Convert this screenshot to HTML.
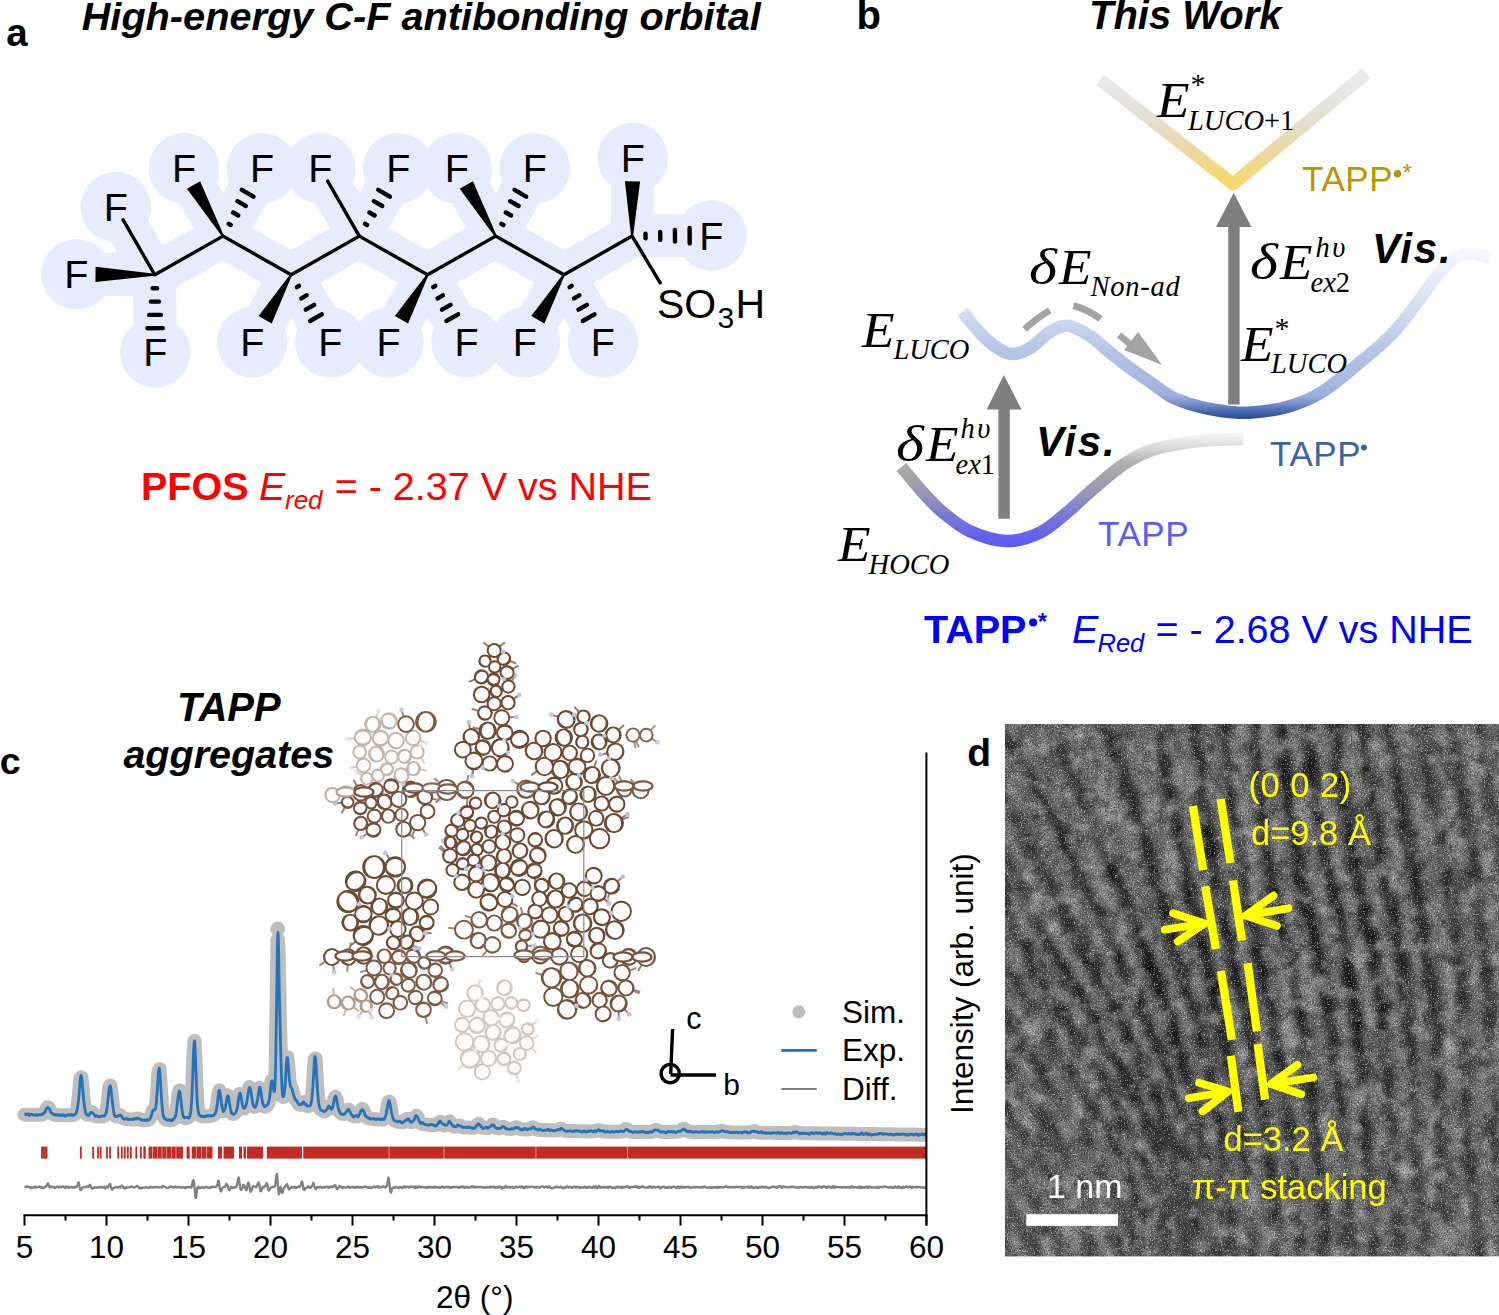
<!DOCTYPE html>
<html><head><meta charset="utf-8"><style>
html,body{margin:0;padding:0;background:#fff;width:1499px;height:1315px;overflow:hidden}
svg{display:block}
.s{font-family:"Liberation Sans",sans-serif}
.sb{font-family:"Liberation Sans",sans-serif;font-weight:bold}
.sbi{font-family:"Liberation Sans",sans-serif;font-weight:bold;font-style:italic}
.si{font-family:"Liberation Sans",sans-serif;font-style:italic}
.r{font-family:"Liberation Serif",serif}
.ri{font-family:"Liberation Serif",serif;font-style:italic}
</style></head><body>
<svg width="1499" height="1315" viewBox="0 0 1499 1315">
<rect width="1499" height="1315" fill="#fff"/>
<text x="6.2" y="45.8" class="sb" font-size="38.5">a</text>
<text x="81.7" y="30" class="sbi" font-size="39.7">High-energy C-F antibonding orbital</text>
<g><polyline points="154.8,274.8 223.0,236.1 291.2,274.8 359.3,236.1 427.5,274.8 495.7,236.1 563.9,274.8 632.1,236.1" fill="none" stroke="#E6ECFE" stroke-width="43" stroke-linejoin="round" stroke-linecap="round"/><line x1="154.8" y1="274.8" x2="115.8" y2="207.0" stroke="#E6ECFE" stroke-width="43" stroke-linecap="round"/><circle cx="115.8" cy="207.0" r="35.3" fill="#E6ECFE"/><line x1="154.8" y1="274.8" x2="76.3" y2="274.2" stroke="#E6ECFE" stroke-width="43" stroke-linecap="round"/><circle cx="76.3" cy="274.2" r="35.3" fill="#E6ECFE"/><line x1="154.8" y1="274.8" x2="155.3" y2="352.4" stroke="#E6ECFE" stroke-width="43" stroke-linecap="round"/><circle cx="155.3" cy="352.4" r="35.3" fill="#E6ECFE"/><line x1="223.0" y1="236.1" x2="184.0" y2="168.3" stroke="#E6ECFE" stroke-width="43" stroke-linecap="round"/><circle cx="184.0" cy="168.3" r="35.3" fill="#E6ECFE"/><line x1="223.0" y1="236.1" x2="262.0" y2="168.3" stroke="#E6ECFE" stroke-width="43" stroke-linecap="round"/><circle cx="262.0" cy="168.3" r="35.3" fill="#E6ECFE"/><line x1="291.2" y1="274.8" x2="252.2" y2="342.3" stroke="#E6ECFE" stroke-width="43" stroke-linecap="round"/><circle cx="252.2" cy="342.3" r="35.3" fill="#E6ECFE"/><line x1="291.2" y1="274.8" x2="330.2" y2="342.3" stroke="#E6ECFE" stroke-width="43" stroke-linecap="round"/><circle cx="330.2" cy="342.3" r="35.3" fill="#E6ECFE"/><line x1="359.3" y1="236.1" x2="320.3" y2="168.3" stroke="#E6ECFE" stroke-width="43" stroke-linecap="round"/><circle cx="320.3" cy="168.3" r="35.3" fill="#E6ECFE"/><line x1="359.3" y1="236.1" x2="398.3" y2="168.3" stroke="#E6ECFE" stroke-width="43" stroke-linecap="round"/><circle cx="398.3" cy="168.3" r="35.3" fill="#E6ECFE"/><line x1="427.5" y1="274.8" x2="388.5" y2="342.3" stroke="#E6ECFE" stroke-width="43" stroke-linecap="round"/><circle cx="388.5" cy="342.3" r="35.3" fill="#E6ECFE"/><line x1="427.5" y1="274.8" x2="466.5" y2="342.3" stroke="#E6ECFE" stroke-width="43" stroke-linecap="round"/><circle cx="466.5" cy="342.3" r="35.3" fill="#E6ECFE"/><line x1="495.7" y1="236.1" x2="456.7" y2="168.3" stroke="#E6ECFE" stroke-width="43" stroke-linecap="round"/><circle cx="456.7" cy="168.3" r="35.3" fill="#E6ECFE"/><line x1="495.7" y1="236.1" x2="534.7" y2="168.3" stroke="#E6ECFE" stroke-width="43" stroke-linecap="round"/><circle cx="534.7" cy="168.3" r="35.3" fill="#E6ECFE"/><line x1="563.9" y1="274.8" x2="524.9" y2="342.3" stroke="#E6ECFE" stroke-width="43" stroke-linecap="round"/><circle cx="524.9" cy="342.3" r="35.3" fill="#E6ECFE"/><line x1="563.9" y1="274.8" x2="602.9" y2="342.3" stroke="#E6ECFE" stroke-width="43" stroke-linecap="round"/><circle cx="602.9" cy="342.3" r="35.3" fill="#E6ECFE"/><line x1="632.1" y1="236.1" x2="632.7" y2="157.9" stroke="#E6ECFE" stroke-width="43" stroke-linecap="round"/><circle cx="632.7" cy="157.9" r="35.3" fill="#E6ECFE"/><line x1="632.1" y1="236.1" x2="711.4" y2="235.5" stroke="#E6ECFE" stroke-width="43" stroke-linecap="round"/><circle cx="711.4" cy="235.5" r="35.3" fill="#E6ECFE"/></g>
<g><polyline points="154.8,274.8 223.0,236.1 291.2,274.8 359.3,236.1 427.5,274.8 495.7,236.1 563.9,274.8 632.1,236.1" fill="none" stroke="#000" stroke-width="3.4" stroke-linejoin="miter"/><line x1="632.1" y1="236.1" x2="660.2" y2="282.8" stroke="#000" stroke-width="3.4" stroke-linecap="round"/><line x1="154.8" y1="274.8" x2="123.1" y2="219.8" stroke="#000" stroke-width="3.4" stroke-linecap="round"/><polygon points="154.8,273.8 95.6,266.7 95.4,281.9 154.8,275.8" fill="#000"/><line x1="152.7" y1="288.3" x2="157.1" y2="288.3" stroke="#000" stroke-width="4.4" stroke-linecap="round"/><line x1="150.9" y1="301.6" x2="159.0" y2="301.6" stroke="#000" stroke-width="4.4" stroke-linecap="round"/><line x1="149.2" y1="314.9" x2="160.9" y2="314.9" stroke="#000" stroke-width="4.4" stroke-linecap="round"/><line x1="147.5" y1="328.2" x2="162.8" y2="328.1" stroke="#000" stroke-width="4.4" stroke-linecap="round"/><polygon points="223.8,235.6 200.1,181.2 187.0,188.7 222.1,236.6" fill="#000"/><line x1="230.8" y1="225.0" x2="228.7" y2="223.8" stroke="#000" stroke-width="4.4" stroke-linecap="round"/><line x1="238.3" y1="215.5" x2="233.1" y2="212.5" stroke="#000" stroke-width="4.4" stroke-linecap="round"/><line x1="245.9" y1="206.0" x2="237.4" y2="201.2" stroke="#000" stroke-width="4.4" stroke-linecap="round"/><line x1="253.5" y1="196.6" x2="241.8" y2="189.8" stroke="#000" stroke-width="4.4" stroke-linecap="round"/><polygon points="290.3,274.3 258.6,316.0 271.7,323.6 292.0,275.3" fill="#000"/><line x1="296.9" y1="287.1" x2="299.0" y2="285.9" stroke="#000" stroke-width="4.4" stroke-linecap="round"/><line x1="301.3" y1="298.4" x2="306.6" y2="295.4" stroke="#000" stroke-width="4.4" stroke-linecap="round"/><line x1="305.7" y1="309.7" x2="314.2" y2="304.8" stroke="#000" stroke-width="4.4" stroke-linecap="round"/><line x1="310.1" y1="321.0" x2="321.8" y2="314.3" stroke="#000" stroke-width="4.4" stroke-linecap="round"/><line x1="359.3" y1="236.1" x2="327.7" y2="181.1" stroke="#000" stroke-width="3.4" stroke-linecap="round"/><line x1="367.1" y1="225.0" x2="365.0" y2="223.8" stroke="#000" stroke-width="4.4" stroke-linecap="round"/><line x1="374.7" y1="215.5" x2="369.4" y2="212.5" stroke="#000" stroke-width="4.4" stroke-linecap="round"/><line x1="382.3" y1="206.0" x2="373.8" y2="201.2" stroke="#000" stroke-width="4.4" stroke-linecap="round"/><line x1="389.9" y1="196.6" x2="378.2" y2="189.8" stroke="#000" stroke-width="4.4" stroke-linecap="round"/><polygon points="426.7,274.3 394.9,316.0 408.1,323.6 428.4,275.3" fill="#000"/><line x1="433.2" y1="287.1" x2="435.3" y2="285.9" stroke="#000" stroke-width="4.4" stroke-linecap="round"/><line x1="437.6" y1="298.4" x2="442.9" y2="295.4" stroke="#000" stroke-width="4.4" stroke-linecap="round"/><line x1="442.0" y1="309.7" x2="450.5" y2="304.8" stroke="#000" stroke-width="4.4" stroke-linecap="round"/><line x1="446.4" y1="321.0" x2="458.1" y2="314.3" stroke="#000" stroke-width="4.4" stroke-linecap="round"/><polygon points="496.6,235.6 472.9,181.2 459.7,188.7 494.8,236.6" fill="#000"/><line x1="503.5" y1="225.0" x2="501.4" y2="223.8" stroke="#000" stroke-width="4.4" stroke-linecap="round"/><line x1="511.1" y1="215.5" x2="505.8" y2="212.5" stroke="#000" stroke-width="4.4" stroke-linecap="round"/><line x1="518.6" y1="206.0" x2="510.2" y2="201.2" stroke="#000" stroke-width="4.4" stroke-linecap="round"/><line x1="526.2" y1="196.6" x2="514.5" y2="189.8" stroke="#000" stroke-width="4.4" stroke-linecap="round"/><polygon points="563.0,274.3 531.3,316.0 544.4,323.6 564.7,275.3" fill="#000"/><line x1="569.6" y1="287.1" x2="571.7" y2="285.9" stroke="#000" stroke-width="4.4" stroke-linecap="round"/><line x1="574.0" y1="298.4" x2="579.3" y2="295.4" stroke="#000" stroke-width="4.4" stroke-linecap="round"/><line x1="578.4" y1="309.7" x2="586.9" y2="304.8" stroke="#000" stroke-width="4.4" stroke-linecap="round"/><line x1="582.8" y1="321.0" x2="594.5" y2="314.3" stroke="#000" stroke-width="4.4" stroke-linecap="round"/><polygon points="633.1,236.1 640.1,181.5 624.9,181.3 631.1,236.1" fill="#000"/><line x1="645.6" y1="238.2" x2="645.5" y2="233.8" stroke="#000" stroke-width="4.4" stroke-linecap="round"/><line x1="660.3" y1="239.9" x2="660.2" y2="231.9" stroke="#000" stroke-width="4.4" stroke-linecap="round"/><line x1="675.0" y1="241.6" x2="674.9" y2="229.9" stroke="#000" stroke-width="4.4" stroke-linecap="round"/><line x1="689.7" y1="243.4" x2="689.6" y2="228.0" stroke="#000" stroke-width="4.4" stroke-linecap="round"/></g>
<g><text x="115.8" y="221.0" text-anchor="middle" class="s" font-size="39.5">F</text><text x="76.3" y="288.2" text-anchor="middle" class="s" font-size="39.5">F</text><text x="155.3" y="366.4" text-anchor="middle" class="s" font-size="39.5">F</text><text x="184.0" y="182.3" text-anchor="middle" class="s" font-size="39.5">F</text><text x="262.0" y="182.3" text-anchor="middle" class="s" font-size="39.5">F</text><text x="252.2" y="356.3" text-anchor="middle" class="s" font-size="39.5">F</text><text x="330.2" y="356.3" text-anchor="middle" class="s" font-size="39.5">F</text><text x="320.3" y="182.3" text-anchor="middle" class="s" font-size="39.5">F</text><text x="398.3" y="182.3" text-anchor="middle" class="s" font-size="39.5">F</text><text x="388.5" y="356.3" text-anchor="middle" class="s" font-size="39.5">F</text><text x="466.5" y="356.3" text-anchor="middle" class="s" font-size="39.5">F</text><text x="456.7" y="182.3" text-anchor="middle" class="s" font-size="39.5">F</text><text x="534.7" y="182.3" text-anchor="middle" class="s" font-size="39.5">F</text><text x="524.9" y="356.3" text-anchor="middle" class="s" font-size="39.5">F</text><text x="602.9" y="356.3" text-anchor="middle" class="s" font-size="39.5">F</text><text x="632.7" y="171.9" text-anchor="middle" class="s" font-size="39.5">F</text><text x="711.4" y="249.5" text-anchor="middle" class="s" font-size="39.5">F</text></g>
<text x="657" y="317.5" class="s" font-size="41">SO</text><text x="717.5" y="327.6" class="s" font-size="30">3</text><text x="735.4" y="317.5" class="s" font-size="41">H</text>
<g fill="#FF0000"><text x="141" y="499.5" class="sb" font-size="39.5">PFOS</text><text x="259" y="499.5" class="si" font-size="39.5">E</text><text x="285" y="509" class="si" font-size="26">red</text><text x="334.7" y="499.5" class="s" font-size="39.5">= - 2.37 V vs NHE</text></g>
<text x="856.4" y="28.7" class="sb" font-size="40">b</text>
<text x="1089" y="29.1" class="sbi" font-size="40">This Work</text>
<defs>
<linearGradient id="gY" gradientUnits="userSpaceOnUse" x1="0" y1="72" x2="0" y2="190">
<stop offset="0" stop-color="#EBEBEE"/><stop offset="0.3" stop-color="#E4E2DC"/><stop offset="0.55" stop-color="#E6DBB8"/><stop offset="0.8" stop-color="#F3D784"/><stop offset="1" stop-color="#FCD764"/></linearGradient>
<linearGradient id="gB" gradientUnits="userSpaceOnUse" x1="0" y1="250" x2="0" y2="419">
<stop offset="0" stop-color="#F6F8FC"/><stop offset="0.36" stop-color="#D2DDF0"/><stop offset="0.47" stop-color="#C4D2EC"/><stop offset="0.62" stop-color="#B2C3E7"/><stop offset="0.78" stop-color="#A6B9E3"/><stop offset="0.86" stop-color="#9BB0DE"/><stop offset="0.91" stop-color="#7890CC"/><stop offset="0.95" stop-color="#4E6CB2"/><stop offset="1" stop-color="#284A9A"/></linearGradient>
<linearGradient id="gP" gradientUnits="userSpaceOnUse" x1="0" y1="436" x2="0" y2="548">
<stop offset="0" stop-color="#F2F2F4"/><stop offset="0.125" stop-color="#D4D4D6"/><stop offset="0.23" stop-color="#B2B2B2"/><stop offset="0.35" stop-color="#A5A5A8"/><stop offset="0.48" stop-color="#9A9AB2"/><stop offset="0.61" stop-color="#8888C8"/><stop offset="0.75" stop-color="#7474DC"/><stop offset="0.88" stop-color="#6464EE"/><stop offset="1" stop-color="#5858F6"/></linearGradient>
</defs>
<path d="M1100,79.6 L1233,184 L1366.2,73.3" fill="none" stroke="url(#gY)" stroke-width="13" stroke-linejoin="round"/>
<path d="M962.6,311.8 C965.5,315.3 974.4,327.1 980.0,333.0 C985.6,338.9 990.7,343.5 996.0,347.0 C1001.3,350.5 1006.3,353.8 1012.0,354.0 C1017.7,354.2 1023.7,351.7 1030.0,348.0 C1036.3,344.3 1043.7,335.7 1050.0,332.0 C1056.3,328.3 1061.3,325.1 1068.0,325.8 C1074.7,326.5 1083.0,331.6 1090.0,336.0 C1097.0,340.4 1103.3,347.2 1110.0,352.5 C1116.7,357.8 1123.3,363.1 1130.0,368.0 C1136.7,372.9 1143.3,377.3 1150.0,382.0 C1156.7,386.7 1163.3,392.3 1170.0,396.0 C1176.7,399.7 1183.3,401.8 1190.0,404.0 C1196.7,406.2 1203.3,407.7 1210.0,409.0 C1216.7,410.3 1223.2,411.4 1230.0,412.0 C1236.8,412.6 1241.0,413.4 1250.5,412.6 C1260.0,411.8 1275.1,410.4 1287.0,407.0 C1298.9,403.6 1310.2,399.2 1322.0,392.0 C1333.8,384.8 1346.3,373.7 1358.0,364.0 C1369.7,354.3 1382.2,344.2 1392.0,334.0 C1401.8,323.8 1409.7,312.5 1417.0,303.0 C1424.3,293.5 1430.0,284.3 1436.0,277.0 C1442.0,269.7 1447.5,262.9 1453.0,259.0 C1458.5,255.1 1462.8,253.8 1469.0,253.5 C1475.2,253.2 1486.5,256.8 1490.0,257.5" fill="none" stroke="url(#gB)" stroke-width="12.5"/>
<path d="M901.4,466.9 C904.9,471.1 915.7,484.5 922.5,492.0 C929.3,499.5 934.1,505.1 942.0,511.7 C949.9,518.2 959.2,526.4 970.0,531.3 C980.8,536.2 994.8,540.9 1006.5,541.1 C1018.2,541.3 1029.8,537.6 1040.0,532.7 C1050.2,527.8 1058.7,519.4 1068.0,511.7 C1077.3,504.0 1086.6,494.4 1096.0,486.5 C1105.4,478.6 1114.8,470.1 1124.2,464.0 C1133.6,457.9 1140.5,453.7 1152.2,450.0 C1163.9,446.3 1179.0,443.5 1194.2,441.6 C1209.4,439.7 1235.1,439.3 1243.3,438.8" fill="none" stroke="url(#gP)" stroke-width="12.5"/>
<path d="M1228.2,404.5 L1228.2,227 L1216,227 L1233.7,193 L1251.5,227 L1239.6,227 L1239.6,404.5 Z" fill="#7F7F7F"/>
<path d="M998.4,518.7 L998.4,409.6 L986.6,409.6 L1003.8,375 L1021.6,409.6 L1009.8,409.6 L1009.8,518.7 Z" fill="#7F7F7F"/>
<g stroke="#A3A3A3" stroke-width="6.8" fill="none"><path d="M1024.6,329.4 Q1036,318.5 1049.7,310.4"/><path d="M1073.3,305.6 Q1088,309.5 1100.5,319"/><path d="M1119.1,335 L1131.1,345"/></g>
<polygon points="1124.1,350 1138.1,332 1162.1,365" fill="#A3A3A3"/>
<text x="0" y="0" class="ri" font-size="50" transform="translate(1157,117) scale(1.065,1)">E</text>
<text x="1190.5" y="94" class="r" font-size="30">*</text>
<text x="1188" y="129.8" class="ri" font-size="28.5">LUCO<tspan class="r" font-style="normal">+1</tspan></text>
<text x="1302" y="190.8" class="s" font-size="35" letter-spacing="0.6" fill="#C29204">TAPP</text>
<circle cx="1397.5" cy="173.7" r="3.7" fill="#C29204"/><text x="1402.6" y="181.4" class="s" font-size="24" fill="#C29204">*</text>
<text x="1029" y="284" class="ri" font-size="50" transform="translate(1029,284) scale(1.2,1) translate(-1029,-284)">δ</text>
<text x="0" y="0" class="ri" font-size="50" transform="translate(1059,284) scale(1.065,1)">E</text>
<text x="1090.6" y="295.7" class="ri" font-size="28.5"><tspan letter-spacing="0.75">Non-ad</tspan></text>
<text x="1250" y="279" class="ri" font-size="50" transform="translate(1250,279) scale(1.2,1) translate(-1250,-279)">δ</text>
<text x="0" y="0" class="ri" font-size="50" transform="translate(1280,278.9) scale(1.065,1)">E</text>
<text x="1315.5" y="257.2" class="ri" font-size="28.5">h<tspan dx="2.5">υ</tspan></text>
<text x="1310.5" y="291.5" class="ri" font-size="28.5">ex<tspan class="r" font-style="normal">2</tspan></text>
<text x="1372" y="262.8" class="sbi" font-size="42" letter-spacing="1.8">Vis.</text>
<text x="0" y="0" class="ri" font-size="50" transform="translate(862,346.8) scale(1.065,1)">E</text>
<text x="893.4" y="359" class="ri" font-size="28.5">LUCO</text>
<text x="0" y="0" class="ri" font-size="50" transform="translate(1241,360.8) scale(1.065,1)">E</text>
<text x="1274.5" y="338" class="r" font-size="30">*</text>
<text x="1271" y="372.8" class="ri" font-size="28.5">LUCO</text>
<text x="896" y="461" class="ri" font-size="50" transform="translate(896,461) scale(1.2,1) translate(-896,-461)">δ</text>
<text x="0" y="0" class="ri" font-size="50" transform="translate(926,460.6) scale(1.065,1)">E</text>
<text x="960.5" y="438.4" class="ri" font-size="28.5">h<tspan dx="2.5">υ</tspan></text>
<text x="955.5" y="473.7" class="ri" font-size="28.5">ex<tspan class="r" font-style="normal">1</tspan></text>
<text x="1036" y="455.7" class="sbi" font-size="42" letter-spacing="1.8">Vis.</text>
<text x="0" y="0" class="ri" font-size="50" transform="translate(838,560.8) scale(1.065,1)">E</text>
<text x="868.6" y="574.2" class="ri" font-size="28.5">HOCO</text>
<text x="1270" y="465.8" class="s" font-size="35" letter-spacing="0.6" fill="#3B63A9">TAPP</text>
<circle cx="1363.9" cy="447.5" r="3" fill="#3B63A9"/>
<text x="1098" y="545.8" class="s" font-size="35" letter-spacing="0.6" fill="#5C5CF6">TAPP</text>
<text x="924" y="642.7" class="sb" font-size="39.5" fill="#0000FF">TAPP</text>
<circle cx="1033.1" cy="622.4" r="4" fill="#0000FF"/><text x="1038.1" y="629.9" class="sb" font-size="23" fill="#0000FF">*</text>
<text x="1072" y="642.7" class="si" font-size="39.5" fill="#0000FF">E</text>
<text x="1097.5" y="652.3" class="si" font-size="25.5" fill="#0000FF">Red</text>
<text x="1155.5" y="642.7" class="s" font-size="39.5" fill="#0000FF">= - 2.68 V vs NHE</text>
<text x="-0.3" y="774.1" class="sb" font-size="37.5">c</text>
<text x="228.8" y="720.8" text-anchor="middle" class="sbi" font-size="40">TAPP</text>
<text x="228.8" y="767.5" text-anchor="middle" class="sbi" font-size="39.5">aggregates</text>
<g><line x1="347.8" y1="964.8" x2="347.2" y2="971.7" stroke="#9E8475" stroke-width="2"/><line x1="349.7" y1="949.3" x2="350.9" y2="942.5" stroke="#9E8475" stroke-width="2"/><line x1="441.3" y1="1000.9" x2="447.8" y2="1003.5" stroke="#A38B7C" stroke-width="2"/><line x1="440.4" y1="1002.5" x2="446.0" y2="1006.7" stroke="#A38B7C" stroke-width="2"/><circle cx="446.0" cy="1006.7" r="2.4" fill="#C4CBE2"/><line x1="579.2" y1="712.0" x2="574.4" y2="706.9" stroke="#997E6E" stroke-width="2"/><line x1="424.5" y1="933.4" x2="431.5" y2="932.9" stroke="#997E6E" stroke-width="2"/><line x1="487.0" y1="950.7" x2="482.3" y2="955.8" stroke="#A38B7C" stroke-width="2"/><line x1="522.6" y1="914.0" x2="520.8" y2="907.3" stroke="#A38B7C" stroke-width="2"/><line x1="511.6" y1="681.3" x2="515.2" y2="675.3" stroke="#997E6E" stroke-width="2"/><circle cx="515.2" cy="675.3" r="2.4" fill="#BDC5DF"/><line x1="420.0" y1="769.5" x2="427.0" y2="770.5" stroke="#D6CBC5" stroke-width="2"/><line x1="355.7" y1="941.5" x2="350.2" y2="945.9" stroke="#997E6E" stroke-width="2"/><line x1="356.9" y1="786.0" x2="353.6" y2="779.8" stroke="#9E8475" stroke-width="2"/><line x1="509.2" y1="717.3" x2="516.2" y2="716.9" stroke="#997E6E" stroke-width="2"/><circle cx="516.2" cy="716.9" r="2.4" fill="#BDC5DF"/><line x1="432.1" y1="798.6" x2="438.9" y2="800.2" stroke="#9E8475" stroke-width="2"/><circle cx="438.9" cy="800.2" r="2.4" fill="#C0C8E1"/><line x1="467.0" y1="805.9" x2="467.3" y2="798.9" stroke="#997E6E" stroke-width="2"/><line x1="375.9" y1="717.3" x2="378.7" y2="710.9" stroke="#D6CBC5" stroke-width="2"/><circle cx="378.7" cy="710.9" r="2.4" fill="#E4E8F2"/><line x1="354.8" y1="738.3" x2="347.8" y2="739.1" stroke="#D6CBC5" stroke-width="2"/><circle cx="347.8" cy="739.1" r="2.4" fill="#E4E8F2"/><line x1="463.2" y1="1064.9" x2="458.0" y2="1069.6" stroke="#E0D8D3" stroke-width="2"/><line x1="479.5" y1="728.9" x2="472.7" y2="727.4" stroke="#997E6E" stroke-width="2"/><line x1="425.4" y1="1016.9" x2="427.2" y2="1023.7" stroke="#A38B7C" stroke-width="2"/><line x1="345.9" y1="1009.3" x2="343.5" y2="1015.9" stroke="#C7B8AF" stroke-width="2"/><line x1="353.5" y1="1007.1" x2="359.0" y2="1011.4" stroke="#C7B8AF" stroke-width="2"/><line x1="333.1" y1="965.0" x2="334.2" y2="972.0" stroke="#9E8475" stroke-width="2"/><circle cx="334.2" cy="972.0" r="2.4" fill="#C0C8E1"/><line x1="325.2" y1="961.5" x2="319.3" y2="965.4" stroke="#9E8475" stroke-width="2"/><line x1="389.6" y1="858.9" x2="385.5" y2="853.2" stroke="#997E6E" stroke-width="2"/><circle cx="385.5" cy="853.2" r="2.4" fill="#BDC5DF"/><line x1="542.2" y1="974.9" x2="535.5" y2="972.8" stroke="#9E8475" stroke-width="2"/><line x1="447.5" y1="835.5" x2="443.0" y2="840.8" stroke="#997E6E" stroke-width="2"/><circle cx="443.0" cy="840.8" r="2.4" fill="#BDC5DF"/><line x1="471.5" y1="917.7" x2="464.8" y2="915.8" stroke="#A38B7C" stroke-width="2"/><line x1="488.9" y1="646.6" x2="483.3" y2="642.4" stroke="#997E6E" stroke-width="2"/><line x1="499.5" y1="646.5" x2="505.1" y2="642.3" stroke="#997E6E" stroke-width="2"/><line x1="412.8" y1="945.4" x2="419.0" y2="948.6" stroke="#997E6E" stroke-width="2"/><circle cx="419.0" cy="948.6" r="2.4" fill="#BDC5DF"/><line x1="455.0" y1="928.6" x2="448.1" y2="927.7" stroke="#A38B7C" stroke-width="2"/><line x1="356.8" y1="766.8" x2="349.9" y2="768.1" stroke="#D6CBC5" stroke-width="2"/><line x1="536.9" y1="771.3" x2="531.1" y2="775.1" stroke="#997E6E" stroke-width="2"/><line x1="513.5" y1="698.9" x2="519.3" y2="695.0" stroke="#997E6E" stroke-width="2"/><line x1="513.5" y1="698.9" x2="519.3" y2="694.9" stroke="#997E6E" stroke-width="2"/><circle cx="519.3" cy="694.9" r="2.4" fill="#BDC5DF"/><line x1="362.0" y1="775.4" x2="356.2" y2="771.5" stroke="#D6CBC5" stroke-width="2"/><circle cx="356.2" cy="771.5" r="2.4" fill="#E4E8F2"/><line x1="532.2" y1="1039.1" x2="538.0" y2="1035.1" stroke="#E0D8D3" stroke-width="2"/><line x1="531.5" y1="1047.9" x2="536.5" y2="1052.8" stroke="#E0D8D3" stroke-width="2"/><line x1="532.2" y1="1025.1" x2="537.3" y2="1020.4" stroke="#E0D8D3" stroke-width="2"/><circle cx="537.3" cy="1020.4" r="2.4" fill="#EBEDF5"/><line x1="518.6" y1="784.6" x2="512.7" y2="780.9" stroke="#A38B7C" stroke-width="2"/><circle cx="512.7" cy="780.9" r="2.4" fill="#C4CBE2"/><line x1="475.3" y1="679.3" x2="468.8" y2="681.9" stroke="#997E6E" stroke-width="2"/><line x1="478.4" y1="710.9" x2="471.7" y2="708.8" stroke="#997E6E" stroke-width="2"/><line x1="467.0" y1="781.6" x2="468.5" y2="774.8" stroke="#A38B7C" stroke-width="2"/><line x1="629.6" y1="970.4" x2="636.2" y2="968.3" stroke="#9E8475" stroke-width="2"/><line x1="355.8" y1="991.3" x2="350.3" y2="986.9" stroke="#C7B8AF" stroke-width="2"/><line x1="449.3" y1="963.0" x2="452.3" y2="969.3" stroke="#A38B7C" stroke-width="2"/><circle cx="452.3" cy="969.3" r="2.4" fill="#C4CBE2"/><line x1="436.9" y1="955.3" x2="429.9" y2="955.5" stroke="#A38B7C" stroke-width="2"/><line x1="594.3" y1="767.2" x2="596.4" y2="760.5" stroke="#997E6E" stroke-width="2"/><line x1="367.4" y1="833.5" x2="361.5" y2="837.3" stroke="#9E8475" stroke-width="2"/><circle cx="361.5" cy="837.3" r="2.4" fill="#C0C8E1"/><line x1="617.4" y1="881.4" x2="622.8" y2="876.9" stroke="#997E6E" stroke-width="2"/><circle cx="622.8" cy="876.9" r="2.4" fill="#BDC5DF"/><line x1="609.3" y1="893.4" x2="607.2" y2="900.1" stroke="#997E6E" stroke-width="2"/><circle cx="607.2" cy="900.1" r="2.4" fill="#BDC5DF"/><line x1="633.4" y1="989.9" x2="640.2" y2="991.6" stroke="#9E8475" stroke-width="2"/><line x1="633.2" y1="990.8" x2="639.7" y2="993.3" stroke="#9E8475" stroke-width="2"/><line x1="558.1" y1="716.8" x2="551.4" y2="714.7" stroke="#997E6E" stroke-width="2"/><circle cx="551.4" cy="714.7" r="2.4" fill="#BDC5DF"/><line x1="358.3" y1="829.7" x2="355.7" y2="836.2" stroke="#9E8475" stroke-width="2"/><line x1="516.2" y1="1074.1" x2="518.1" y2="1080.8" stroke="#E0D8D3" stroke-width="2"/><circle cx="518.1" cy="1080.8" r="2.4" fill="#EBEDF5"/><line x1="473.2" y1="769.2" x2="472.7" y2="776.2" stroke="#997E6E" stroke-width="2"/><line x1="472.9" y1="769.2" x2="472.1" y2="776.2" stroke="#997E6E" stroke-width="2"/><circle cx="472.1" cy="776.2" r="2.4" fill="#BDC5DF"/><line x1="622.4" y1="819.6" x2="628.8" y2="816.9" stroke="#997E6E" stroke-width="2"/><line x1="621.6" y1="818.1" x2="627.4" y2="814.2" stroke="#997E6E" stroke-width="2"/><circle cx="627.4" cy="814.2" r="2.4" fill="#BDC5DF"/><line x1="422.2" y1="828.9" x2="426.2" y2="834.6" stroke="#9E8475" stroke-width="2"/><circle cx="426.2" cy="834.6" r="2.4" fill="#C0C8E1"/><line x1="414.7" y1="829.7" x2="412.1" y2="836.2" stroke="#9E8475" stroke-width="2"/><line x1="650.6" y1="730.4" x2="655.3" y2="725.2" stroke="#A89183" stroke-width="2"/><line x1="651.6" y1="738.5" x2="657.6" y2="742.2" stroke="#A89183" stroke-width="2"/><circle cx="657.6" cy="742.2" r="2.4" fill="#C7CEE4"/><line x1="420.0" y1="740.6" x2="426.5" y2="743.2" stroke="#D6CBC5" stroke-width="2"/><circle cx="426.5" cy="743.2" r="2.4" fill="#E4E8F2"/><line x1="420.8" y1="757.7" x2="424.6" y2="763.6" stroke="#D6CBC5" stroke-width="2"/><line x1="403.6" y1="716.6" x2="401.5" y2="709.9" stroke="#A38B7C" stroke-width="2"/><circle cx="401.5" cy="709.9" r="2.4" fill="#C4CBE2"/><line x1="607.2" y1="753.3" x2="600.3" y2="754.7" stroke="#997E6E" stroke-width="2"/><circle cx="600.3" cy="754.7" r="2.4" fill="#BDC5DF"/><line x1="440.2" y1="797.6" x2="435.7" y2="802.9" stroke="#A38B7C" stroke-width="2"/><line x1="439.5" y1="783.1" x2="434.4" y2="778.3" stroke="#A38B7C" stroke-width="2"/><line x1="418.4" y1="788.2" x2="425.3" y2="787.1" stroke="#9E8475" stroke-width="2"/><circle cx="425.3" cy="787.1" r="2.4" fill="#C0C8E1"/><line x1="535.1" y1="878.3" x2="535.7" y2="885.2" stroke="#997E6E" stroke-width="2"/><line x1="534.8" y1="878.3" x2="535.3" y2="885.3" stroke="#997E6E" stroke-width="2"/><line x1="641.6" y1="964.8" x2="638.1" y2="970.9" stroke="#9E8475" stroke-width="2"/><line x1="618.6" y1="1011.7" x2="618.7" y2="1018.7" stroke="#9E8475" stroke-width="2"/><circle cx="618.7" cy="1018.7" r="2.4" fill="#C0C8E1"/><line x1="624.4" y1="1009.4" x2="629.3" y2="1014.3" stroke="#9E8475" stroke-width="2"/><circle cx="629.3" cy="1014.3" r="2.4" fill="#C0C8E1"/><line x1="409.3" y1="834.2" x2="414.6" y2="838.7" stroke="#9E8475" stroke-width="2"/><line x1="635.1" y1="784.2" x2="630.4" y2="779.1" stroke="#A38B7C" stroke-width="2"/><line x1="344.9" y1="807.3" x2="341.5" y2="813.4" stroke="#9E8475" stroke-width="2"/><line x1="341.9" y1="802.8" x2="335.0" y2="803.6" stroke="#9E8475" stroke-width="2"/><circle cx="335.0" cy="803.6" r="2.4" fill="#C0C8E1"/><line x1="603.8" y1="898.8" x2="608.9" y2="903.6" stroke="#997E6E" stroke-width="2"/><circle cx="608.9" cy="903.6" r="2.4" fill="#BDC5DF"/><line x1="511.5" y1="903.0" x2="517.7" y2="906.3" stroke="#997E6E" stroke-width="2"/><line x1="509.8" y1="661.0" x2="516.3" y2="663.5" stroke="#997E6E" stroke-width="2"/><line x1="470.0" y1="729.1" x2="468.9" y2="722.2" stroke="#997E6E" stroke-width="2"/><circle cx="468.9" cy="722.2" r="2.4" fill="#BDC5DF"/><line x1="512.7" y1="669.0" x2="518.6" y2="665.3" stroke="#997E6E" stroke-width="2"/><line x1="477.9" y1="985.8" x2="480.5" y2="979.3" stroke="#E0D8D3" stroke-width="2"/><line x1="368.7" y1="1011.2" x2="371.8" y2="1017.5" stroke="#C7B8AF" stroke-width="2"/><circle cx="371.8" cy="1017.5" r="2.4" fill="#DADFED"/><line x1="362.7" y1="1010.7" x2="358.6" y2="1016.4" stroke="#C7B8AF" stroke-width="2"/><circle cx="358.6" cy="1016.4" r="2.4" fill="#DADFED"/><line x1="618.8" y1="729.7" x2="623.9" y2="725.0" stroke="#997E6E" stroke-width="2"/><line x1="634.2" y1="741.6" x2="635.6" y2="748.4" stroke="#A89183" stroke-width="2"/><line x1="635.9" y1="741.0" x2="638.9" y2="747.3" stroke="#A89183" stroke-width="2"/><line x1="619.1" y1="783.4" x2="614.2" y2="778.3" stroke="#A38B7C" stroke-width="2"/><line x1="621.5" y1="781.8" x2="619.0" y2="775.3" stroke="#A38B7C" stroke-width="2"/><line x1="444.4" y1="851.6" x2="438.7" y2="847.5" stroke="#997E6E" stroke-width="2"/><line x1="445.1" y1="850.8" x2="440.2" y2="845.7" stroke="#997E6E" stroke-width="2"/><line x1="333.7" y1="995.1" x2="333.1" y2="988.1" stroke="#C7B8AF" stroke-width="2"/><line x1="527.4" y1="945.9" x2="534.4" y2="945.5" stroke="#A38B7C" stroke-width="2"/><circle cx="534.4" cy="945.5" r="2.4" fill="#C4CBE2"/><line x1="366.7" y1="970.2" x2="360.0" y2="972.2" stroke="#A38B7C" stroke-width="2"/><circle cx="601.9" cy="917.2" r="9.0" fill="#6E4730"/><circle cx="561.2" cy="928.5" r="8.5" fill="#6E4730"/><circle cx="569.7" cy="988.7" r="9.8" fill="#75503A"/><circle cx="348.3" cy="957.0" r="8.7" fill="#75503A"/><circle cx="583.8" cy="829.9" r="9.7" fill="#6E4730"/><circle cx="599.1" cy="723.5" r="9.3" fill="#6E4730"/><circle cx="363.4" cy="914.0" r="9.2" fill="#6E4730"/><circle cx="476.5" cy="837.1" r="6.7" fill="#6E4730"/><circle cx="347.9" cy="901.6" r="11.5" fill="#6E4730"/><circle cx="599.6" cy="1000.3" r="8.2" fill="#75503A"/><circle cx="434.8" cy="998.3" r="7.9" fill="#7C5944"/><circle cx="596.2" cy="818.3" r="8.3" fill="#6E4730"/><circle cx="583.5" cy="716.7" r="7.2" fill="#6E4730"/><circle cx="494.3" cy="923.0" r="8.6" fill="#7C5944"/><circle cx="482.3" cy="1071.9" r="8.5" fill="#D3C7C0"/><circle cx="556.6" cy="881.1" r="8.7" fill="#6E4730"/><circle cx="392.3" cy="993.2" r="7.2" fill="#7C5944"/><circle cx="417.1" cy="933.9" r="8.3" fill="#6E4730"/><circle cx="492.4" cy="944.9" r="8.8" fill="#7C5944"/><circle cx="578.6" cy="811.9" r="9.5" fill="#6E4730"/><circle cx="614.8" cy="930.1" r="9.9" fill="#6E4730"/><circle cx="360.3" cy="808.1" r="7.3" fill="#75503A"/><circle cx="481.7" cy="694.5" r="8.8" fill="#6E4730"/><circle cx="355.6" cy="881.2" r="10.7" fill="#6E4730"/><circle cx="483.0" cy="747.6" r="8.4" fill="#6E4730"/><circle cx="524.5" cy="921.3" r="8.4" fill="#7C5944"/><circle cx="463.2" cy="848.1" r="8.2" fill="#6E4730"/><circle cx="535.2" cy="839.9" r="7.8" fill="#6E4730"/><circle cx="579.2" cy="954.0" r="9.1" fill="#6E4730"/><circle cx="426.7" cy="922.6" r="7.9" fill="#6E4730"/><circle cx="534.0" cy="751.0" r="9.3" fill="#6E4730"/><circle cx="508.4" cy="686.6" r="7.1" fill="#6E4730"/><circle cx="367.6" cy="981.5" r="7.5" fill="#7C5944"/><circle cx="413.5" cy="768.6" r="7.5" fill="#C5B5AC"/><circle cx="583.0" cy="1000.4" r="8.5" fill="#75503A"/><circle cx="488.9" cy="902.3" r="9.4" fill="#6E4730"/><circle cx="567.1" cy="1009.4" r="10.3" fill="#75503A"/><circle cx="477.0" cy="849.5" r="6.7" fill="#6E4730"/><circle cx="415.5" cy="997.5" r="7.8" fill="#7C5944"/><circle cx="363.3" cy="935.6" r="10.6" fill="#6E4730"/><circle cx="360.6" cy="792.8" r="8.7" fill="#75503A"/><circle cx="541.7" cy="796.3" r="9.0" fill="#6E4730"/><circle cx="493.1" cy="1032.4" r="8.6" fill="#D3C7C0"/><circle cx="599.6" cy="838.7" r="10.6" fill="#6E4730"/><circle cx="574.4" cy="939.2" r="8.5" fill="#6E4730"/><circle cx="501.7" cy="717.7" r="8.4" fill="#6E4730"/><circle cx="511.9" cy="802.0" r="6.7" fill="#6E4730"/><circle cx="574.0" cy="781.9" r="8.8" fill="#6E4730"/><circle cx="494.7" cy="666.9" r="6.7" fill="#6E4730"/><circle cx="582.3" cy="742.0" r="7.2" fill="#6E4730"/><circle cx="424.8" cy="796.9" r="8.4" fill="#75503A"/><circle cx="398.7" cy="799.3" r="8.6" fill="#75503A"/><circle cx="470.0" cy="825.5" r="6.7" fill="#6E4730"/><circle cx="466.7" cy="812.4" r="7.4" fill="#6E4730"/><circle cx="372.7" cy="724.3" r="8.6" fill="#C5B5AC"/><circle cx="362.8" cy="737.5" r="9.0" fill="#C5B5AC"/><circle cx="470.3" cy="1058.6" r="10.4" fill="#D3C7C0"/><circle cx="504.4" cy="987.8" r="8.5" fill="#D3C7C0"/><circle cx="504.0" cy="1058.8" r="7.4" fill="#D3C7C0"/><circle cx="408.3" cy="985.3" r="7.5" fill="#7C5944"/><circle cx="610.3" cy="960.4" r="8.4" fill="#75503A"/><circle cx="575.5" cy="844.4" r="9.4" fill="#6E4730"/><circle cx="487.7" cy="730.7" r="9.2" fill="#6E4730"/><circle cx="405.0" cy="885.5" r="8.5" fill="#6E4730"/><circle cx="350.3" cy="922.6" r="8.9" fill="#6E4730"/><circle cx="404.4" cy="756.4" r="7.6" fill="#C5B5AC"/><circle cx="555.6" cy="899.0" r="9.5" fill="#6E4730"/><circle cx="450.5" cy="842.6" r="6.7" fill="#6E4730"/><circle cx="423.5" cy="1009.8" r="8.3" fill="#7C5944"/><circle cx="593.8" cy="875.7" r="8.9" fill="#6E4730"/><circle cx="348.2" cy="1003.0" r="7.6" fill="#AF998D"/><circle cx="505.0" cy="763.8" r="8.9" fill="#6E4730"/><circle cx="489.1" cy="846.4" r="7.4" fill="#6E4730"/><circle cx="494.1" cy="703.8" r="7.5" fill="#6E4730"/><circle cx="401.6" cy="814.8" r="7.1" fill="#75503A"/><circle cx="504.0" cy="856.2" r="8.2" fill="#6E4730"/><circle cx="520.0" cy="850.8" r="8.4" fill="#6E4730"/><circle cx="559.4" cy="956.5" r="9.3" fill="#75503A"/><circle cx="425.9" cy="721.8" r="10.8" fill="#7C5944"/><circle cx="430.6" cy="907.0" r="8.5" fill="#6E4730"/><circle cx="375.7" cy="789.9" r="8.1" fill="#75503A"/><circle cx="462.9" cy="749.6" r="8.9" fill="#6E4730"/><circle cx="519.1" cy="867.8" r="9.2" fill="#6E4730"/><circle cx="331.9" cy="957.0" r="9.0" fill="#75503A"/><circle cx="503.9" cy="810.2" r="7.2" fill="#6E4730"/><circle cx="385.9" cy="885.0" r="10.0" fill="#6E4730"/><circle cx="512.4" cy="1035.2" r="9.1" fill="#D3C7C0"/><circle cx="332.5" cy="795.1" r="8.1" fill="#BDACA1"/><circle cx="481.3" cy="1043.9" r="9.2" fill="#D3C7C0"/><circle cx="395.3" cy="866.9" r="10.7" fill="#6E4730"/><circle cx="539.4" cy="898.8" r="8.2" fill="#6E4730"/><circle cx="551.5" cy="977.8" r="10.6" fill="#75503A"/><circle cx="478.3" cy="940.5" r="8.7" fill="#7C5944"/><circle cx="393.4" cy="942.7" r="7.5" fill="#6E4730"/><circle cx="601.6" cy="803.5" r="8.1" fill="#6E4730"/><circle cx="396.2" cy="979.2" r="6.8" fill="#7C5944"/><circle cx="598.2" cy="950.9" r="8.7" fill="#6E4730"/><circle cx="451.5" cy="830.7" r="7.1" fill="#6E4730"/><circle cx="479.2" cy="919.8" r="8.8" fill="#7C5944"/><circle cx="504.5" cy="827.1" r="7.7" fill="#6E4730"/><circle cx="494.2" cy="650.5" r="7.5" fill="#6E4730"/><circle cx="496.2" cy="691.3" r="6.7" fill="#6E4730"/><circle cx="406.6" cy="942.2" r="7.8" fill="#6E4730"/><circle cx="603.1" cy="1013.9" r="8.5" fill="#75503A"/><circle cx="477.0" cy="1025.3" r="8.7" fill="#D3C7C0"/><circle cx="396.0" cy="740.6" r="8.8" fill="#C5B5AC"/><circle cx="560.4" cy="769.5" r="9.7" fill="#6E4730"/><circle cx="463.9" cy="929.7" r="9.9" fill="#7C5944"/><circle cx="523.6" cy="1005.3" r="7.0" fill="#D3C7C0"/><circle cx="363.5" cy="765.5" r="7.8" fill="#C5B5AC"/><circle cx="575.4" cy="904.7" r="8.2" fill="#6E4730"/><circle cx="544.4" cy="766.5" r="9.7" fill="#6E4730"/><circle cx="508.0" cy="702.7" r="7.6" fill="#6E4730"/><circle cx="491.3" cy="831.7" r="7.3" fill="#6E4730"/><circle cx="366.8" cy="778.6" r="6.7" fill="#C5B5AC"/><circle cx="616.8" cy="804.2" r="8.6" fill="#6E4730"/><circle cx="491.0" cy="1017.7" r="8.8" fill="#D3C7C0"/><circle cx="525.2" cy="935.1" r="6.9" fill="#7C5944"/><circle cx="424.3" cy="962.8" r="7.0" fill="#7C5944"/><circle cx="386.6" cy="1010.7" r="8.4" fill="#7C5944"/><circle cx="452.5" cy="870.1" r="7.0" fill="#6E4730"/><circle cx="526.6" cy="1043.0" r="7.8" fill="#D3C7C0"/><circle cx="554.1" cy="785.7" r="9.1" fill="#6E4730"/><circle cx="511.3" cy="1002.8" r="6.9" fill="#D3C7C0"/><circle cx="481.3" cy="823.1" r="6.7" fill="#6E4730"/><circle cx="482.8" cy="1005.1" r="8.1" fill="#D3C7C0"/><circle cx="401.4" cy="775.4" r="8.1" fill="#C5B5AC"/><circle cx="408.9" cy="970.2" r="8.9" fill="#7C5944"/><circle cx="621.3" cy="911.3" r="10.6" fill="#6E4730"/><circle cx="599.1" cy="742.0" r="8.5" fill="#6E4730"/><circle cx="557.7" cy="807.3" r="9.2" fill="#6E4730"/><circle cx="527.8" cy="1029.2" r="6.9" fill="#D3C7C0"/><circle cx="488.6" cy="862.9" r="8.7" fill="#6E4730"/><circle cx="462.4" cy="834.8" r="7.0" fill="#6E4730"/><circle cx="497.9" cy="1003.7" r="7.6" fill="#D3C7C0"/><circle cx="413.1" cy="956.2" r="8.0" fill="#7C5944"/><circle cx="384.6" cy="801.9" r="8.3" fill="#75503A"/><circle cx="569.1" cy="890.5" r="8.3" fill="#6E4730"/><circle cx="526.0" cy="789.3" r="9.7" fill="#7C5944"/><circle cx="379.3" cy="906.5" r="9.0" fill="#6E4730"/><circle cx="481.5" cy="676.9" r="7.6" fill="#6E4730"/><circle cx="397.8" cy="929.1" r="8.7" fill="#6E4730"/><circle cx="540.3" cy="955.0" r="9.4" fill="#7C5944"/><circle cx="484.9" cy="713.0" r="7.8" fill="#6E4730"/><circle cx="464.5" cy="1041.9" r="9.7" fill="#D3C7C0"/><circle cx="569.7" cy="796.8" r="8.4" fill="#6E4730"/><circle cx="577.1" cy="766.8" r="9.3" fill="#6E4730"/><circle cx="465.3" cy="789.9" r="9.4" fill="#7C5944"/><circle cx="622.1" cy="972.7" r="8.7" fill="#75503A"/><circle cx="360.8" cy="995.3" r="7.4" fill="#AF998D"/><circle cx="569.7" cy="753.0" r="8.3" fill="#6E4730"/><circle cx="605.7" cy="786.0" r="9.9" fill="#6E4730"/><circle cx="399.1" cy="957.1" r="8.0" fill="#7C5944"/><circle cx="445.6" cy="955.1" r="9.6" fill="#7C5944"/><circle cx="591.9" cy="775.0" r="9.1" fill="#6E4730"/><circle cx="374.1" cy="867.1" r="11.9" fill="#6E4730"/><circle cx="485.1" cy="661.1" r="6.7" fill="#6E4730"/><circle cx="473.8" cy="860.3" r="7.0" fill="#6E4730"/><circle cx="554.1" cy="838.7" r="9.7" fill="#6E4730"/><circle cx="587.2" cy="968.3" r="9.2" fill="#75503A"/><circle cx="462.6" cy="863.7" r="6.7" fill="#6E4730"/><circle cx="373.4" cy="829.8" r="7.9" fill="#75503A"/><circle cx="414.3" cy="901.0" r="9.5" fill="#6E4730"/><circle cx="410.1" cy="916.8" r="9.2" fill="#6E4730"/><circle cx="467.2" cy="1008.7" r="9.1" fill="#D3C7C0"/><circle cx="611.6" cy="886.2" r="8.5" fill="#6E4730"/><circle cx="492.6" cy="800.4" r="8.8" fill="#6E4730"/><circle cx="519.6" cy="739.4" r="9.6" fill="#6E4730"/><circle cx="516.4" cy="818.2" r="8.5" fill="#6E4730"/><circle cx="626.0" cy="988.0" r="8.5" fill="#75503A"/><circle cx="388.3" cy="816.1" r="7.7" fill="#75503A"/><circle cx="489.6" cy="763.5" r="8.1" fill="#6E4730"/><circle cx="504.8" cy="732.7" r="8.7" fill="#6E4730"/><circle cx="566.2" cy="719.5" r="9.4" fill="#6E4730"/><circle cx="360.7" cy="823.4" r="7.6" fill="#75503A"/><circle cx="514.3" cy="1067.9" r="7.4" fill="#D3C7C0"/><circle cx="582.6" cy="923.3" r="9.8" fill="#6E4730"/><circle cx="473.9" cy="760.8" r="9.4" fill="#6E4730"/><circle cx="613.9" cy="823.1" r="10.1" fill="#6E4730"/><circle cx="440.6" cy="984.4" r="8.4" fill="#7C5944"/><circle cx="386.9" cy="769.2" r="7.0" fill="#C5B5AC"/><circle cx="377.2" cy="996.8" r="8.0" fill="#7C5944"/><circle cx="417.7" cy="822.6" r="8.6" fill="#75503A"/><circle cx="565.1" cy="825.7" r="9.1" fill="#6E4730"/><circle cx="359.8" cy="752.1" r="7.4" fill="#C5B5AC"/><circle cx="371.0" cy="802.8" r="6.7" fill="#75503A"/><circle cx="389.6" cy="968.2" r="7.2" fill="#7C5944"/><circle cx="609.0" cy="988.3" r="8.8" fill="#75503A"/><circle cx="427.1" cy="888.7" r="10.2" fill="#6E4730"/><circle cx="462.0" cy="882.3" r="8.7" fill="#6E4730"/><circle cx="646.3" cy="735.1" r="7.3" fill="#83624F"/><circle cx="413.1" cy="737.9" r="8.3" fill="#C5B5AC"/><circle cx="417.2" cy="752.0" r="7.6" fill="#C5B5AC"/><circle cx="506.8" cy="1020.0" r="8.6" fill="#D3C7C0"/><circle cx="541.9" cy="885.6" r="7.9" fill="#6E4730"/><circle cx="406.0" cy="724.1" r="8.8" fill="#7C5944"/><circle cx="367.4" cy="895.1" r="9.4" fill="#6E4730"/><circle cx="615.3" cy="751.7" r="9.2" fill="#6E4730"/><circle cx="588.6" cy="985.0" r="9.6" fill="#75503A"/><circle cx="374.3" cy="816.1" r="7.6" fill="#75503A"/><circle cx="552.3" cy="941.4" r="9.3" fill="#6E4730"/><circle cx="446.7" cy="790.0" r="10.9" fill="#7C5944"/><circle cx="628.7" cy="956.9" r="9.1" fill="#75503A"/><circle cx="540.7" cy="929.2" r="9.6" fill="#6E4730"/><circle cx="587.5" cy="755.4" r="7.7" fill="#6E4730"/><circle cx="410.6" cy="789.3" r="8.7" fill="#75503A"/><circle cx="534.3" cy="870.8" r="8.4" fill="#6E4730"/><circle cx="553.0" cy="752.4" r="9.5" fill="#6E4730"/><circle cx="646.1" cy="957.0" r="9.9" fill="#75503A"/><circle cx="400.3" cy="1002.8" r="7.8" fill="#7C5944"/><circle cx="596.8" cy="935.5" r="8.7" fill="#6E4730"/><circle cx="395.9" cy="900.2" r="8.8" fill="#6E4730"/><circle cx="346.2" cy="792.2" r="6.7" fill="#BDACA1"/><circle cx="618.6" cy="1003.5" r="9.1" fill="#75503A"/><circle cx="403.6" cy="829.3" r="8.4" fill="#75503A"/><circle cx="423.8" cy="982.2" r="8.5" fill="#7C5944"/><circle cx="508.8" cy="930.7" r="8.3" fill="#7C5944"/><circle cx="500.2" cy="747.7" r="9.5" fill="#6E4730"/><circle cx="427.5" cy="811.4" r="7.9" fill="#75503A"/><circle cx="553.3" cy="996.8" r="10.1" fill="#75503A"/><circle cx="380.4" cy="738.2" r="8.7" fill="#C5B5AC"/><circle cx="435.3" cy="970.2" r="7.7" fill="#7C5944"/><circle cx="494.1" cy="816.8" r="7.0" fill="#6E4730"/><circle cx="502.6" cy="870.4" r="8.5" fill="#6E4730"/><circle cx="523.9" cy="956.6" r="6.7" fill="#7C5944"/><circle cx="640.6" cy="790.2" r="9.0" fill="#7C5944"/><circle cx="500.9" cy="1045.3" r="7.5" fill="#D3C7C0"/><circle cx="389.0" cy="721.0" r="8.7" fill="#C5B5AC"/><circle cx="530.3" cy="810.1" r="9.3" fill="#6E4730"/><circle cx="347.7" cy="802.2" r="6.7" fill="#75503A"/><circle cx="376.5" cy="754.1" r="8.5" fill="#C5B5AC"/><circle cx="475.6" cy="803.1" r="6.7" fill="#6E4730"/><circle cx="610.7" cy="768.2" r="9.9" fill="#6E4730"/><circle cx="457.6" cy="820.4" r="7.5" fill="#6E4730"/><circle cx="598.2" cy="893.5" r="8.6" fill="#6E4730"/><circle cx="563.8" cy="737.6" r="9.2" fill="#6E4730"/><circle cx="580.9" cy="729.5" r="7.8" fill="#6E4730"/><circle cx="590.1" cy="906.5" r="8.7" fill="#6E4730"/><circle cx="504.9" cy="899.5" r="8.4" fill="#6E4730"/><circle cx="588.1" cy="794.2" r="8.7" fill="#6E4730"/><circle cx="391.5" cy="757.1" r="7.4" fill="#C5B5AC"/><circle cx="503.8" cy="658.7" r="7.3" fill="#6E4730"/><circle cx="506.9" cy="884.5" r="8.0" fill="#6E4730"/><circle cx="471.3" cy="736.9" r="8.8" fill="#6E4730"/><circle cx="488.5" cy="1058.4" r="8.6" fill="#D3C7C0"/><circle cx="509.6" cy="914.7" r="9.0" fill="#7C5944"/><circle cx="476.2" cy="873.9" r="8.5" fill="#6E4730"/><circle cx="384.3" cy="956.2" r="7.8" fill="#7C5944"/><circle cx="363.6" cy="955.5" r="9.2" fill="#75503A"/><circle cx="549.6" cy="915.0" r="8.7" fill="#6E4730"/><circle cx="493.6" cy="679.5" r="6.9" fill="#6E4730"/><circle cx="546.2" cy="819.4" r="9.0" fill="#6E4730"/><circle cx="507.1" cy="672.6" r="7.5" fill="#6E4730"/><circle cx="381.7" cy="981.9" r="8.1" fill="#7C5944"/><circle cx="475.0" cy="993.0" r="8.7" fill="#D3C7C0"/><circle cx="378.8" cy="925.5" r="10.3" fill="#6E4730"/><circle cx="535.3" cy="911.5" r="8.0" fill="#6E4730"/><circle cx="584.4" cy="888.9" r="8.4" fill="#6E4730"/><circle cx="366.2" cy="1006.0" r="6.7" fill="#AF998D"/><circle cx="391.2" cy="786.3" r="8.1" fill="#75503A"/><circle cx="613.2" cy="734.9" r="8.5" fill="#6E4730"/><circle cx="393.0" cy="915.4" r="8.4" fill="#6E4730"/><circle cx="633.0" cy="735.0" r="7.6" fill="#83624F"/><circle cx="569.0" cy="971.3" r="9.9" fill="#75503A"/><circle cx="522.3" cy="887.4" r="8.6" fill="#6E4730"/><circle cx="537.8" cy="855.5" r="8.9" fill="#6E4730"/><circle cx="543.1" cy="738.5" r="8.7" fill="#6E4730"/><circle cx="624.4" cy="788.9" r="8.6" fill="#7C5944"/><circle cx="517.3" cy="835.2" r="8.0" fill="#6E4730"/><circle cx="450.0" cy="855.8" r="7.9" fill="#6E4730"/><circle cx="490.7" cy="882.6" r="9.6" fill="#6E4730"/><circle cx="334.2" cy="1001.7" r="7.5" fill="#AF998D"/><circle cx="521.5" cy="946.3" r="6.8" fill="#7C5944"/><circle cx="377.9" cy="775.6" r="7.0" fill="#C5B5AC"/><circle cx="476.2" cy="889.8" r="8.9" fill="#6E4730"/><circle cx="462.1" cy="1024.9" r="8.1" fill="#D3C7C0"/><circle cx="565.8" cy="914.2" r="8.3" fill="#6E4730"/><circle cx="373.9" cy="968.0" r="8.4" fill="#7C5944"/><circle cx="502.9" cy="842.3" r="8.4" fill="#6E4730"/><circle cx="519.8" cy="1054.0" r="7.0" fill="#D3C7C0"/><circle cx="358.7" cy="904.2" r="2.3" fill="#BAC3DE"/><circle cx="586.3" cy="722.9" r="2.3" fill="#BAC3DE"/><circle cx="425.0" cy="933.3" r="2.3" fill="#BAC3DE"/><circle cx="520.2" cy="928.0" r="2.3" fill="#C0C9E1"/><circle cx="576.3" cy="1005.8" r="2.3" fill="#BDC6DF"/><circle cx="586.3" cy="879.8" r="2.3" fill="#BAC3DE"/><circle cx="338.6" cy="790.4" r="2.3" fill="#DFE4F0"/><circle cx="475.6" cy="1050.5" r="2.3" fill="#EAEDF5"/><circle cx="391.8" cy="974.4" r="2.3" fill="#C0C9E1"/><circle cx="567.9" cy="906.5" r="2.3" fill="#BAC3DE"/><circle cx="455.8" cy="875.8" r="2.3" fill="#BAC3DE"/><circle cx="611.3" cy="913.3" r="2.3" fill="#BAC3DE"/><circle cx="604.3" cy="735.7" r="2.3" fill="#BAC3DE"/><circle cx="483.6" cy="869.7" r="2.3" fill="#BAC3DE"/><circle cx="414.9" cy="948.8" r="2.3" fill="#C0C9E1"/><circle cx="389.5" cy="928.5" r="2.3" fill="#BAC3DE"/><circle cx="578.9" cy="775.5" r="2.3" fill="#BAC3DE"/><circle cx="611.2" cy="778.3" r="2.3" fill="#BAC3DE"/><circle cx="466.2" cy="868.9" r="2.3" fill="#BAC3DE"/><circle cx="499.1" cy="805.8" r="2.3" fill="#BAC3DE"/><circle cx="482.9" cy="767.4" r="2.3" fill="#BAC3DE"/><circle cx="504.3" cy="740.9" r="2.3" fill="#BAC3DE"/><circle cx="574.1" cy="715.0" r="2.3" fill="#BAC3DE"/><circle cx="420.9" cy="745.8" r="2.3" fill="#E3E7F1"/><circle cx="498.8" cy="1018.6" r="2.3" fill="#EAEDF5"/><circle cx="609.2" cy="758.1" r="2.3" fill="#BAC3DE"/><circle cx="533.1" cy="934.3" r="2.3" fill="#BAC3DE"/><circle cx="403.7" cy="784.7" r="2.3" fill="#BDC6DF"/><circle cx="507.7" cy="752.7" r="2.3" fill="#BAC3DE"/><circle cx="508.0" cy="1044.6" r="2.3" fill="#EAEDF5"/><circle cx="458.3" cy="813.3" r="2.3" fill="#BAC3DE"/><circle cx="592.4" cy="887.7" r="2.3" fill="#BAC3DE"/><circle cx="512.2" cy="896.2" r="2.3" fill="#BAC3DE"/><circle cx="503.2" cy="651.9" r="2.3" fill="#BAC3DE"/><circle cx="477.8" cy="866.0" r="2.3" fill="#BAC3DE"/><circle cx="504.1" cy="679.0" r="2.3" fill="#BAC3DE"/><circle cx="481.2" cy="998.6" r="2.3" fill="#EAEDF5"/><circle cx="370.8" cy="1010.3" r="2.3" fill="#D9DEEC"/><circle cx="482.4" cy="886.4" r="2.3" fill="#BAC3DE"/><circle cx="502.5" cy="834.3" r="2.3" fill="#BAC3DE"/><ellipse cx="601.9" cy="917.2" rx="7.1" ry="6.6" transform="rotate(36 601.9 917.2)" fill="#FEFCFA"/><ellipse cx="561.2" cy="928.5" rx="6.6" ry="5.8" transform="rotate(29 561.2 928.5)" fill="#FEFCFA"/><ellipse cx="569.7" cy="988.7" rx="7.9" ry="7.0" transform="rotate(106 569.7 988.7)" fill="#FEFCFA"/><ellipse cx="348.3" cy="957.0" rx="6.8" ry="6.2" transform="rotate(70 348.3 957.0)" fill="#FEFCFA"/><ellipse cx="583.8" cy="829.9" rx="7.8" ry="7.2" transform="rotate(152 583.8 829.9)" fill="#FEFCFA"/><ellipse cx="599.1" cy="723.5" rx="7.4" ry="6.6" transform="rotate(105 599.1 723.5)" fill="#FEFCFA"/><ellipse cx="363.4" cy="914.0" rx="7.3" ry="6.6" transform="rotate(177 363.4 914.0)" fill="#FEFCFA"/><ellipse cx="476.5" cy="837.1" rx="4.8" ry="4.2" transform="rotate(126 476.5 837.1)" fill="#FEFCFA"/><ellipse cx="347.9" cy="901.6" rx="9.6" ry="8.2" transform="rotate(47 347.9 901.6)" fill="#FEFCFA"/><ellipse cx="599.6" cy="1000.3" rx="6.3" ry="6.0" transform="rotate(103 599.6 1000.3)" fill="#FEFCFA"/><ellipse cx="434.8" cy="998.3" rx="6.0" ry="5.2" transform="rotate(12 434.8 998.3)" fill="#FEFCFA"/><ellipse cx="596.2" cy="818.3" rx="6.4" ry="6.2" transform="rotate(68 596.2 818.3)" fill="#FEFCFA"/><ellipse cx="583.5" cy="716.7" rx="5.3" ry="5.0" transform="rotate(78 583.5 716.7)" fill="#FEFCFA"/><ellipse cx="494.3" cy="923.0" rx="6.7" ry="6.3" transform="rotate(101 494.3 923.0)" fill="#FEFCFA"/><ellipse cx="482.3" cy="1071.9" rx="6.6" ry="6.5" transform="rotate(164 482.3 1071.9)" fill="#FEFCFA"/><ellipse cx="556.6" cy="881.1" rx="6.8" ry="6.1" transform="rotate(88 556.6 881.1)" fill="#FEFCFA"/><ellipse cx="392.3" cy="993.2" rx="5.3" ry="4.6" transform="rotate(136 392.3 993.2)" fill="#FEFCFA"/><ellipse cx="417.1" cy="933.9" rx="6.4" ry="5.4" transform="rotate(55 417.1 933.9)" fill="#FEFCFA"/><ellipse cx="492.4" cy="944.9" rx="6.9" ry="6.7" transform="rotate(6 492.4 944.9)" fill="#FEFCFA"/><ellipse cx="578.6" cy="811.9" rx="7.6" ry="7.2" transform="rotate(102 578.6 811.9)" fill="#FEFCFA"/><ellipse cx="614.8" cy="930.1" rx="8.0" ry="7.3" transform="rotate(60 614.8 930.1)" fill="#FEFCFA"/><ellipse cx="360.3" cy="808.1" rx="5.4" ry="4.6" transform="rotate(171 360.3 808.1)" fill="#FEFCFA"/><ellipse cx="481.7" cy="694.5" rx="6.9" ry="6.6" transform="rotate(145 481.7 694.5)" fill="#FEFCFA"/><ellipse cx="355.6" cy="881.2" rx="8.8" ry="7.3" transform="rotate(141 355.6 881.2)" fill="#FEFCFA"/><ellipse cx="483.0" cy="747.6" rx="6.5" ry="5.6" transform="rotate(36 483.0 747.6)" fill="#FEFCFA"/><ellipse cx="524.5" cy="921.3" rx="6.5" ry="6.0" transform="rotate(110 524.5 921.3)" fill="#FEFCFA"/><ellipse cx="463.2" cy="848.1" rx="6.3" ry="5.3" transform="rotate(138 463.2 848.1)" fill="#FEFCFA"/><ellipse cx="535.2" cy="839.9" rx="5.9" ry="5.4" transform="rotate(162 535.2 839.9)" fill="#FEFCFA"/><ellipse cx="579.2" cy="954.0" rx="7.2" ry="7.1" transform="rotate(124 579.2 954.0)" fill="#FEFCFA"/><ellipse cx="426.7" cy="922.6" rx="6.0" ry="5.3" transform="rotate(171 426.7 922.6)" fill="#FEFCFA"/><ellipse cx="534.0" cy="751.0" rx="7.4" ry="7.0" transform="rotate(52 534.0 751.0)" fill="#FEFCFA"/><ellipse cx="508.4" cy="686.6" rx="5.2" ry="5.1" transform="rotate(131 508.4 686.6)" fill="#FEFCFA"/><ellipse cx="367.6" cy="981.5" rx="5.6" ry="4.9" transform="rotate(45 367.6 981.5)" fill="#FEFCFA"/><ellipse cx="413.5" cy="768.6" rx="5.6" ry="4.6" transform="rotate(97 413.5 768.6)" fill="#FEFCFA"/><ellipse cx="583.0" cy="1000.4" rx="6.6" ry="5.7" transform="rotate(53 583.0 1000.4)" fill="#FEFCFA"/><ellipse cx="488.9" cy="902.3" rx="7.5" ry="6.5" transform="rotate(24 488.9 902.3)" fill="#FEFCFA"/><ellipse cx="567.1" cy="1009.4" rx="8.4" ry="7.6" transform="rotate(49 567.1 1009.4)" fill="#FEFCFA"/><ellipse cx="477.0" cy="849.5" rx="4.8" ry="4.2" transform="rotate(50 477.0 849.5)" fill="#FEFCFA"/><ellipse cx="415.5" cy="997.5" rx="5.9" ry="5.4" transform="rotate(157 415.5 997.5)" fill="#FEFCFA"/><ellipse cx="363.3" cy="935.6" rx="8.7" ry="7.4" transform="rotate(155 363.3 935.6)" fill="#FEFCFA"/><ellipse cx="360.6" cy="792.8" rx="6.8" ry="6.6" transform="rotate(110 360.6 792.8)" fill="#FEFCFA"/><ellipse cx="541.7" cy="796.3" rx="7.1" ry="6.6" transform="rotate(132 541.7 796.3)" fill="#FEFCFA"/><ellipse cx="493.1" cy="1032.4" rx="6.7" ry="6.1" transform="rotate(119 493.1 1032.4)" fill="#FEFCFA"/><ellipse cx="599.6" cy="838.7" rx="8.7" ry="8.6" transform="rotate(140 599.6 838.7)" fill="#FEFCFA"/><ellipse cx="574.4" cy="939.2" rx="6.6" ry="5.7" transform="rotate(10 574.4 939.2)" fill="#FEFCFA"/><ellipse cx="501.7" cy="717.7" rx="6.5" ry="6.5" transform="rotate(65 501.7 717.7)" fill="#FEFCFA"/><ellipse cx="511.9" cy="802.0" rx="4.8" ry="4.6" transform="rotate(42 511.9 802.0)" fill="#FEFCFA"/><ellipse cx="574.0" cy="781.9" rx="6.9" ry="6.2" transform="rotate(67 574.0 781.9)" fill="#FEFCFA"/><ellipse cx="494.7" cy="666.9" rx="4.8" ry="4.6" transform="rotate(170 494.7 666.9)" fill="#FEFCFA"/><ellipse cx="582.3" cy="742.0" rx="5.3" ry="4.9" transform="rotate(102 582.3 742.0)" fill="#FEFCFA"/><ellipse cx="424.8" cy="796.9" rx="6.5" ry="5.7" transform="rotate(42 424.8 796.9)" fill="#FEFCFA"/><ellipse cx="398.7" cy="799.3" rx="6.7" ry="6.7" transform="rotate(20 398.7 799.3)" fill="#FEFCFA"/><ellipse cx="470.0" cy="825.5" rx="4.8" ry="4.7" transform="rotate(118 470.0 825.5)" fill="#FEFCFA"/><ellipse cx="466.7" cy="812.4" rx="5.5" ry="4.6" transform="rotate(162 466.7 812.4)" fill="#FEFCFA"/><ellipse cx="372.7" cy="724.3" rx="6.7" ry="5.6" transform="rotate(102 372.7 724.3)" fill="#FEFCFA"/><ellipse cx="362.8" cy="737.5" rx="7.1" ry="6.0" transform="rotate(178 362.8 737.5)" fill="#FEFCFA"/><ellipse cx="470.3" cy="1058.6" rx="8.5" ry="7.4" transform="rotate(157 470.3 1058.6)" fill="#FEFCFA"/><ellipse cx="504.4" cy="987.8" rx="6.6" ry="5.5" transform="rotate(120 504.4 987.8)" fill="#FEFCFA"/><ellipse cx="504.0" cy="1058.8" rx="5.5" ry="4.6" transform="rotate(5 504.0 1058.8)" fill="#FEFCFA"/><ellipse cx="408.3" cy="985.3" rx="5.6" ry="5.2" transform="rotate(177 408.3 985.3)" fill="#FEFCFA"/><ellipse cx="610.3" cy="960.4" rx="6.5" ry="6.1" transform="rotate(154 610.3 960.4)" fill="#FEFCFA"/><ellipse cx="575.5" cy="844.4" rx="7.5" ry="7.2" transform="rotate(94 575.5 844.4)" fill="#FEFCFA"/><ellipse cx="487.7" cy="730.7" rx="7.3" ry="6.1" transform="rotate(95 487.7 730.7)" fill="#FEFCFA"/><ellipse cx="405.0" cy="885.5" rx="6.6" ry="5.6" transform="rotate(95 405.0 885.5)" fill="#FEFCFA"/><ellipse cx="350.3" cy="922.6" rx="7.0" ry="6.2" transform="rotate(90 350.3 922.6)" fill="#FEFCFA"/><ellipse cx="404.4" cy="756.4" rx="5.7" ry="4.9" transform="rotate(127 404.4 756.4)" fill="#FEFCFA"/><ellipse cx="555.6" cy="899.0" rx="7.6" ry="6.8" transform="rotate(87 555.6 899.0)" fill="#FEFCFA"/><ellipse cx="450.5" cy="842.6" rx="4.8" ry="4.0" transform="rotate(88 450.5 842.6)" fill="#FEFCFA"/><ellipse cx="423.5" cy="1009.8" rx="6.4" ry="5.9" transform="rotate(175 423.5 1009.8)" fill="#FEFCFA"/><ellipse cx="593.8" cy="875.7" rx="7.0" ry="6.5" transform="rotate(24 593.8 875.7)" fill="#FEFCFA"/><ellipse cx="348.2" cy="1003.0" rx="5.7" ry="5.0" transform="rotate(60 348.2 1003.0)" fill="#FEFCFA"/><ellipse cx="505.0" cy="763.8" rx="7.0" ry="6.6" transform="rotate(169 505.0 763.8)" fill="#FEFCFA"/><ellipse cx="489.1" cy="846.4" rx="5.5" ry="5.5" transform="rotate(171 489.1 846.4)" fill="#FEFCFA"/><ellipse cx="494.1" cy="703.8" rx="5.6" ry="5.5" transform="rotate(155 494.1 703.8)" fill="#FEFCFA"/><ellipse cx="401.6" cy="814.8" rx="5.2" ry="5.2" transform="rotate(4 401.6 814.8)" fill="#FEFCFA"/><ellipse cx="504.0" cy="856.2" rx="6.3" ry="5.7" transform="rotate(106 504.0 856.2)" fill="#FEFCFA"/><ellipse cx="520.0" cy="850.8" rx="6.5" ry="6.1" transform="rotate(110 520.0 850.8)" fill="#FEFCFA"/><ellipse cx="559.4" cy="956.5" rx="7.4" ry="6.9" transform="rotate(168 559.4 956.5)" fill="#FEFCFA"/><ellipse cx="425.9" cy="721.8" rx="8.9" ry="7.4" transform="rotate(93 425.9 721.8)" fill="#FEFCFA"/><ellipse cx="430.6" cy="907.0" rx="6.6" ry="6.6" transform="rotate(6 430.6 907.0)" fill="#FEFCFA"/><ellipse cx="375.7" cy="789.9" rx="6.2" ry="5.2" transform="rotate(156 375.7 789.9)" fill="#FEFCFA"/><ellipse cx="462.9" cy="749.6" rx="7.0" ry="6.9" transform="rotate(4 462.9 749.6)" fill="#FEFCFA"/><ellipse cx="519.1" cy="867.8" rx="7.3" ry="6.0" transform="rotate(149 519.1 867.8)" fill="#FEFCFA"/><ellipse cx="331.9" cy="957.0" rx="7.1" ry="6.7" transform="rotate(94 331.9 957.0)" fill="#FEFCFA"/><ellipse cx="503.9" cy="810.2" rx="5.3" ry="4.9" transform="rotate(136 503.9 810.2)" fill="#FEFCFA"/><ellipse cx="385.9" cy="885.0" rx="8.1" ry="7.8" transform="rotate(0 385.9 885.0)" fill="#FEFCFA"/><ellipse cx="512.4" cy="1035.2" rx="7.2" ry="6.0" transform="rotate(143 512.4 1035.2)" fill="#FEFCFA"/><ellipse cx="332.5" cy="795.1" rx="6.2" ry="6.2" transform="rotate(150 332.5 795.1)" fill="#FEFCFA"/><ellipse cx="481.3" cy="1043.9" rx="7.3" ry="6.5" transform="rotate(60 481.3 1043.9)" fill="#FEFCFA"/><ellipse cx="395.3" cy="866.9" rx="8.8" ry="7.8" transform="rotate(3 395.3 866.9)" fill="#FEFCFA"/><ellipse cx="539.4" cy="898.8" rx="6.3" ry="6.1" transform="rotate(47 539.4 898.8)" fill="#FEFCFA"/><ellipse cx="551.5" cy="977.8" rx="8.7" ry="8.1" transform="rotate(95 551.5 977.8)" fill="#FEFCFA"/><ellipse cx="478.3" cy="940.5" rx="6.8" ry="6.0" transform="rotate(121 478.3 940.5)" fill="#FEFCFA"/><ellipse cx="393.4" cy="942.7" rx="5.6" ry="5.1" transform="rotate(42 393.4 942.7)" fill="#FEFCFA"/><ellipse cx="601.6" cy="803.5" rx="6.2" ry="6.0" transform="rotate(32 601.6 803.5)" fill="#FEFCFA"/><ellipse cx="396.2" cy="979.2" rx="4.9" ry="4.2" transform="rotate(46 396.2 979.2)" fill="#FEFCFA"/><ellipse cx="598.2" cy="950.9" rx="6.8" ry="6.1" transform="rotate(141 598.2 950.9)" fill="#FEFCFA"/><ellipse cx="451.5" cy="830.7" rx="5.2" ry="4.6" transform="rotate(43 451.5 830.7)" fill="#FEFCFA"/><ellipse cx="479.2" cy="919.8" rx="6.9" ry="6.5" transform="rotate(47 479.2 919.8)" fill="#FEFCFA"/><ellipse cx="504.5" cy="827.1" rx="5.8" ry="5.3" transform="rotate(46 504.5 827.1)" fill="#FEFCFA"/><ellipse cx="494.2" cy="650.5" rx="5.6" ry="5.5" transform="rotate(33 494.2 650.5)" fill="#FEFCFA"/><ellipse cx="496.2" cy="691.3" rx="4.8" ry="4.1" transform="rotate(54 496.2 691.3)" fill="#FEFCFA"/><ellipse cx="406.6" cy="942.2" rx="5.9" ry="5.2" transform="rotate(131 406.6 942.2)" fill="#FEFCFA"/><ellipse cx="603.1" cy="1013.9" rx="6.6" ry="6.2" transform="rotate(142 603.1 1013.9)" fill="#FEFCFA"/><ellipse cx="477.0" cy="1025.3" rx="6.8" ry="6.2" transform="rotate(14 477.0 1025.3)" fill="#FEFCFA"/><ellipse cx="396.0" cy="740.6" rx="6.9" ry="6.6" transform="rotate(44 396.0 740.6)" fill="#FEFCFA"/><ellipse cx="560.4" cy="769.5" rx="7.8" ry="6.7" transform="rotate(75 560.4 769.5)" fill="#FEFCFA"/><ellipse cx="463.9" cy="929.7" rx="8.0" ry="7.9" transform="rotate(67 463.9 929.7)" fill="#FEFCFA"/><ellipse cx="523.6" cy="1005.3" rx="5.1" ry="4.5" transform="rotate(164 523.6 1005.3)" fill="#FEFCFA"/><ellipse cx="363.5" cy="765.5" rx="5.9" ry="5.9" transform="rotate(70 363.5 765.5)" fill="#FEFCFA"/><ellipse cx="575.4" cy="904.7" rx="6.3" ry="5.3" transform="rotate(142 575.4 904.7)" fill="#FEFCFA"/><ellipse cx="544.4" cy="766.5" rx="7.8" ry="7.5" transform="rotate(61 544.4 766.5)" fill="#FEFCFA"/><ellipse cx="508.0" cy="702.7" rx="5.7" ry="5.5" transform="rotate(68 508.0 702.7)" fill="#FEFCFA"/><ellipse cx="491.3" cy="831.7" rx="5.4" ry="4.7" transform="rotate(107 491.3 831.7)" fill="#FEFCFA"/><ellipse cx="366.8" cy="778.6" rx="4.8" ry="4.6" transform="rotate(86 366.8 778.6)" fill="#FEFCFA"/><ellipse cx="616.8" cy="804.2" rx="6.7" ry="6.4" transform="rotate(2 616.8 804.2)" fill="#FEFCFA"/><ellipse cx="491.0" cy="1017.7" rx="6.9" ry="6.3" transform="rotate(68 491.0 1017.7)" fill="#FEFCFA"/><ellipse cx="525.2" cy="935.1" rx="5.0" ry="4.1" transform="rotate(165 525.2 935.1)" fill="#FEFCFA"/><ellipse cx="424.3" cy="962.8" rx="5.1" ry="4.3" transform="rotate(37 424.3 962.8)" fill="#FEFCFA"/><ellipse cx="386.6" cy="1010.7" rx="6.5" ry="6.3" transform="rotate(173 386.6 1010.7)" fill="#FEFCFA"/><ellipse cx="452.5" cy="870.1" rx="5.1" ry="5.1" transform="rotate(62 452.5 870.1)" fill="#FEFCFA"/><ellipse cx="526.6" cy="1043.0" rx="5.9" ry="5.8" transform="rotate(26 526.6 1043.0)" fill="#FEFCFA"/><ellipse cx="554.1" cy="785.7" rx="7.2" ry="6.8" transform="rotate(170 554.1 785.7)" fill="#FEFCFA"/><ellipse cx="511.3" cy="1002.8" rx="5.0" ry="4.3" transform="rotate(24 511.3 1002.8)" fill="#FEFCFA"/><ellipse cx="481.3" cy="823.1" rx="4.8" ry="4.5" transform="rotate(159 481.3 823.1)" fill="#FEFCFA"/><ellipse cx="482.8" cy="1005.1" rx="6.2" ry="5.9" transform="rotate(171 482.8 1005.1)" fill="#FEFCFA"/><ellipse cx="401.4" cy="775.4" rx="6.2" ry="5.6" transform="rotate(67 401.4 775.4)" fill="#FEFCFA"/><ellipse cx="408.9" cy="970.2" rx="7.0" ry="5.9" transform="rotate(49 408.9 970.2)" fill="#FEFCFA"/><ellipse cx="621.3" cy="911.3" rx="8.7" ry="8.6" transform="rotate(13 621.3 911.3)" fill="#FEFCFA"/><ellipse cx="599.1" cy="742.0" rx="6.6" ry="5.6" transform="rotate(63 599.1 742.0)" fill="#FEFCFA"/><ellipse cx="557.7" cy="807.3" rx="7.3" ry="6.1" transform="rotate(55 557.7 807.3)" fill="#FEFCFA"/><ellipse cx="527.8" cy="1029.2" rx="5.0" ry="4.2" transform="rotate(22 527.8 1029.2)" fill="#FEFCFA"/><ellipse cx="488.6" cy="862.9" rx="6.8" ry="6.3" transform="rotate(97 488.6 862.9)" fill="#FEFCFA"/><ellipse cx="462.4" cy="834.8" rx="5.1" ry="4.7" transform="rotate(137 462.4 834.8)" fill="#FEFCFA"/><ellipse cx="497.9" cy="1003.7" rx="5.7" ry="5.2" transform="rotate(170 497.9 1003.7)" fill="#FEFCFA"/><ellipse cx="413.1" cy="956.2" rx="6.1" ry="5.1" transform="rotate(40 413.1 956.2)" fill="#FEFCFA"/><ellipse cx="384.6" cy="801.9" rx="6.4" ry="5.3" transform="rotate(56 384.6 801.9)" fill="#FEFCFA"/><ellipse cx="569.1" cy="890.5" rx="6.4" ry="6.1" transform="rotate(166 569.1 890.5)" fill="#FEFCFA"/><ellipse cx="526.0" cy="789.3" rx="7.8" ry="7.1" transform="rotate(29 526.0 789.3)" fill="#FEFCFA"/><ellipse cx="379.3" cy="906.5" rx="7.1" ry="6.3" transform="rotate(102 379.3 906.5)" fill="#FEFCFA"/><ellipse cx="481.5" cy="676.9" rx="5.7" ry="5.0" transform="rotate(143 481.5 676.9)" fill="#FEFCFA"/><ellipse cx="397.8" cy="929.1" rx="6.8" ry="6.7" transform="rotate(83 397.8 929.1)" fill="#FEFCFA"/><ellipse cx="540.3" cy="955.0" rx="7.5" ry="7.0" transform="rotate(152 540.3 955.0)" fill="#FEFCFA"/><ellipse cx="484.9" cy="713.0" rx="5.9" ry="5.3" transform="rotate(34 484.9 713.0)" fill="#FEFCFA"/><ellipse cx="464.5" cy="1041.9" rx="7.8" ry="7.7" transform="rotate(176 464.5 1041.9)" fill="#FEFCFA"/><ellipse cx="569.7" cy="796.8" rx="6.5" ry="5.4" transform="rotate(137 569.7 796.8)" fill="#FEFCFA"/><ellipse cx="577.1" cy="766.8" rx="7.4" ry="6.6" transform="rotate(9 577.1 766.8)" fill="#FEFCFA"/><ellipse cx="465.3" cy="789.9" rx="7.5" ry="6.4" transform="rotate(31 465.3 789.9)" fill="#FEFCFA"/><ellipse cx="622.1" cy="972.7" rx="6.8" ry="6.5" transform="rotate(38 622.1 972.7)" fill="#FEFCFA"/><ellipse cx="360.8" cy="995.3" rx="5.5" ry="4.5" transform="rotate(40 360.8 995.3)" fill="#FEFCFA"/><ellipse cx="569.7" cy="753.0" rx="6.4" ry="6.2" transform="rotate(90 569.7 753.0)" fill="#FEFCFA"/><ellipse cx="605.7" cy="786.0" rx="8.0" ry="7.5" transform="rotate(84 605.7 786.0)" fill="#FEFCFA"/><ellipse cx="399.1" cy="957.1" rx="6.1" ry="5.2" transform="rotate(3 399.1 957.1)" fill="#FEFCFA"/><ellipse cx="445.6" cy="955.1" rx="7.7" ry="6.7" transform="rotate(7 445.6 955.1)" fill="#FEFCFA"/><ellipse cx="591.9" cy="775.0" rx="7.2" ry="6.2" transform="rotate(111 591.9 775.0)" fill="#FEFCFA"/><ellipse cx="374.1" cy="867.1" rx="10.0" ry="8.9" transform="rotate(85 374.1 867.1)" fill="#FEFCFA"/><ellipse cx="485.1" cy="661.1" rx="4.8" ry="4.5" transform="rotate(57 485.1 661.1)" fill="#FEFCFA"/><ellipse cx="473.8" cy="860.3" rx="5.1" ry="4.5" transform="rotate(159 473.8 860.3)" fill="#FEFCFA"/><ellipse cx="554.1" cy="838.7" rx="7.8" ry="7.2" transform="rotate(75 554.1 838.7)" fill="#FEFCFA"/><ellipse cx="587.2" cy="968.3" rx="7.3" ry="6.7" transform="rotate(83 587.2 968.3)" fill="#FEFCFA"/><ellipse cx="462.6" cy="863.7" rx="4.8" ry="4.2" transform="rotate(164 462.6 863.7)" fill="#FEFCFA"/><ellipse cx="373.4" cy="829.8" rx="6.0" ry="5.2" transform="rotate(168 373.4 829.8)" fill="#FEFCFA"/><ellipse cx="414.3" cy="901.0" rx="7.6" ry="7.4" transform="rotate(159 414.3 901.0)" fill="#FEFCFA"/><ellipse cx="410.1" cy="916.8" rx="7.3" ry="6.2" transform="rotate(92 410.1 916.8)" fill="#FEFCFA"/><ellipse cx="467.2" cy="1008.7" rx="7.2" ry="7.2" transform="rotate(52 467.2 1008.7)" fill="#FEFCFA"/><ellipse cx="611.6" cy="886.2" rx="6.6" ry="5.6" transform="rotate(130 611.6 886.2)" fill="#FEFCFA"/><ellipse cx="492.6" cy="800.4" rx="6.9" ry="6.0" transform="rotate(105 492.6 800.4)" fill="#FEFCFA"/><ellipse cx="519.6" cy="739.4" rx="7.7" ry="6.5" transform="rotate(171 519.6 739.4)" fill="#FEFCFA"/><ellipse cx="516.4" cy="818.2" rx="6.6" ry="5.7" transform="rotate(17 516.4 818.2)" fill="#FEFCFA"/><ellipse cx="626.0" cy="988.0" rx="6.6" ry="6.3" transform="rotate(62 626.0 988.0)" fill="#FEFCFA"/><ellipse cx="388.3" cy="816.1" rx="5.8" ry="5.3" transform="rotate(90 388.3 816.1)" fill="#FEFCFA"/><ellipse cx="489.6" cy="763.5" rx="6.2" ry="6.1" transform="rotate(93 489.6 763.5)" fill="#FEFCFA"/><ellipse cx="504.8" cy="732.7" rx="6.8" ry="6.0" transform="rotate(0 504.8 732.7)" fill="#FEFCFA"/><ellipse cx="566.2" cy="719.5" rx="7.5" ry="6.9" transform="rotate(48 566.2 719.5)" fill="#FEFCFA"/><ellipse cx="360.7" cy="823.4" rx="5.7" ry="5.3" transform="rotate(114 360.7 823.4)" fill="#FEFCFA"/><ellipse cx="514.3" cy="1067.9" rx="5.5" ry="4.9" transform="rotate(16 514.3 1067.9)" fill="#FEFCFA"/><ellipse cx="582.6" cy="923.3" rx="7.9" ry="7.2" transform="rotate(87 582.6 923.3)" fill="#FEFCFA"/><ellipse cx="473.9" cy="760.8" rx="7.5" ry="7.0" transform="rotate(175 473.9 760.8)" fill="#FEFCFA"/><ellipse cx="613.9" cy="823.1" rx="8.2" ry="7.2" transform="rotate(80 613.9 823.1)" fill="#FEFCFA"/><ellipse cx="440.6" cy="984.4" rx="6.5" ry="5.5" transform="rotate(144 440.6 984.4)" fill="#FEFCFA"/><ellipse cx="386.9" cy="769.2" rx="5.1" ry="4.4" transform="rotate(149 386.9 769.2)" fill="#FEFCFA"/><ellipse cx="377.2" cy="996.8" rx="6.1" ry="5.9" transform="rotate(46 377.2 996.8)" fill="#FEFCFA"/><ellipse cx="417.7" cy="822.6" rx="6.7" ry="6.6" transform="rotate(91 417.7 822.6)" fill="#FEFCFA"/><ellipse cx="565.1" cy="825.7" rx="7.2" ry="6.4" transform="rotate(100 565.1 825.7)" fill="#FEFCFA"/><ellipse cx="359.8" cy="752.1" rx="5.5" ry="5.4" transform="rotate(88 359.8 752.1)" fill="#FEFCFA"/><ellipse cx="371.0" cy="802.8" rx="4.8" ry="4.4" transform="rotate(52 371.0 802.8)" fill="#FEFCFA"/><ellipse cx="389.6" cy="968.2" rx="5.3" ry="5.1" transform="rotate(91 389.6 968.2)" fill="#FEFCFA"/><ellipse cx="609.0" cy="988.3" rx="6.9" ry="6.0" transform="rotate(35 609.0 988.3)" fill="#FEFCFA"/><ellipse cx="427.1" cy="888.7" rx="8.3" ry="7.1" transform="rotate(150 427.1 888.7)" fill="#FEFCFA"/><ellipse cx="462.0" cy="882.3" rx="6.8" ry="6.6" transform="rotate(176 462.0 882.3)" fill="#FEFCFA"/><ellipse cx="646.3" cy="735.1" rx="5.4" ry="5.3" transform="rotate(123 646.3 735.1)" fill="#FEFCFA"/><ellipse cx="413.1" cy="737.9" rx="6.4" ry="6.2" transform="rotate(128 413.1 737.9)" fill="#FEFCFA"/><ellipse cx="417.2" cy="752.0" rx="5.7" ry="5.5" transform="rotate(144 417.2 752.0)" fill="#FEFCFA"/><ellipse cx="506.8" cy="1020.0" rx="6.7" ry="5.7" transform="rotate(147 506.8 1020.0)" fill="#FEFCFA"/><ellipse cx="541.9" cy="885.6" rx="6.0" ry="5.2" transform="rotate(44 541.9 885.6)" fill="#FEFCFA"/><ellipse cx="406.0" cy="724.1" rx="6.9" ry="6.8" transform="rotate(4 406.0 724.1)" fill="#FEFCFA"/><ellipse cx="367.4" cy="895.1" rx="7.5" ry="6.9" transform="rotate(62 367.4 895.1)" fill="#FEFCFA"/><ellipse cx="615.3" cy="751.7" rx="7.3" ry="7.0" transform="rotate(110 615.3 751.7)" fill="#FEFCFA"/><ellipse cx="588.6" cy="985.0" rx="7.7" ry="7.6" transform="rotate(168 588.6 985.0)" fill="#FEFCFA"/><ellipse cx="374.3" cy="816.1" rx="5.7" ry="5.4" transform="rotate(12 374.3 816.1)" fill="#FEFCFA"/><ellipse cx="552.3" cy="941.4" rx="7.4" ry="7.0" transform="rotate(20 552.3 941.4)" fill="#FEFCFA"/><ellipse cx="446.7" cy="790.0" rx="9.0" ry="8.9" transform="rotate(157 446.7 790.0)" fill="#FEFCFA"/><ellipse cx="628.7" cy="956.9" rx="7.2" ry="6.3" transform="rotate(33 628.7 956.9)" fill="#FEFCFA"/><ellipse cx="540.7" cy="929.2" rx="7.7" ry="7.2" transform="rotate(136 540.7 929.2)" fill="#FEFCFA"/><ellipse cx="587.5" cy="755.4" rx="5.8" ry="5.8" transform="rotate(112 587.5 755.4)" fill="#FEFCFA"/><ellipse cx="410.6" cy="789.3" rx="6.8" ry="5.7" transform="rotate(131 410.6 789.3)" fill="#FEFCFA"/><ellipse cx="534.3" cy="870.8" rx="6.5" ry="5.4" transform="rotate(156 534.3 870.8)" fill="#FEFCFA"/><ellipse cx="553.0" cy="752.4" rx="7.6" ry="7.3" transform="rotate(141 553.0 752.4)" fill="#FEFCFA"/><ellipse cx="646.1" cy="957.0" rx="8.0" ry="7.8" transform="rotate(102 646.1 957.0)" fill="#FEFCFA"/><ellipse cx="400.3" cy="1002.8" rx="5.9" ry="5.8" transform="rotate(115 400.3 1002.8)" fill="#FEFCFA"/><ellipse cx="596.8" cy="935.5" rx="6.8" ry="6.2" transform="rotate(69 596.8 935.5)" fill="#FEFCFA"/><ellipse cx="395.9" cy="900.2" rx="6.9" ry="6.1" transform="rotate(4 395.9 900.2)" fill="#FEFCFA"/><ellipse cx="346.2" cy="792.2" rx="4.8" ry="4.1" transform="rotate(143 346.2 792.2)" fill="#FEFCFA"/><ellipse cx="618.6" cy="1003.5" rx="7.2" ry="6.2" transform="rotate(118 618.6 1003.5)" fill="#FEFCFA"/><ellipse cx="403.6" cy="829.3" rx="6.5" ry="6.2" transform="rotate(125 403.6 829.3)" fill="#FEFCFA"/><ellipse cx="423.8" cy="982.2" rx="6.6" ry="6.0" transform="rotate(57 423.8 982.2)" fill="#FEFCFA"/><ellipse cx="508.8" cy="930.7" rx="6.4" ry="5.6" transform="rotate(34 508.8 930.7)" fill="#FEFCFA"/><ellipse cx="500.2" cy="747.7" rx="7.6" ry="7.1" transform="rotate(124 500.2 747.7)" fill="#FEFCFA"/><ellipse cx="427.5" cy="811.4" rx="6.0" ry="5.9" transform="rotate(60 427.5 811.4)" fill="#FEFCFA"/><ellipse cx="553.3" cy="996.8" rx="8.2" ry="8.1" transform="rotate(164 553.3 996.8)" fill="#FEFCFA"/><ellipse cx="380.4" cy="738.2" rx="6.8" ry="5.9" transform="rotate(171 380.4 738.2)" fill="#FEFCFA"/><ellipse cx="435.3" cy="970.2" rx="5.8" ry="5.4" transform="rotate(173 435.3 970.2)" fill="#FEFCFA"/><ellipse cx="494.1" cy="816.8" rx="5.1" ry="4.9" transform="rotate(60 494.1 816.8)" fill="#FEFCFA"/><ellipse cx="502.6" cy="870.4" rx="6.6" ry="5.8" transform="rotate(94 502.6 870.4)" fill="#FEFCFA"/><ellipse cx="523.9" cy="956.6" rx="4.8" ry="4.4" transform="rotate(6 523.9 956.6)" fill="#FEFCFA"/><ellipse cx="640.6" cy="790.2" rx="7.1" ry="7.0" transform="rotate(96 640.6 790.2)" fill="#FEFCFA"/><ellipse cx="500.9" cy="1045.3" rx="5.6" ry="5.1" transform="rotate(134 500.9 1045.3)" fill="#FEFCFA"/><ellipse cx="389.0" cy="721.0" rx="6.8" ry="5.9" transform="rotate(36 389.0 721.0)" fill="#FEFCFA"/><ellipse cx="530.3" cy="810.1" rx="7.4" ry="6.8" transform="rotate(43 530.3 810.1)" fill="#FEFCFA"/><ellipse cx="347.7" cy="802.2" rx="4.8" ry="4.2" transform="rotate(13 347.7 802.2)" fill="#FEFCFA"/><ellipse cx="376.5" cy="754.1" rx="6.6" ry="5.5" transform="rotate(64 376.5 754.1)" fill="#FEFCFA"/><ellipse cx="475.6" cy="803.1" rx="4.8" ry="4.4" transform="rotate(171 475.6 803.1)" fill="#FEFCFA"/><ellipse cx="610.7" cy="768.2" rx="8.0" ry="7.5" transform="rotate(75 610.7 768.2)" fill="#FEFCFA"/><ellipse cx="457.6" cy="820.4" rx="5.6" ry="5.0" transform="rotate(42 457.6 820.4)" fill="#FEFCFA"/><ellipse cx="598.2" cy="893.5" rx="6.7" ry="6.1" transform="rotate(173 598.2 893.5)" fill="#FEFCFA"/><ellipse cx="563.8" cy="737.6" rx="7.3" ry="6.1" transform="rotate(78 563.8 737.6)" fill="#FEFCFA"/><ellipse cx="580.9" cy="729.5" rx="5.9" ry="5.5" transform="rotate(137 580.9 729.5)" fill="#FEFCFA"/><ellipse cx="590.1" cy="906.5" rx="6.8" ry="6.3" transform="rotate(115 590.1 906.5)" fill="#FEFCFA"/><ellipse cx="504.9" cy="899.5" rx="6.5" ry="6.5" transform="rotate(162 504.9 899.5)" fill="#FEFCFA"/><ellipse cx="588.1" cy="794.2" rx="6.8" ry="5.9" transform="rotate(97 588.1 794.2)" fill="#FEFCFA"/><ellipse cx="391.5" cy="757.1" rx="5.5" ry="5.5" transform="rotate(95 391.5 757.1)" fill="#FEFCFA"/><ellipse cx="503.8" cy="658.7" rx="5.4" ry="4.6" transform="rotate(138 503.8 658.7)" fill="#FEFCFA"/><ellipse cx="506.9" cy="884.5" rx="6.1" ry="5.1" transform="rotate(27 506.9 884.5)" fill="#FEFCFA"/><ellipse cx="471.3" cy="736.9" rx="6.9" ry="6.3" transform="rotate(49 471.3 736.9)" fill="#FEFCFA"/><ellipse cx="488.5" cy="1058.4" rx="6.7" ry="6.4" transform="rotate(131 488.5 1058.4)" fill="#FEFCFA"/><ellipse cx="509.6" cy="914.7" rx="7.1" ry="6.2" transform="rotate(138 509.6 914.7)" fill="#FEFCFA"/><ellipse cx="476.2" cy="873.9" rx="6.6" ry="6.2" transform="rotate(127 476.2 873.9)" fill="#FEFCFA"/><ellipse cx="384.3" cy="956.2" rx="5.9" ry="5.3" transform="rotate(78 384.3 956.2)" fill="#FEFCFA"/><ellipse cx="363.6" cy="955.5" rx="7.3" ry="6.2" transform="rotate(85 363.6 955.5)" fill="#FEFCFA"/><ellipse cx="549.6" cy="915.0" rx="6.8" ry="6.7" transform="rotate(160 549.6 915.0)" fill="#FEFCFA"/><ellipse cx="493.6" cy="679.5" rx="5.0" ry="4.1" transform="rotate(13 493.6 679.5)" fill="#FEFCFA"/><ellipse cx="546.2" cy="819.4" rx="7.1" ry="6.1" transform="rotate(125 546.2 819.4)" fill="#FEFCFA"/><ellipse cx="507.1" cy="672.6" rx="5.6" ry="5.1" transform="rotate(23 507.1 672.6)" fill="#FEFCFA"/><ellipse cx="381.7" cy="981.9" rx="6.2" ry="5.5" transform="rotate(103 381.7 981.9)" fill="#FEFCFA"/><ellipse cx="475.0" cy="993.0" rx="6.8" ry="6.5" transform="rotate(73 475.0 993.0)" fill="#FEFCFA"/><ellipse cx="378.8" cy="925.5" rx="8.4" ry="7.9" transform="rotate(123 378.8 925.5)" fill="#FEFCFA"/><ellipse cx="535.3" cy="911.5" rx="6.1" ry="5.7" transform="rotate(8 535.3 911.5)" fill="#FEFCFA"/><ellipse cx="584.4" cy="888.9" rx="6.5" ry="6.1" transform="rotate(23 584.4 888.9)" fill="#FEFCFA"/><ellipse cx="366.2" cy="1006.0" rx="4.8" ry="4.0" transform="rotate(85 366.2 1006.0)" fill="#FEFCFA"/><ellipse cx="391.2" cy="786.3" rx="6.2" ry="5.1" transform="rotate(13 391.2 786.3)" fill="#FEFCFA"/><ellipse cx="613.2" cy="734.9" rx="6.6" ry="5.9" transform="rotate(84 613.2 734.9)" fill="#FEFCFA"/><ellipse cx="393.0" cy="915.4" rx="6.5" ry="5.4" transform="rotate(172 393.0 915.4)" fill="#FEFCFA"/><ellipse cx="633.0" cy="735.0" rx="5.7" ry="5.5" transform="rotate(88 633.0 735.0)" fill="#FEFCFA"/><ellipse cx="569.0" cy="971.3" rx="8.0" ry="7.4" transform="rotate(57 569.0 971.3)" fill="#FEFCFA"/><ellipse cx="522.3" cy="887.4" rx="6.7" ry="6.7" transform="rotate(22 522.3 887.4)" fill="#FEFCFA"/><ellipse cx="537.8" cy="855.5" rx="7.0" ry="6.1" transform="rotate(40 537.8 855.5)" fill="#FEFCFA"/><ellipse cx="543.1" cy="738.5" rx="6.8" ry="6.6" transform="rotate(92 543.1 738.5)" fill="#FEFCFA"/><ellipse cx="624.4" cy="788.9" rx="6.7" ry="6.0" transform="rotate(72 624.4 788.9)" fill="#FEFCFA"/><ellipse cx="517.3" cy="835.2" rx="6.1" ry="6.0" transform="rotate(46 517.3 835.2)" fill="#FEFCFA"/><ellipse cx="450.0" cy="855.8" rx="6.0" ry="5.8" transform="rotate(127 450.0 855.8)" fill="#FEFCFA"/><ellipse cx="490.7" cy="882.6" rx="7.7" ry="6.9" transform="rotate(66 490.7 882.6)" fill="#FEFCFA"/><ellipse cx="334.2" cy="1001.7" rx="5.6" ry="5.0" transform="rotate(82 334.2 1001.7)" fill="#FEFCFA"/><ellipse cx="521.5" cy="946.3" rx="4.9" ry="4.3" transform="rotate(112 521.5 946.3)" fill="#FEFCFA"/><ellipse cx="377.9" cy="775.6" rx="5.1" ry="4.6" transform="rotate(55 377.9 775.6)" fill="#FEFCFA"/><ellipse cx="476.2" cy="889.8" rx="7.0" ry="6.7" transform="rotate(82 476.2 889.8)" fill="#FEFCFA"/><ellipse cx="462.1" cy="1024.9" rx="6.2" ry="5.7" transform="rotate(158 462.1 1024.9)" fill="#FEFCFA"/><ellipse cx="565.8" cy="914.2" rx="6.4" ry="5.8" transform="rotate(68 565.8 914.2)" fill="#FEFCFA"/><ellipse cx="373.9" cy="968.0" rx="6.5" ry="6.4" transform="rotate(176 373.9 968.0)" fill="#FEFCFA"/><ellipse cx="502.9" cy="842.3" rx="6.5" ry="6.2" transform="rotate(72 502.9 842.3)" fill="#FEFCFA"/><ellipse cx="519.8" cy="1054.0" rx="5.1" ry="4.8" transform="rotate(133 519.8 1054.0)" fill="#FEFCFA"/><ellipse cx="345" cy="956" rx="9.5" ry="4.6" fill="#FEFCFA" stroke="#75503A" stroke-width="2.3"/><ellipse cx="362" cy="956" rx="9.5" ry="4.6" fill="#FEFCFA" stroke="#75503A" stroke-width="2.3"/><ellipse cx="436" cy="956" rx="9.5" ry="4.6" fill="#FEFCFA" stroke="#7C5944" stroke-width="2.3"/><ellipse cx="455" cy="956" rx="9.5" ry="4.6" fill="#FEFCFA" stroke="#7C5944" stroke-width="2.3"/><ellipse cx="524" cy="955" rx="9.5" ry="4.6" fill="#FEFCFA" stroke="#7C5944" stroke-width="2.3"/><ellipse cx="543" cy="955" rx="9.5" ry="4.6" fill="#FEFCFA" stroke="#7C5944" stroke-width="2.3"/><ellipse cx="623" cy="957" rx="9.5" ry="4.6" fill="#FEFCFA" stroke="#75503A" stroke-width="2.3"/><ellipse cx="642" cy="957" rx="9.5" ry="4.6" fill="#FEFCFA" stroke="#75503A" stroke-width="2.3"/><ellipse cx="414" cy="788" rx="9.5" ry="4.6" fill="#FEFCFA" stroke="#75503A" stroke-width="2.3"/><ellipse cx="432" cy="788" rx="9.5" ry="4.6" fill="#FEFCFA" stroke="#8B6B59" stroke-width="2.3"/><ellipse cx="448" cy="789" rx="9.5" ry="4.6" fill="#FEFCFA" stroke="#7C5944" stroke-width="2.3"/><ellipse cx="530" cy="787" rx="9.5" ry="4.6" fill="#FEFCFA" stroke="#7C5944" stroke-width="2.3"/><ellipse cx="548" cy="787" rx="9.5" ry="4.6" fill="#FEFCFA" stroke="#6E4730" stroke-width="2.3"/><ellipse cx="624" cy="786" rx="9.5" ry="4.6" fill="#FEFCFA" stroke="#7C5944" stroke-width="2.3"/><ellipse cx="643" cy="786" rx="9.5" ry="4.6" fill="#FEFCFA" stroke="#7C5944" stroke-width="2.3"/><ellipse cx="346" cy="792" rx="9.5" ry="4.6" fill="#FEFCFA" stroke="#B6A397" stroke-width="2.3"/><ellipse cx="364" cy="792" rx="9.5" ry="4.6" fill="#FEFCFA" stroke="#75503A" stroke-width="2.3"/></g><rect x="401.7" y="790.6" width="182.1" height="166" fill="none" stroke="#8A8A8A" stroke-width="1.2"/>
<defs><clipPath id="plotclip"><rect x="0" y="600" width="926.4" height="700"/></clipPath></defs>
<polyline clip-path="url(#plotclip)" points="24.5,1114.6 25.5,1114.7 26.5,1114.7 27.5,1114.7 28.5,1114.7 29.5,1114.7 30.5,1114.7 31.5,1114.7 32.5,1114.7 33.5,1114.8 34.5,1114.8 35.5,1114.8 36.5,1114.8 37.5,1114.8 38.5,1114.7 39.5,1114.7 40.5,1114.7 41.5,1114.6 42.5,1114.4 43.5,1113.8 44.5,1112.7 45.5,1111.0 46.5,1108.8 47.5,1107.3 48.5,1107.4 49.5,1109.1 50.5,1111.3 51.5,1113.0 52.5,1114.1 53.5,1114.6 54.5,1114.9 55.5,1115.0 56.5,1115.1 57.5,1115.1 58.5,1115.2 59.5,1115.2 60.5,1115.2 61.5,1115.3 62.5,1115.3 63.5,1115.3 64.5,1115.3 65.5,1115.3 66.5,1115.3 67.5,1115.3 68.5,1115.3 69.5,1115.3 70.5,1115.2 71.5,1115.2 72.5,1115.0 73.5,1114.9 74.5,1114.5 75.5,1113.8 76.5,1112.0 77.5,1107.8 78.5,1099.6 79.5,1088.2 80.5,1078.1 81.5,1077.2 82.5,1086.4 83.5,1098.1 84.5,1107.0 85.5,1111.9 86.5,1114.0 87.5,1114.7 88.5,1114.7 89.5,1114.0 90.5,1112.9 91.5,1112.1 92.5,1112.6 93.5,1114.0 94.5,1115.2 95.5,1115.9 96.5,1116.3 97.5,1116.4 98.5,1116.5 99.5,1116.6 100.5,1116.6 101.5,1116.5 102.5,1116.5 103.5,1116.3 104.5,1115.7 105.5,1114.3 106.5,1110.9 107.5,1104.3 108.5,1095.0 109.5,1086.6 110.5,1085.6 111.5,1093.0 112.5,1102.8 113.5,1110.2 114.5,1114.3 115.5,1116.1 116.5,1116.5 117.5,1116.1 118.5,1115.4 119.5,1115.0 120.5,1115.6 121.5,1116.7 122.5,1117.7 123.5,1118.3 124.5,1118.6 125.5,1118.8 126.5,1119.0 127.5,1119.1 128.5,1119.3 129.5,1119.4 130.5,1119.5 131.5,1119.6 132.5,1119.6 133.5,1119.6 134.5,1119.3 135.5,1119.0 136.5,1118.5 137.5,1118.4 138.5,1118.6 139.5,1119.2 140.5,1119.7 141.5,1120.1 142.5,1120.3 143.5,1120.3 144.5,1120.3 145.5,1120.2 146.5,1120.1 147.5,1120.0 148.5,1119.7 149.5,1118.9 150.5,1117.3 151.5,1114.5 152.5,1111.3 153.5,1109.8 154.5,1110.2 155.5,1108.6 156.5,1100.7 157.5,1086.1 158.5,1071.3 159.5,1068.9 160.5,1081.8 161.5,1098.3 162.5,1110.0 163.5,1116.0 164.5,1118.3 165.5,1119.2 166.5,1119.7 167.5,1119.9 168.5,1120.0 169.5,1120.1 170.5,1120.1 171.5,1120.0 172.5,1119.8 173.5,1119.4 174.5,1118.6 175.5,1116.3 176.5,1111.2 177.5,1102.7 178.5,1093.6 179.5,1090.4 180.5,1096.5 181.5,1105.8 182.5,1112.9 183.5,1116.6 184.5,1118.0 185.5,1118.3 186.5,1118.2 187.5,1117.8 188.5,1117.2 189.5,1116.1 190.5,1112.9 191.5,1103.5 192.5,1082.6 193.5,1054.2 194.5,1040.7 195.5,1059.1 196.5,1087.0 197.5,1105.1 198.5,1112.6 199.5,1114.9 200.5,1115.7 201.5,1116.1 202.5,1116.3 203.5,1116.4 204.5,1116.4 205.5,1116.4 206.5,1116.3 207.5,1116.3 208.5,1116.1 209.5,1116.0 210.5,1115.9 211.5,1115.7 212.5,1115.4 213.5,1115.1 214.5,1114.4 215.5,1112.8 216.5,1108.8 217.5,1101.6 218.5,1093.4 219.5,1090.3 220.5,1095.6 221.5,1103.6 222.5,1109.2 223.5,1111.3 224.5,1110.4 225.5,1106.5 226.5,1100.4 227.5,1095.3 228.5,1096.4 229.5,1102.6 230.5,1108.7 231.5,1112.3 232.5,1113.8 233.5,1114.1 234.5,1113.6 235.5,1112.6 236.5,1110.3 237.5,1105.8 238.5,1099.2 239.5,1093.9 240.5,1094.6 241.5,1100.0 242.5,1105.1 243.5,1107.8 244.5,1108.3 245.5,1107.1 246.5,1103.9 247.5,1098.2 248.5,1091.4 249.5,1087.1 250.5,1089.1 251.5,1095.4 252.5,1101.4 253.5,1105.3 254.5,1106.9 255.5,1106.6 256.5,1104.4 257.5,1099.4 258.5,1092.5 259.5,1087.8 260.5,1090.1 261.5,1096.7 262.5,1102.4 263.5,1105.5 264.5,1106.5 265.5,1106.4 266.5,1105.9 267.5,1105.0 268.5,1102.7 269.5,1097.4 270.5,1088.6 271.5,1080.9 272.5,1082.1 273.5,1089.4 274.5,1091.1 275.5,1070.5 276.5,1009.5 277.5,941.3 278.5,946.4 279.5,1000.7 280.5,1041.3 281.5,1076.8 282.5,1094.4 283.5,1097.0 284.5,1091.7 285.5,1078.8 286.5,1062.4 287.5,1057.2 288.5,1068.4 289.5,1080.8 290.5,1086.2 291.5,1088.0 292.5,1090.5 293.5,1094.2 294.5,1097.6 295.5,1099.5 296.5,1100.4 297.5,1102.0 298.5,1103.8 299.5,1104.8 300.5,1104.9 301.5,1104.1 302.5,1102.5 303.5,1101.9 304.5,1103.3 305.5,1105.0 306.5,1105.8 307.5,1106.1 308.5,1106.2 309.5,1105.9 310.5,1104.8 311.5,1100.9 312.5,1091.6 313.5,1075.8 314.5,1060.1 315.5,1058.4 316.5,1072.9 317.5,1090.1 318.5,1101.5 319.5,1106.9 320.5,1109.1 321.5,1110.1 322.5,1110.7 323.5,1111.1 324.5,1111.3 325.5,1111.0 326.5,1109.9 327.5,1108.1 328.5,1106.5 329.5,1106.7 330.5,1108.1 331.5,1108.6 332.5,1107.0 333.5,1103.1 334.5,1098.5 335.5,1096.6 336.5,1099.3 337.5,1104.4 338.5,1108.9 339.5,1111.6 340.5,1113.0 341.5,1113.6 342.5,1114.0 343.5,1114.1 344.5,1113.9 345.5,1113.2 346.5,1111.6 347.5,1109.9 348.5,1109.6 349.5,1111.3 350.5,1113.4 351.5,1114.9 352.5,1115.7 353.5,1116.1 354.5,1116.3 355.5,1116.5 356.5,1116.5 357.5,1116.3 358.5,1115.7 359.5,1114.2 360.5,1111.9 361.5,1109.5 362.5,1108.8 363.5,1110.5 364.5,1113.3 365.5,1115.6 366.5,1117.1 367.5,1117.8 368.5,1118.1 369.5,1118.4 370.5,1118.5 371.5,1118.7 372.5,1118.8 373.5,1119.0 374.5,1119.1 375.5,1119.2 376.5,1119.3 377.5,1119.4 378.5,1119.4 379.5,1119.5 380.5,1119.5 381.5,1119.6 382.5,1119.5 383.5,1119.3 384.5,1118.5 385.5,1116.4 386.5,1112.4 387.5,1106.8 388.5,1101.9 389.5,1101.6 390.5,1106.3 391.5,1112.3 392.5,1116.8 393.5,1119.4 394.5,1120.6 395.5,1121.1 396.5,1121.4 397.5,1121.6 398.5,1121.8 399.5,1122.0 400.5,1122.1 401.5,1122.2 402.5,1122.2 403.5,1122.1 404.5,1121.7 405.5,1120.8 406.5,1119.6 407.5,1118.8 408.5,1119.5 409.5,1120.8 410.5,1121.9 411.5,1122.3 412.5,1122.0 413.5,1120.8 414.5,1118.8 415.5,1116.7 416.5,1115.7 417.5,1117.0 418.5,1119.4 419.5,1121.6 420.5,1122.9 421.5,1123.6 422.5,1123.9 423.5,1124.1 424.5,1124.3 425.5,1124.4 426.5,1124.5 427.5,1124.6 428.5,1124.7 429.5,1124.8 430.5,1124.9 431.5,1124.9 432.5,1125.0 433.5,1125.1 434.5,1125.1 435.5,1125.1 436.5,1124.9 437.5,1124.3 438.5,1123.2 439.5,1122.1 440.5,1121.8 441.5,1122.8 442.5,1124.2 443.5,1125.1 444.5,1125.5 445.5,1125.4 446.5,1124.7 447.5,1123.4 448.5,1121.9 449.5,1121.5 450.5,1122.8 451.5,1124.5 452.5,1125.8 453.5,1126.4 454.5,1126.6 455.5,1126.6 456.5,1126.4 457.5,1125.9 458.5,1125.4 459.5,1125.4 460.5,1126.0 461.5,1126.7 462.5,1127.1 463.5,1127.4 464.5,1127.5 465.5,1127.5 466.5,1127.6 467.5,1127.6 468.5,1127.6 469.5,1127.6 470.5,1127.7 471.5,1127.7 472.5,1127.7 473.5,1127.6 474.5,1127.5 475.5,1127.0 476.5,1126.1 477.5,1124.8 478.5,1124.0 479.5,1124.6 480.5,1125.9 481.5,1127.0 482.5,1127.6 483.5,1127.9 484.5,1128.0 485.5,1128.0 486.5,1128.1 487.5,1128.1 488.5,1128.0 489.5,1127.6 490.5,1126.8 491.5,1125.5 492.5,1124.5 493.5,1124.7 494.5,1125.9 495.5,1127.2 496.5,1127.9 497.5,1128.3 498.5,1128.4 499.5,1128.3 500.5,1128.1 501.5,1127.6 502.5,1127.0 503.5,1126.7 504.5,1127.2 505.5,1127.9 506.5,1128.4 507.5,1128.7 508.5,1128.8 509.5,1128.8 510.5,1128.9 511.5,1128.9 512.5,1128.8 513.5,1128.6 514.5,1128.1 515.5,1127.5 516.5,1127.2 517.5,1127.5 518.5,1128.2 519.5,1128.8 520.5,1129.1 521.5,1129.2 522.5,1129.3 523.5,1129.3 524.5,1129.4 525.5,1129.4 526.5,1129.4 527.5,1129.4 528.5,1129.4 529.5,1129.2 530.5,1128.7 531.5,1127.9 532.5,1127.3 533.5,1127.4 534.5,1128.2 535.5,1129.0 536.5,1129.5 537.5,1129.7 538.5,1129.8 539.5,1129.9 540.5,1129.9 541.5,1130.0 542.5,1130.0 543.5,1130.1 544.5,1130.1 545.5,1130.1 546.5,1130.2 547.5,1130.2 548.5,1130.2 549.5,1130.3 550.5,1130.3 551.5,1130.3 552.5,1130.3 553.5,1130.4 554.5,1130.4 555.5,1130.4 556.5,1130.3 557.5,1130.2 558.5,1129.7 559.5,1129.1 560.5,1128.7 561.5,1128.9 562.5,1129.5 563.5,1130.1 564.5,1130.5 565.5,1130.7 566.5,1130.8 567.5,1130.8 568.5,1130.9 569.5,1130.9 570.5,1130.9 571.5,1131.0 572.5,1131.0 573.5,1131.1 574.5,1131.1 575.5,1131.1 576.5,1131.2 577.5,1131.2 578.5,1131.2 579.5,1131.3 580.5,1131.3 581.5,1131.3 582.5,1131.3 583.5,1131.3 584.5,1131.3 585.5,1131.3 586.5,1131.4 587.5,1131.4 588.5,1131.4 589.5,1131.4 590.5,1131.4 591.5,1131.4 592.5,1131.4 593.5,1131.3 594.5,1131.2 595.5,1130.9 596.5,1130.6 597.5,1130.2 598.5,1130.1 599.5,1130.2 600.5,1130.6 601.5,1131.0 602.5,1131.3 603.5,1131.5 604.5,1131.6 605.5,1131.6 606.5,1131.6 607.5,1131.7 608.5,1131.7 609.5,1131.7 610.5,1131.7 611.5,1131.7 612.5,1131.7 613.5,1131.7 614.5,1131.8 615.5,1131.8 616.5,1131.8 617.5,1131.8 618.5,1131.8 619.5,1131.8 620.5,1131.7 621.5,1131.6 622.5,1131.3 623.5,1130.7 624.5,1130.0 625.5,1129.2 626.5,1129.0 627.5,1129.4 628.5,1130.2 629.5,1131.0 630.5,1131.5 631.5,1131.8 632.5,1131.9 633.5,1132.0 634.5,1132.0 635.5,1132.0 636.5,1132.1 637.5,1132.1 638.5,1132.1 639.5,1132.1 640.5,1132.1 641.5,1132.1 642.5,1132.1 643.5,1132.1 644.5,1132.1 645.5,1132.1 646.5,1132.1 647.5,1132.1 648.5,1132.0 649.5,1132.0 650.5,1131.9 651.5,1131.8 652.5,1131.5 653.5,1131.0 654.5,1130.4 655.5,1130.1 656.5,1130.1 657.5,1130.5 658.5,1131.0 659.5,1131.5 660.5,1131.7 661.5,1131.8 662.5,1131.9 663.5,1131.9 664.5,1131.9 665.5,1131.9 666.5,1131.9 667.5,1131.9 668.5,1131.9 669.5,1131.8 670.5,1131.8 671.5,1131.8 672.5,1131.8 673.5,1131.8 674.5,1131.8 675.5,1131.7 676.5,1131.7 677.5,1131.7 678.5,1131.5 679.5,1131.3 680.5,1130.8 681.5,1130.1 682.5,1129.3 683.5,1128.9 684.5,1129.0 685.5,1129.7 686.5,1130.5 687.5,1131.1 688.5,1131.5 689.5,1131.7 690.5,1131.8 691.5,1131.8 692.5,1131.9 693.5,1131.9 694.5,1131.9 695.5,1131.9 696.5,1131.9 697.5,1132.0 698.5,1132.0 699.5,1132.0 700.5,1132.0 701.5,1132.0 702.5,1132.0 703.5,1132.0 704.5,1132.0 705.5,1132.1 706.5,1132.1 707.5,1132.1 708.5,1132.1 709.5,1132.1 710.5,1132.1 711.5,1132.1 712.5,1132.1 713.5,1132.1 714.5,1132.1 715.5,1132.1 716.5,1132.0 717.5,1131.9 718.5,1131.7 719.5,1131.3 720.5,1130.9 721.5,1130.8 722.5,1130.9 723.5,1131.3 724.5,1131.7 725.5,1132.0 726.5,1132.2 727.5,1132.2 728.5,1132.3 729.5,1132.3 730.5,1132.3 731.5,1132.3 732.5,1132.4 733.5,1132.4 734.5,1132.4 735.5,1132.4 736.5,1132.4 737.5,1132.4 738.5,1132.4 739.5,1132.5 740.5,1132.5 741.5,1132.5 742.5,1132.5 743.5,1132.5 744.5,1132.5 745.5,1132.5 746.5,1132.5 747.5,1132.5 748.5,1132.5 749.5,1132.4 750.5,1132.2 751.5,1132.0 752.5,1131.6 753.5,1131.2 754.5,1131.1 755.5,1131.4 756.5,1131.8 757.5,1132.2 758.5,1132.4 759.5,1132.6 760.5,1132.6 761.5,1132.7 762.5,1132.7 763.5,1132.7 764.5,1132.7 765.5,1132.7 766.5,1132.8 767.5,1132.8 768.5,1132.8 769.5,1132.8 770.5,1132.8 771.5,1132.8 772.5,1132.8 773.5,1132.8 774.5,1132.9 775.5,1132.9 776.5,1132.9 777.5,1132.9 778.5,1132.9 779.5,1132.9 780.5,1132.9 781.5,1132.9 782.5,1132.9 783.5,1133.0 784.5,1133.0 785.5,1133.0 786.5,1133.0 787.5,1133.0 788.5,1133.0 789.5,1133.0 790.5,1132.9 791.5,1132.8 792.5,1132.6 793.5,1132.4 794.5,1132.2 795.5,1132.1 796.5,1132.3 797.5,1132.6 798.5,1132.8 799.5,1133.0 800.5,1133.1 801.5,1133.1 802.5,1133.2 803.5,1133.2 804.5,1133.2 805.5,1133.2 806.5,1133.2 807.5,1133.2 808.5,1133.2 809.5,1133.3 810.5,1133.3 811.5,1133.3 812.5,1133.3 813.5,1133.3 814.5,1133.3 815.5,1133.3 816.5,1133.3 817.5,1133.4 818.5,1133.4 819.5,1133.4 820.5,1133.4 821.5,1133.4 822.5,1133.4 823.5,1133.4 824.5,1133.4 825.5,1133.4 826.5,1133.5 827.5,1133.5 828.5,1133.5 829.5,1133.5 830.5,1133.5 831.5,1133.5 832.5,1133.5 833.5,1133.5 834.5,1133.6 835.5,1133.6 836.5,1133.6 837.5,1133.6 838.5,1133.6 839.5,1133.6 840.5,1133.6 841.5,1133.7 842.5,1133.7 843.5,1133.7 844.5,1133.7 845.5,1133.7 846.5,1133.7 847.5,1133.7 848.5,1133.7 849.5,1133.8 850.5,1133.8 851.5,1133.8 852.5,1133.8 853.5,1133.8 854.5,1133.8 855.5,1133.8 856.5,1133.9 857.5,1133.9 858.5,1133.9 859.5,1133.9 860.5,1133.9 861.5,1133.9 862.5,1133.9 863.5,1133.9 864.5,1134.0 865.5,1134.0 866.5,1134.0 867.5,1134.0 868.5,1134.0 869.5,1134.0 870.5,1134.0 871.5,1134.1 872.5,1134.1 873.5,1134.1 874.5,1134.1 875.5,1134.1 876.5,1134.1 877.5,1134.1 878.5,1134.2 879.5,1134.2 880.5,1134.2 881.5,1134.2 882.5,1134.2 883.5,1134.2 884.5,1134.2 885.5,1134.2 886.5,1134.3 887.5,1134.3 888.5,1134.3 889.5,1134.3 890.5,1134.3 891.5,1134.3 892.5,1134.3 893.5,1134.4 894.5,1134.4 895.5,1134.4 896.5,1134.4 897.5,1134.4 898.5,1134.4 899.5,1134.4 900.5,1134.4 901.5,1134.5 902.5,1134.5 903.5,1134.5 904.5,1134.5 905.5,1134.5 906.5,1134.5 907.5,1134.5 908.5,1134.6 909.5,1134.6 910.5,1134.6 911.5,1134.6 912.5,1134.6 913.5,1134.6 914.5,1134.6 915.5,1134.6 916.5,1134.7 917.5,1134.7 918.5,1134.7 919.5,1134.7 920.5,1134.7 921.5,1134.7 922.5,1134.7 923.5,1134.8 924.5,1134.8 925.5,1134.8 926.5,1134.8" fill="none" stroke="#BEBEBE" stroke-width="14" stroke-linejoin="round" stroke-linecap="round"/>
<circle cx="277.7" cy="929" r="7.4" fill="#BEBEBE"/>
<circle cx="277.7" cy="940" r="7.4" fill="#BEBEBE"/>
<circle cx="277.7" cy="951" r="7.4" fill="#BEBEBE"/>
<circle cx="277.7" cy="962" r="7.4" fill="#BEBEBE"/>
<circle cx="277.7" cy="973" r="7.4" fill="#BEBEBE"/>
<circle cx="277.7" cy="984" r="7.4" fill="#BEBEBE"/>
<circle cx="277.7" cy="995" r="7.4" fill="#BEBEBE"/>
<circle cx="277.7" cy="1006" r="7.4" fill="#BEBEBE"/>
<circle cx="277.7" cy="1017" r="7.4" fill="#BEBEBE"/>
<circle cx="277.7" cy="1028" r="7.4" fill="#BEBEBE"/>
<circle cx="277.7" cy="1039" r="7.4" fill="#BEBEBE"/>
<circle cx="277.7" cy="1050" r="7.4" fill="#BEBEBE"/>
<circle cx="277.7" cy="1061" r="7.4" fill="#BEBEBE"/>
<circle cx="277.7" cy="1072" r="7.4" fill="#BEBEBE"/>
<circle cx="277.7" cy="1083" r="7.4" fill="#BEBEBE"/>
<circle cx="277.7" cy="1094" r="7.4" fill="#BEBEBE"/>
<polyline points="24.5,1114.5 25.0,1114.6 25.5,1114.0 26.0,1114.5 26.5,1114.4 27.0,1114.0 27.5,1114.1 28.0,1114.0 28.5,1115.2 29.0,1115.3 29.5,1115.5 30.0,1114.6 30.5,1114.4 31.0,1114.3 31.5,1114.2 32.0,1114.5 32.5,1114.7 33.0,1115.0 33.5,1114.9 34.0,1114.9 34.5,1115.1 35.0,1115.3 35.5,1115.1 36.0,1114.7 36.5,1114.7 37.0,1115.3 37.5,1115.3 38.0,1115.1 38.5,1114.9 39.0,1114.7 39.5,1114.7 40.0,1114.6 40.5,1115.0 41.0,1115.0 41.5,1114.9 42.0,1114.0 42.5,1114.1 43.0,1113.5 43.5,1113.4 44.0,1112.8 44.5,1112.6 45.0,1112.0 45.5,1110.8 46.0,1109.6 46.5,1108.6 47.0,1108.2 47.5,1107.8 48.0,1107.7 48.5,1107.9 49.0,1108.4 49.5,1109.1 50.0,1110.1 50.5,1111.3 51.0,1112.4 51.5,1112.9 52.0,1113.4 52.5,1113.4 53.0,1114.0 53.5,1114.3 54.0,1114.7 54.5,1114.6 55.0,1114.4 55.5,1115.0 56.0,1114.5 56.5,1114.6 57.0,1114.6 57.5,1115.3 58.0,1115.1 58.5,1114.8 59.0,1114.6 59.5,1115.0 60.0,1115.5 60.5,1115.2 61.0,1115.4 61.5,1114.8 62.0,1115.4 62.5,1115.4 63.0,1115.5 63.5,1114.8 64.0,1115.2 64.5,1115.5 65.0,1116.1 65.5,1115.9 66.0,1115.9 66.5,1115.5 67.0,1115.1 67.5,1114.8 68.0,1115.3 68.5,1115.1 69.0,1115.1 69.5,1114.7 70.0,1115.1 70.5,1115.3 71.0,1115.1 71.5,1114.6 72.0,1114.4 72.5,1114.9 73.0,1115.4 73.5,1115.4 74.0,1114.9 74.5,1114.6 75.0,1114.2 75.5,1114.0 76.0,1113.1 76.5,1112.1 77.0,1110.1 77.5,1107.9 78.0,1104.4 78.5,1100.4 79.0,1095.1 79.5,1089.5 80.0,1082.7 80.5,1077.9 81.0,1075.5 81.5,1077.1 82.0,1080.4 82.5,1086.2 83.0,1092.4 83.5,1098.3 84.0,1102.8 84.5,1106.3 85.0,1109.5 85.5,1111.8 86.0,1113.8 86.5,1114.6 87.0,1115.1 87.5,1114.9 88.0,1115.4 88.5,1115.3 89.0,1115.4 89.5,1114.3 90.0,1113.5 90.5,1112.4 91.0,1112.5 91.5,1112.4 92.0,1112.6 92.5,1112.6 93.0,1113.2 93.5,1113.8 94.0,1114.4 94.5,1115.0 95.0,1116.1 95.5,1116.6 96.0,1116.5 96.5,1115.8 97.0,1115.7 97.5,1116.0 98.0,1116.5 98.5,1116.8 99.0,1116.8 99.5,1116.7 100.0,1116.7 100.5,1116.3 101.0,1116.1 101.5,1116.1 102.0,1116.2 102.5,1116.2 103.0,1115.9 103.5,1115.9 104.0,1116.0 104.5,1115.8 105.0,1115.3 105.5,1114.4 106.0,1113.3 106.5,1111.7 107.0,1108.1 107.5,1104.4 108.0,1099.4 108.5,1095.1 109.0,1090.4 109.5,1087.1 110.0,1085.6 110.5,1086.2 111.0,1089.3 111.5,1093.4 112.0,1098.3 112.5,1102.9 113.0,1106.9 113.5,1110.8 114.0,1113.3 114.5,1115.6 115.0,1116.1 115.5,1116.5 116.0,1116.3 116.5,1116.6 117.0,1116.5 117.5,1116.3 118.0,1115.7 118.5,1115.9 119.0,1115.3 119.5,1115.4 120.0,1115.1 120.5,1115.4 121.0,1115.6 121.5,1116.1 122.0,1116.9 122.5,1117.7 123.0,1118.4 123.5,1118.7 124.0,1119.1 124.5,1119.2 125.0,1119.2 125.5,1118.9 126.0,1118.5 126.5,1118.7 127.0,1118.5 127.5,1119.1 128.0,1118.9 128.5,1119.7 129.0,1119.6 129.5,1119.4 130.0,1119.3 130.5,1119.3 131.0,1119.5 131.5,1119.4 132.0,1119.5 132.5,1119.6 133.0,1119.3 133.5,1119.3 134.0,1118.7 134.5,1118.8 135.0,1118.4 135.5,1118.9 136.0,1119.0 136.5,1118.6 137.0,1118.3 137.5,1117.9 138.0,1118.2 138.5,1118.5 139.0,1118.7 139.5,1118.8 140.0,1118.9 140.5,1119.2 141.0,1119.9 141.5,1119.8 142.0,1120.1 142.5,1120.3 143.0,1120.4 143.5,1120.1 144.0,1119.9 144.5,1120.0 145.0,1120.5 145.5,1120.6 146.0,1120.4 146.5,1119.8 147.0,1119.6 147.5,1120.3 148.0,1120.3 148.5,1120.2 149.0,1119.5 149.5,1119.1 150.0,1118.9 150.5,1117.7 151.0,1116.6 151.5,1114.5 152.0,1113.1 152.5,1111.2 153.0,1110.5 153.5,1109.9 154.0,1110.4 154.5,1110.0 155.0,1109.6 155.5,1108.3 156.0,1105.7 156.5,1101.2 157.0,1094.7 157.5,1086.7 158.0,1078.4 158.5,1071.6 159.0,1068.2 159.5,1069.2 160.0,1074.3 160.5,1082.2 161.0,1090.8 161.5,1098.5 162.0,1105.1 162.5,1110.6 163.0,1114.2 163.5,1116.4 164.0,1117.3 164.5,1118.6 165.0,1118.7 165.5,1119.2 166.0,1119.4 166.5,1119.8 167.0,1120.2 167.5,1120.2 168.0,1120.3 168.5,1120.1 169.0,1119.7 169.5,1119.7 170.0,1120.1 170.5,1120.2 171.0,1120.7 171.5,1120.2 172.0,1120.6 172.5,1120.0 173.0,1119.4 173.5,1118.8 174.0,1118.5 174.5,1118.2 175.0,1117.1 175.5,1115.8 176.0,1113.8 176.5,1110.7 177.0,1106.6 177.5,1102.4 178.0,1097.8 178.5,1093.9 179.0,1091.3 179.5,1091.0 180.0,1092.6 180.5,1095.9 181.0,1100.6 181.5,1105.7 182.0,1110.0 182.5,1113.3 183.0,1115.2 183.5,1116.7 184.0,1117.3 184.5,1117.9 185.0,1117.8 185.5,1117.6 186.0,1117.5 186.5,1117.4 187.0,1117.4 187.5,1117.5 188.0,1117.5 188.5,1118.1 189.0,1117.7 189.5,1116.8 190.0,1115.2 190.5,1113.0 191.0,1109.4 191.5,1103.7 192.0,1094.5 192.5,1082.0 193.0,1067.7 193.5,1053.5 194.0,1044.0 194.5,1040.8 195.0,1046.7 195.5,1059.0 196.0,1073.4 196.5,1087.1 197.0,1097.8 197.5,1105.6 198.0,1110.2 198.5,1112.7 199.0,1114.3 199.5,1115.0 200.0,1115.6 200.5,1115.8 201.0,1116.7 201.5,1116.7 202.0,1116.4 202.5,1116.1 203.0,1116.2 203.5,1116.5 204.0,1116.4 204.5,1116.8 205.0,1116.5 205.5,1116.5 206.0,1115.6 206.5,1115.5 207.0,1115.8 207.5,1116.2 208.0,1116.2 208.5,1115.5 209.0,1115.8 209.5,1115.9 210.0,1115.9 210.5,1115.8 211.0,1115.7 211.5,1116.1 212.0,1115.7 212.5,1115.9 213.0,1115.6 213.5,1115.6 214.0,1114.8 214.5,1114.2 215.0,1113.8 215.5,1112.8 216.0,1111.5 216.5,1109.1 217.0,1106.3 217.5,1102.3 218.0,1097.8 218.5,1093.2 219.0,1090.4 219.5,1090.1 220.0,1092.4 220.5,1095.9 221.0,1099.7 221.5,1103.5 222.0,1106.4 222.5,1109.2 223.0,1110.8 223.5,1111.5 224.0,1110.8 224.5,1109.9 225.0,1108.8 225.5,1107.0 226.0,1103.9 226.5,1100.6 227.0,1097.8 227.5,1096.2 228.0,1095.7 228.5,1097.1 229.0,1099.8 229.5,1103.2 230.0,1106.0 230.5,1109.0 231.0,1111.0 231.5,1113.2 232.0,1113.3 232.5,1114.0 233.0,1114.0 233.5,1114.4 234.0,1114.1 234.5,1113.8 235.0,1113.6 235.5,1112.8 236.0,1111.6 236.5,1110.4 237.0,1108.9 237.5,1106.3 238.0,1103.0 238.5,1099.3 239.0,1096.4 239.5,1094.0 240.0,1093.1 240.5,1094.1 241.0,1096.5 241.5,1099.6 242.0,1102.4 242.5,1105.1 243.0,1106.7 243.5,1107.8 244.0,1107.7 244.5,1108.2 245.0,1107.3 245.5,1106.6 246.0,1105.3 246.5,1103.6 247.0,1101.2 247.5,1097.8 248.0,1094.6 248.5,1091.4 249.0,1088.7 249.5,1087.4 250.0,1087.4 250.5,1089.1 251.0,1091.6 251.5,1095.4 252.0,1099.0 252.5,1102.2 253.0,1104.2 253.5,1105.5 254.0,1106.5 254.5,1106.9 255.0,1107.3 255.5,1106.9 256.0,1106.0 256.5,1104.4 257.0,1102.0 257.5,1099.8 258.0,1097.0 258.5,1093.5 259.0,1090.0 259.5,1087.2 260.0,1087.5 260.5,1089.6 261.0,1093.0 261.5,1096.6 262.0,1099.4 262.5,1102.2 263.0,1103.9 263.5,1105.2 264.0,1106.2 264.5,1106.6 265.0,1106.6 265.5,1106.0 266.0,1105.7 266.5,1105.7 267.0,1105.4 267.5,1104.6 268.0,1103.8 268.5,1102.6 269.0,1100.7 269.5,1097.7 270.0,1094.0 270.5,1089.5 271.0,1085.0 271.5,1081.6 272.0,1080.8 272.5,1082.9 273.0,1085.9 273.5,1089.5 274.0,1091.7 274.5,1091.7 275.0,1085.5 275.5,1071.0 276.0,1045.2 276.5,1010.1 277.0,971.5 277.5,941.6 278.0,932.3 278.5,946.3 279.0,973.4 279.5,1000.6 280.0,1022.5 280.5,1041.8 281.0,1060.8 281.5,1077.1 282.0,1088.0 282.5,1094.5 283.0,1096.7 283.5,1096.7 284.0,1094.8 284.5,1091.7 285.0,1086.3 285.5,1078.8 286.0,1070.0 286.5,1062.2 287.0,1057.7 287.5,1057.7 288.0,1062.0 288.5,1068.6 289.0,1075.2 289.5,1080.6 290.0,1084.0 290.5,1086.2 291.0,1087.2 291.5,1087.8 292.0,1089.1 292.5,1090.9 293.0,1092.9 293.5,1094.6 294.0,1096.1 294.5,1097.9 295.0,1098.7 295.5,1099.8 296.0,1099.9 296.5,1101.0 297.0,1101.3 297.5,1102.2 298.0,1102.9 298.5,1103.9 299.0,1104.4 299.5,1104.8 300.0,1104.6 300.5,1104.3 301.0,1104.5 301.5,1104.2 302.0,1103.8 302.5,1102.9 303.0,1102.0 303.5,1101.9 304.0,1102.6 304.5,1104.0 305.0,1104.3 305.5,1103.9 306.0,1104.0 306.5,1105.1 307.0,1105.9 307.5,1106.2 308.0,1106.2 308.5,1106.1 309.0,1106.1 309.5,1106.0 310.0,1105.9 310.5,1105.2 311.0,1103.4 311.5,1101.0 312.0,1097.0 312.5,1091.9 313.0,1085.1 313.5,1076.6 314.0,1067.1 314.5,1059.4 315.0,1056.3 315.5,1058.6 316.0,1065.0 316.5,1073.2 317.0,1081.8 317.5,1090.0 318.0,1096.5 318.5,1101.8 319.0,1104.8 319.5,1107.3 320.0,1108.5 320.5,1109.6 321.0,1110.2 321.5,1110.2 322.0,1110.4 322.5,1110.5 323.0,1111.1 323.5,1111.5 324.0,1111.5 324.5,1111.4 325.0,1110.9 325.5,1110.6 326.0,1110.5 326.5,1109.8 327.0,1109.3 327.5,1108.2 328.0,1107.4 328.5,1106.2 329.0,1106.0 329.5,1106.6 330.0,1107.2 330.5,1108.1 331.0,1108.8 331.5,1109.4 332.0,1108.7 332.5,1107.8 333.0,1106.3 333.5,1103.7 334.0,1100.8 334.5,1098.3 335.0,1096.9 335.5,1096.0 336.0,1097.0 336.5,1098.8 337.0,1101.9 337.5,1104.3 338.0,1107.0 338.5,1109.0 339.0,1110.4 339.5,1111.5 340.0,1112.7 340.5,1113.4 341.0,1114.0 341.5,1114.0 342.0,1114.1 342.5,1114.3 343.0,1114.1 343.5,1114.5 344.0,1114.0 344.5,1114.2 345.0,1113.4 345.5,1112.8 346.0,1112.3 346.5,1111.7 347.0,1111.0 347.5,1109.9 348.0,1109.5 348.5,1109.3 349.0,1109.8 349.5,1110.6 350.0,1111.9 350.5,1113.0 351.0,1113.9 351.5,1114.7 352.0,1115.3 352.5,1116.0 353.0,1116.5 353.5,1117.0 354.0,1116.7 354.5,1116.5 355.0,1116.0 355.5,1115.9 356.0,1115.6 356.5,1115.8 357.0,1116.0 357.5,1116.7 358.0,1116.9 358.5,1116.1 359.0,1115.2 359.5,1113.9 360.0,1113.3 360.5,1111.9 361.0,1111.0 361.5,1110.3 362.0,1109.8 362.5,1110.1 363.0,1110.2 363.5,1111.0 364.0,1112.1 364.5,1113.9 365.0,1115.1 365.5,1115.9 366.0,1116.0 366.5,1116.7 367.0,1117.3 367.5,1117.9 368.0,1118.0 368.5,1117.7 369.0,1117.9 369.5,1118.3 370.0,1118.9 370.5,1118.9 371.0,1118.5 371.5,1118.9 372.0,1118.9 372.5,1119.2 373.0,1119.0 373.5,1118.6 374.0,1118.7 374.5,1118.6 375.0,1119.2 375.5,1119.6 376.0,1119.8 376.5,1119.3 377.0,1118.9 377.5,1118.9 378.0,1119.4 378.5,1119.2 379.0,1118.8 379.5,1118.9 380.0,1119.3 380.5,1119.7 381.0,1119.2 381.5,1119.6 382.0,1118.9 382.5,1119.2 383.0,1119.2 383.5,1119.6 384.0,1119.5 384.5,1118.2 385.0,1117.8 385.5,1116.2 386.0,1114.8 386.5,1112.2 387.0,1109.6 387.5,1106.8 388.0,1103.7 388.5,1101.6 389.0,1100.5 389.5,1101.4 390.0,1103.6 390.5,1106.6 391.0,1109.6 391.5,1112.3 392.0,1114.5 392.5,1116.5 393.0,1118.3 393.5,1119.4 394.0,1120.3 394.5,1120.6 395.0,1120.8 395.5,1121.1 396.0,1121.0 396.5,1121.4 397.0,1121.6 397.5,1121.7 398.0,1121.8 398.5,1121.2 399.0,1121.4 399.5,1121.2 400.0,1121.5 400.5,1121.6 401.0,1122.0 401.5,1122.5 402.0,1122.7 402.5,1122.8 403.0,1122.4 403.5,1122.2 404.0,1121.7 404.5,1121.1 405.0,1120.7 405.5,1120.8 406.0,1120.7 406.5,1120.0 407.0,1119.5 407.5,1119.0 408.0,1119.1 408.5,1118.9 409.0,1119.5 409.5,1120.2 410.0,1121.6 410.5,1122.2 411.0,1122.3 411.5,1121.9 412.0,1121.8 412.5,1121.4 413.0,1121.1 413.5,1120.6 414.0,1120.2 414.5,1119.2 415.0,1117.6 415.5,1116.1 416.0,1115.5 416.5,1115.9 417.0,1116.3 417.5,1117.0 418.0,1117.9 418.5,1119.6 419.0,1120.8 419.5,1121.6 420.0,1122.3 420.5,1122.9 421.0,1123.4 421.5,1123.2 422.0,1122.7 422.5,1122.6 423.0,1122.8 423.5,1123.6 424.0,1124.0 424.5,1124.5 425.0,1124.5 425.5,1124.4 426.0,1124.6 426.5,1124.6 427.0,1124.9 427.5,1124.8 428.0,1125.1 428.5,1125.2 429.0,1125.0 429.5,1125.2 430.0,1124.6 430.5,1124.7 431.0,1124.3 431.5,1124.6 432.0,1124.6 432.5,1124.9 433.0,1124.6 433.5,1125.1 434.0,1125.5 434.5,1125.8 435.0,1126.0 435.5,1125.7 436.0,1126.1 436.5,1125.6 437.0,1124.8 437.5,1124.3 438.0,1123.8 438.5,1123.3 439.0,1122.2 439.5,1121.3 440.0,1121.2 440.5,1121.1 441.0,1122.2 441.5,1123.1 442.0,1123.6 442.5,1123.6 443.0,1123.8 443.5,1124.2 444.0,1124.8 444.5,1125.0 445.0,1125.3 445.5,1125.1 446.0,1125.0 446.5,1125.1 447.0,1124.9 447.5,1124.1 448.0,1123.2 448.5,1122.0 449.0,1121.6 449.5,1121.2 450.0,1122.1 450.5,1122.5 451.0,1123.4 451.5,1124.0 452.0,1125.1 452.5,1125.6 453.0,1125.8 453.5,1125.9 454.0,1126.5 454.5,1126.5 455.0,1126.5 455.5,1126.4 456.0,1126.8 456.5,1126.8 457.0,1126.3 457.5,1125.2 458.0,1124.8 458.5,1125.2 459.0,1125.6 459.5,1125.9 460.0,1125.8 460.5,1125.8 461.0,1126.1 461.5,1126.6 462.0,1127.3 462.5,1127.0 463.0,1127.1 463.5,1126.9 464.0,1127.5 464.5,1127.4 465.0,1127.4 465.5,1127.1 466.0,1127.6 466.5,1127.7 467.0,1127.7 467.5,1127.2 468.0,1126.9 468.5,1127.5 469.0,1127.3 469.5,1127.4 470.0,1127.2 470.5,1127.9 471.0,1128.1 471.5,1128.1 472.0,1128.0 472.5,1128.3 473.0,1128.1 473.5,1128.3 474.0,1128.0 474.5,1128.3 475.0,1127.5 475.5,1127.4 476.0,1126.3 476.5,1125.7 477.0,1124.9 477.5,1124.4 478.0,1124.3 478.5,1123.7 479.0,1124.4 479.5,1124.7 480.0,1125.3 480.5,1125.7 481.0,1126.5 481.5,1127.1 482.0,1127.6 482.5,1128.1 483.0,1128.6 483.5,1128.6 484.0,1128.1 484.5,1128.0 485.0,1127.7 485.5,1127.2 486.0,1126.9 486.5,1127.0 487.0,1128.1 487.5,1128.3 488.0,1128.3 488.5,1127.5 489.0,1127.5 489.5,1127.3 490.0,1127.1 490.5,1126.5 491.0,1126.1 491.5,1125.6 492.0,1125.0 492.5,1124.9 493.0,1125.2 493.5,1125.1 494.0,1125.9 494.5,1126.2 495.0,1127.6 495.5,1127.4 496.0,1127.9 496.5,1127.9 497.0,1128.3 497.5,1128.6 498.0,1128.7 498.5,1128.5 499.0,1128.3 499.5,1128.3 500.0,1128.6 500.5,1128.4 501.0,1127.9 501.5,1127.4 502.0,1126.9 502.5,1126.4 503.0,1126.6 503.5,1126.7 504.0,1127.2 504.5,1127.0 505.0,1127.7 505.5,1128.4 506.0,1128.9 506.5,1128.9 507.0,1128.5 507.5,1129.1 508.0,1129.2 508.5,1129.3 509.0,1129.2 509.5,1129.1 510.0,1129.4 510.5,1129.2 511.0,1128.9 511.5,1128.7 512.0,1128.8 512.5,1128.9 513.0,1128.7 513.5,1128.9 514.0,1128.6 514.5,1128.4 515.0,1127.5 515.5,1127.4 516.0,1127.5 516.5,1127.7 517.0,1127.8 517.5,1127.5 518.0,1127.7 518.5,1127.7 519.0,1128.4 519.5,1128.8 520.0,1128.6 520.5,1129.5 521.0,1129.3 521.5,1129.9 522.0,1129.4 522.5,1129.8 523.0,1129.8 523.5,1129.0 524.0,1128.5 524.5,1128.7 525.0,1129.1 525.5,1129.2 526.0,1128.4 526.5,1129.0 527.0,1129.3 527.5,1129.7 528.0,1129.3 528.5,1129.1 529.0,1129.0 529.5,1128.9 530.0,1128.7 530.5,1128.8 531.0,1128.8 531.5,1128.4 532.0,1127.8 532.5,1127.3 533.0,1127.1 533.5,1127.1 534.0,1127.6 534.5,1128.1 535.0,1128.9 535.5,1129.1 536.0,1129.2 536.5,1129.5 537.0,1129.6 537.5,1130.0 538.0,1130.0 538.5,1129.7 539.0,1129.3 539.5,1129.1 540.0,1129.1 540.5,1129.9 541.0,1130.0 541.5,1130.1 542.0,1130.0 542.5,1130.2 543.0,1130.6 543.5,1130.7 544.0,1130.5 544.5,1130.2 545.0,1130.1 545.5,1130.2 546.0,1130.2 546.5,1130.4 547.0,1130.0 547.5,1129.6 548.0,1129.2 548.5,1129.4 549.0,1130.1 549.5,1130.8 550.0,1130.6 550.5,1130.0 551.0,1129.9 551.5,1130.3 552.0,1130.3 552.5,1130.4 553.0,1130.3 553.5,1131.0 554.0,1130.8 554.5,1131.0 555.0,1130.8 555.5,1130.5 556.0,1130.2 556.5,1129.9 557.0,1130.3 557.5,1130.0 558.0,1129.6 558.5,1129.3 559.0,1129.5 559.5,1129.9 560.0,1129.7 560.5,1128.9 561.0,1128.4 561.5,1128.2 562.0,1128.9 562.5,1128.9 563.0,1129.4 563.5,1129.7 564.0,1130.2 564.5,1130.4 565.0,1130.7 565.5,1131.0 566.0,1131.3 566.5,1131.3 567.0,1131.4 567.5,1131.3 568.0,1131.0 568.5,1131.2 569.0,1131.0 569.5,1130.9 570.0,1130.8 570.5,1130.8 571.0,1131.1 571.5,1131.2 572.0,1131.4 572.5,1131.3 573.0,1131.3 573.5,1131.5 574.0,1131.1 574.5,1130.6 575.0,1130.8 575.5,1131.2 576.0,1131.1 576.5,1130.5 577.0,1130.4 577.5,1130.7 578.0,1131.1 578.5,1131.1 579.0,1131.5 579.5,1131.1 580.0,1131.3 580.5,1131.6 581.0,1131.7 581.5,1131.9 582.0,1131.7 582.5,1132.0 583.0,1131.7 583.5,1131.2 584.0,1130.8 584.5,1131.1 585.0,1131.6 585.5,1132.1 586.0,1132.1 586.5,1132.1 587.0,1131.7 587.5,1131.2 588.0,1131.1 588.5,1131.3 589.0,1131.6 589.5,1131.2 590.0,1131.0 590.5,1130.6 591.0,1131.0 591.5,1130.9 592.0,1131.2 592.5,1131.2 593.0,1131.4 593.5,1131.8 594.0,1131.4 594.5,1130.8 595.0,1130.6 595.5,1131.0 596.0,1131.7 596.5,1131.3 597.0,1130.9 597.5,1130.5 598.0,1130.0 598.5,1129.7 599.0,1129.8 599.5,1130.1 600.0,1130.9 600.5,1130.6 601.0,1130.8 601.5,1130.8 602.0,1131.2 602.5,1131.2 603.0,1130.7 603.5,1130.7 604.0,1131.4 604.5,1131.9 605.0,1132.2 605.5,1131.7 606.0,1131.8 606.5,1131.8 607.0,1131.7 607.5,1131.4 608.0,1131.4 608.5,1131.9 609.0,1132.0 609.5,1132.1 610.0,1132.3 610.5,1132.1 611.0,1131.7 611.5,1131.5 612.0,1131.8 612.5,1132.1 613.0,1131.9 613.5,1131.7 614.0,1131.9 614.5,1131.7 615.0,1132.0 615.5,1131.6 616.0,1131.5 616.5,1131.4 617.0,1131.5 617.5,1131.9 618.0,1131.8 618.5,1131.8 619.0,1131.7 619.5,1131.6 620.0,1131.3 620.5,1131.0 621.0,1130.9 621.5,1131.0 622.0,1131.2 622.5,1131.4 623.0,1131.4 623.5,1131.5 624.0,1131.2 624.5,1130.7 625.0,1130.2 625.5,1129.9 626.0,1129.6 626.5,1129.3 627.0,1129.4 627.5,1129.8 628.0,1130.4 628.5,1130.6 629.0,1131.1 629.5,1131.2 630.0,1131.5 630.5,1131.4 631.0,1131.8 631.5,1131.5 632.0,1131.7 632.5,1131.9 633.0,1132.5 633.5,1132.4 634.0,1132.3 634.5,1132.0 635.0,1131.8 635.5,1131.6 636.0,1131.8 636.5,1132.2 637.0,1132.1 637.5,1132.4 638.0,1131.8 638.5,1131.8 639.0,1131.6 639.5,1132.2 640.0,1132.3 640.5,1131.8 641.0,1131.6 641.5,1131.8 642.0,1132.0 642.5,1131.7 643.0,1131.5 643.5,1131.8 644.0,1132.2 644.5,1132.0 645.0,1132.5 645.5,1132.3 646.0,1132.5 646.5,1132.2 647.0,1132.2 647.5,1132.8 648.0,1132.9 648.5,1132.8 649.0,1132.1 649.5,1131.7 650.0,1131.7 650.5,1131.9 651.0,1131.8 651.5,1132.2 652.0,1131.9 652.5,1131.8 653.0,1131.4 653.5,1130.7 654.0,1130.3 654.5,1129.9 655.0,1130.2 655.5,1130.2 656.0,1130.1 656.5,1130.1 657.0,1130.2 657.5,1130.1 658.0,1130.0 658.5,1130.6 659.0,1130.9 659.5,1131.4 660.0,1131.6 660.5,1132.1 661.0,1132.3 661.5,1131.8 662.0,1131.6 662.5,1131.5 663.0,1131.8 663.5,1131.8 664.0,1132.1 664.5,1132.1 665.0,1132.3 665.5,1132.7 666.0,1132.9 666.5,1132.3 667.0,1132.1 667.5,1131.4 668.0,1131.5 668.5,1131.5 669.0,1131.5 669.5,1131.8 670.0,1131.9 670.5,1131.9 671.0,1131.7 671.5,1131.6 672.0,1132.0 672.5,1132.3 673.0,1131.9 673.5,1131.4 674.0,1131.3 674.5,1132.1 675.0,1132.4 675.5,1132.6 676.0,1132.4 676.5,1132.1 677.0,1132.0 677.5,1131.8 678.0,1131.6 678.5,1131.4 679.0,1131.4 679.5,1131.2 680.0,1131.2 680.5,1131.0 681.0,1131.1 681.5,1130.4 682.0,1129.8 682.5,1129.6 683.0,1129.6 683.5,1129.2 684.0,1128.9 684.5,1129.2 685.0,1129.7 685.5,1130.2 686.0,1130.8 686.5,1131.2 687.0,1131.5 687.5,1130.9 688.0,1131.0 688.5,1131.5 689.0,1131.8 689.5,1131.8 690.0,1131.2 690.5,1131.3 691.0,1131.8 691.5,1131.9 692.0,1132.0 692.5,1131.8 693.0,1132.0 693.5,1132.0 694.0,1132.3 694.5,1132.1 695.0,1131.9 695.5,1131.9 696.0,1131.7 696.5,1131.8 697.0,1131.8 697.5,1132.4 698.0,1132.3 698.5,1132.2 699.0,1132.0 699.5,1131.8 700.0,1131.8 700.5,1131.9 701.0,1132.1 701.5,1131.9 702.0,1131.8 702.5,1131.2 703.0,1131.6 703.5,1131.6 704.0,1132.2 704.5,1131.7 705.0,1131.8 705.5,1131.9 706.0,1132.4 706.5,1132.1 707.0,1132.2 707.5,1131.9 708.0,1132.1 708.5,1132.0 709.0,1131.9 709.5,1132.1 710.0,1131.8 710.5,1131.9 711.0,1132.0 711.5,1132.1 712.0,1131.9 712.5,1131.7 713.0,1131.9 713.5,1132.4 714.0,1132.5 714.5,1132.7 715.0,1132.4 715.5,1132.2 716.0,1132.0 716.5,1131.7 717.0,1132.0 717.5,1132.0 718.0,1132.1 718.5,1131.8 719.0,1132.0 719.5,1131.9 720.0,1131.8 720.5,1131.2 721.0,1131.0 721.5,1130.9 722.0,1130.8 722.5,1130.4 723.0,1131.0 723.5,1130.8 724.0,1131.4 724.5,1131.3 725.0,1131.7 725.5,1131.8 726.0,1131.8 726.5,1131.6 727.0,1131.8 727.5,1131.5 728.0,1131.6 728.5,1131.8 729.0,1132.2 729.5,1132.5 730.0,1132.6 730.5,1132.6 731.0,1132.4 731.5,1132.1 732.0,1132.5 732.5,1132.7 733.0,1132.8 733.5,1132.4 734.0,1132.5 734.5,1132.5 735.0,1132.5 735.5,1132.5 736.0,1132.2 736.5,1132.0 737.0,1132.1 737.5,1132.5 738.0,1132.9 738.5,1132.8 739.0,1132.5 739.5,1132.4 740.0,1132.5 740.5,1132.4 741.0,1132.4 741.5,1132.4 742.0,1133.2 742.5,1132.7 743.0,1132.3 743.5,1132.1 744.0,1131.9 744.5,1132.1 745.0,1131.6 745.5,1131.8 746.0,1131.6 746.5,1131.8 747.0,1132.2 747.5,1132.8 748.0,1132.9 748.5,1132.6 749.0,1132.8 749.5,1132.8 750.0,1133.0 750.5,1132.2 751.0,1132.1 751.5,1131.4 752.0,1131.7 752.5,1131.4 753.0,1131.3 753.5,1131.1 754.0,1131.2 754.5,1131.6 755.0,1131.8 755.5,1131.4 756.0,1131.4 756.5,1131.2 757.0,1131.6 757.5,1132.2 758.0,1132.7 758.5,1132.8 759.0,1132.3 759.5,1132.4 760.0,1132.4 760.5,1132.2 761.0,1131.8 761.5,1131.7 762.0,1132.0 762.5,1132.8 763.0,1132.9 763.5,1132.9 764.0,1132.4 764.5,1132.7 765.0,1132.8 765.5,1133.1 766.0,1132.8 766.5,1133.4 767.0,1133.3 767.5,1133.1 768.0,1132.9 768.5,1132.8 769.0,1133.2 769.5,1133.0 770.0,1133.5 770.5,1133.2 771.0,1133.4 771.5,1132.8 772.0,1132.8 772.5,1132.7 773.0,1132.9 773.5,1133.1 774.0,1133.0 774.5,1132.8 775.0,1132.8 775.5,1132.9 776.0,1132.9 776.5,1132.9 777.0,1133.2 777.5,1132.7 778.0,1132.4 778.5,1132.4 779.0,1133.2 779.5,1133.2 780.0,1133.4 780.5,1133.0 781.0,1133.1 781.5,1132.7 782.0,1132.9 782.5,1133.2 783.0,1133.4 783.5,1133.4 784.0,1133.5 784.5,1133.1 785.0,1133.1 785.5,1133.2 786.0,1133.4 786.5,1133.7 787.0,1133.2 787.5,1133.1 788.0,1132.8 788.5,1133.0 789.0,1132.9 789.5,1133.0 790.0,1133.1 790.5,1133.4 791.0,1133.4 791.5,1133.3 792.0,1133.2 792.5,1132.8 793.0,1132.1 793.5,1132.2 794.0,1132.6 794.5,1132.9 795.0,1132.5 795.5,1132.0 796.0,1131.7 796.5,1131.8 797.0,1131.8 797.5,1132.5 798.0,1132.4 798.5,1132.9 799.0,1133.3 799.5,1134.0 800.0,1133.9 800.5,1133.7 801.0,1133.1 801.5,1133.0 802.0,1132.9 802.5,1133.4 803.0,1133.5 803.5,1133.5 804.0,1133.2 804.5,1133.1 805.0,1132.9 805.5,1133.2 806.0,1133.5 806.5,1133.7 807.0,1133.5 807.5,1133.4 808.0,1133.6 808.5,1133.7 809.0,1134.3 809.5,1134.3 810.0,1133.8 810.5,1133.3 811.0,1132.9 811.5,1132.8 812.0,1132.7 812.5,1133.1 813.0,1133.7 813.5,1133.7 814.0,1133.7 814.5,1133.1 815.0,1133.2 815.5,1132.7 816.0,1132.7 816.5,1132.8 817.0,1133.0 817.5,1133.3 818.0,1133.2 818.5,1132.9 819.0,1133.0 819.5,1133.0 820.0,1133.3 820.5,1133.0 821.0,1133.2 821.5,1133.3 822.0,1133.9 822.5,1134.1 823.0,1134.0 823.5,1133.6 824.0,1132.9 824.5,1132.9 825.0,1133.3 825.5,1134.2 826.0,1133.6 826.5,1133.1 827.0,1132.6 827.5,1133.0 828.0,1133.2 828.5,1133.3 829.0,1133.4 829.5,1133.4 830.0,1133.0 830.5,1132.9 831.0,1132.7 831.5,1133.3 832.0,1133.1 832.5,1133.3 833.0,1133.3 833.5,1133.7 834.0,1133.9 834.5,1133.6 835.0,1133.7 835.5,1133.7 836.0,1134.4 836.5,1134.5 837.0,1134.6 837.5,1134.1 838.0,1134.0 838.5,1134.0 839.0,1134.1 839.5,1134.5 840.0,1134.3 840.5,1134.6 841.0,1134.9 841.5,1134.5 842.0,1134.5 842.5,1134.0 843.0,1134.3 843.5,1133.9 844.0,1133.9 844.5,1133.6 845.0,1133.5 845.5,1133.1 846.0,1133.4 846.5,1133.8 847.0,1134.2 847.5,1134.2 848.0,1133.9 848.5,1133.3 849.0,1133.3 849.5,1133.5 850.0,1134.0 850.5,1134.2 851.0,1134.2 851.5,1134.0 852.0,1133.2 852.5,1133.4 853.0,1133.4 853.5,1133.8 854.0,1133.7 854.5,1133.5 855.0,1133.6 855.5,1133.9 856.0,1134.4 856.5,1134.7 857.0,1134.4 857.5,1134.4 858.0,1134.3 858.5,1134.6 859.0,1134.5 859.5,1134.6 860.0,1134.0 860.5,1134.0 861.0,1133.2 861.5,1132.8 862.0,1133.3 862.5,1134.2 863.0,1134.6 863.5,1134.2 864.0,1134.0 864.5,1133.9 865.0,1134.3 865.5,1133.9 866.0,1134.0 866.5,1132.9 867.0,1133.5 867.5,1133.7 868.0,1134.8 868.5,1134.2 869.0,1134.3 869.5,1133.9 870.0,1134.2 870.5,1134.6 871.0,1135.1 871.5,1135.4 872.0,1134.8 872.5,1134.5 873.0,1134.5 873.5,1134.7 874.0,1134.7 874.5,1134.5 875.0,1134.1 875.5,1134.1 876.0,1134.3 876.5,1134.3 877.0,1134.3 877.5,1134.1 878.0,1134.0 878.5,1134.0 879.0,1133.4 879.5,1133.6 880.0,1133.3 880.5,1133.5 881.0,1133.5 881.5,1133.8 882.0,1134.0 882.5,1133.5 883.0,1134.0 883.5,1134.0 884.0,1134.3 884.5,1133.8 885.0,1133.9 885.5,1133.9 886.0,1134.0 886.5,1133.8 887.0,1134.2 887.5,1134.1 888.0,1134.3 888.5,1134.3 889.0,1134.4 889.5,1134.6 890.0,1134.6 890.5,1134.3 891.0,1134.1 891.5,1134.1 892.0,1134.4 892.5,1134.4 893.0,1134.9 893.5,1135.0 894.0,1135.1 894.5,1134.5 895.0,1134.7 895.5,1134.6 896.0,1134.5 896.5,1133.9 897.0,1134.1 897.5,1134.4 898.0,1134.3 898.5,1134.1 899.0,1134.0 899.5,1134.7 900.0,1134.5 900.5,1134.3 901.0,1134.2 901.5,1134.4 902.0,1134.4 902.5,1134.1 903.0,1133.9 903.5,1134.1 904.0,1134.3 904.5,1134.3 905.0,1134.3 905.5,1134.5 906.0,1134.9 906.5,1135.1 907.0,1134.7 907.5,1135.0 908.0,1134.6 908.5,1135.1 909.0,1134.7 909.5,1134.7 910.0,1134.1 910.5,1134.1 911.0,1134.2 911.5,1134.2 912.0,1134.2 912.5,1134.5 913.0,1134.9 913.5,1134.9 914.0,1135.0 914.5,1134.6 915.0,1134.5 915.5,1133.9 916.0,1134.3 916.5,1134.2 917.0,1134.1 917.5,1134.3 918.0,1135.1 918.5,1135.7 919.0,1135.1 919.5,1134.7 920.0,1134.6 920.5,1134.9 921.0,1134.6 921.5,1134.3 922.0,1133.9 922.5,1134.0 923.0,1134.6 923.5,1135.1 924.0,1135.1 924.5,1134.2 925.0,1134.2 925.5,1134.4 926.0,1134.9 926.5,1134.8" fill="none" stroke="#2473BA" stroke-width="2.8" stroke-linejoin="round"/>
<g fill="#C52A22"><rect x="41.1" y="1146.6" width="1.8" height="12" /><rect x="42.6" y="1146.6" width="1.8" height="12" /><rect x="44.1" y="1146.6" width="1.8" height="12" /><rect x="45.6" y="1146.6" width="1.8" height="12" /><rect x="79.9" y="1146.6" width="1.8" height="12" /><rect x="92.3" y="1146.6" width="1.8" height="12" /><rect x="97.1" y="1146.6" width="1.8" height="12" /><rect x="99.7" y="1146.6" width="1.8" height="12" /><rect x="106.1" y="1146.6" width="1.8" height="12" /><rect x="109.1" y="1146.6" width="1.8" height="12" /><rect x="117.3" y="1146.6" width="1.8" height="12" /><rect x="120.9" y="1146.6" width="1.8" height="12" /><rect x="123.9" y="1146.6" width="1.8" height="12" /><rect x="126.9" y="1146.6" width="1.8" height="12" /><rect x="129.9" y="1146.6" width="1.8" height="12" /><rect x="135.4" y="1146.6" width="1.8" height="12" /><rect x="139.9" y="1146.6" width="1.8" height="12" /><rect x="143.4" y="1146.6" width="1.8" height="12" /><rect x="143.9" y="1146.6" width="1.8" height="12" /><rect x="186.6" y="1146.6" width="1.8" height="12" /><rect x="187.9" y="1146.6" width="1.8" height="12" /><rect x="148.5" y="1146.6" width="34.5" height="12"/><rect x="191.7" y="1146.6" width="20.8" height="12"/><rect x="218.0" y="1146.6" width="4.0" height="12"/><rect x="223.5" y="1146.6" width="10.5" height="12"/><rect x="239.0" y="1146.6" width="3.0" height="12"/><rect x="243.5" y="1146.6" width="2.5" height="12"/><rect x="247.0" y="1146.6" width="16.0" height="12"/><rect x="266.8" y="1146.6" width="35.2" height="12"/><rect x="303.0" y="1146.6" width="623.5" height="12"/></g>
<g fill="#fff" opacity="0.55"><rect x="152.0" y="1146.6" width="0.9" height="12"/><rect x="157.0" y="1146.6" width="0.9" height="12"/><rect x="161.5" y="1146.6" width="0.9" height="12"/><rect x="166.0" y="1146.6" width="0.9" height="12"/><rect x="171.0" y="1146.6" width="0.9" height="12"/><rect x="175.5" y="1146.6" width="0.9" height="12"/><rect x="196.0" y="1146.6" width="0.9" height="12"/><rect x="201.0" y="1146.6" width="0.9" height="12"/><rect x="206.0" y="1146.6" width="0.9" height="12"/><rect x="302.5" y="1146.6" width="0.9" height="12"/><rect x="388.6" y="1146.6" width="0.9" height="12"/><rect x="443.6" y="1146.6" width="0.9" height="12"/><rect x="535.5" y="1146.6" width="0.9" height="12"/><rect x="627.0" y="1146.6" width="0.9" height="12"/></g>
<polyline points="24.5,1187.0 25.0,1186.9 25.5,1187.2 26.0,1187.0 26.5,1186.3 27.0,1186.3 27.5,1186.6 28.0,1186.9 28.5,1187.1 29.0,1187.2 29.5,1187.3 30.0,1187.1 30.5,1187.3 31.0,1188.2 31.5,1187.9 32.0,1187.4 32.5,1187.6 33.0,1187.8 33.5,1187.4 34.0,1187.2 34.5,1186.9 35.0,1186.6 35.5,1187.0 36.0,1187.7 36.5,1187.2 37.0,1186.9 37.5,1187.2 38.0,1187.1 38.5,1186.8 39.0,1186.8 39.5,1186.5 40.0,1186.6 40.5,1187.1 41.0,1187.7 41.5,1188.1 42.0,1187.4 42.5,1187.1 43.0,1187.7 43.5,1188.2 44.0,1187.7 44.5,1187.2 45.0,1186.7 45.5,1186.5 46.0,1186.6 46.5,1185.6 47.0,1185.0 47.5,1183.7 48.0,1183.3 48.5,1185.0 49.0,1186.4 49.5,1187.5 50.0,1187.2 50.5,1186.5 51.0,1187.0 51.5,1187.3 52.0,1187.1 52.5,1186.8 53.0,1187.3 53.5,1187.2 54.0,1186.7 54.5,1187.4 55.0,1188.1 55.5,1188.0 56.0,1187.2 56.5,1186.7 57.0,1186.7 57.5,1186.6 58.0,1186.7 58.5,1187.4 59.0,1187.6 59.5,1187.0 60.0,1186.7 60.5,1186.6 61.0,1187.2 61.5,1186.9 62.0,1186.7 62.5,1186.8 63.0,1186.4 63.5,1186.4 64.0,1187.0 64.5,1187.4 65.0,1188.0 65.5,1187.7 66.0,1186.5 66.5,1187.0 67.0,1187.5 67.5,1187.3 68.0,1186.5 68.5,1187.0 69.0,1187.8 69.5,1187.5 70.0,1187.1 70.5,1187.2 71.0,1187.2 71.5,1187.0 72.0,1187.1 72.5,1187.5 73.0,1187.4 73.5,1186.9 74.0,1187.4 74.5,1187.6 75.0,1187.2 75.5,1187.1 76.0,1187.3 76.5,1186.9 77.0,1185.8 77.5,1185.1 78.0,1183.5 78.5,1182.3 79.0,1183.4 79.5,1186.4 80.0,1189.1 80.5,1190.1 81.0,1190.0 81.5,1188.9 82.0,1188.1 82.5,1187.3 83.0,1187.3 83.5,1187.4 84.0,1187.0 84.5,1187.4 85.0,1187.4 85.5,1187.4 86.0,1187.1 86.5,1186.2 87.0,1186.4 87.5,1186.6 88.0,1186.4 88.5,1186.8 89.0,1186.4 89.5,1185.2 90.0,1184.7 90.5,1185.3 91.0,1186.8 91.5,1187.6 92.0,1188.6 92.5,1188.8 93.0,1188.2 93.5,1187.7 94.0,1187.5 94.5,1187.8 95.0,1187.4 95.5,1187.1 96.0,1187.3 96.5,1187.7 97.0,1187.9 97.5,1187.5 98.0,1187.3 98.5,1187.7 99.0,1187.1 99.5,1186.8 100.0,1187.1 100.5,1187.3 101.0,1187.4 101.5,1187.0 102.0,1186.8 102.5,1186.9 103.0,1187.4 103.5,1187.9 104.0,1187.3 104.5,1186.7 105.0,1188.2 105.5,1188.6 106.0,1187.5 106.5,1187.3 107.0,1186.5 107.5,1186.8 108.0,1187.5 108.5,1186.2 109.0,1185.6 109.5,1184.9 110.0,1183.8 110.5,1184.9 111.0,1187.1 111.5,1188.7 112.0,1189.8 112.5,1189.6 113.0,1188.3 113.5,1188.0 114.0,1188.2 114.5,1187.8 115.0,1187.5 115.5,1187.2 116.0,1187.0 116.5,1186.9 117.0,1187.4 117.5,1187.6 118.0,1187.2 118.5,1187.3 119.0,1186.8 119.5,1187.3 120.0,1187.6 120.5,1186.5 121.0,1186.3 121.5,1185.7 122.0,1185.5 122.5,1185.9 123.0,1186.9 123.5,1188.1 124.0,1188.2 124.5,1188.5 125.0,1188.5 125.5,1187.4 126.0,1187.1 126.5,1187.5 127.0,1187.9 127.5,1187.5 128.0,1187.2 128.5,1187.4 129.0,1187.4 129.5,1187.3 130.0,1187.1 130.5,1187.3 131.0,1187.0 131.5,1186.2 132.0,1186.6 132.5,1187.1 133.0,1187.1 133.5,1187.4 134.0,1187.3 134.5,1187.5 135.0,1187.5 135.5,1186.9 136.0,1186.7 136.5,1186.4 137.0,1185.9 137.5,1186.1 138.0,1186.6 138.5,1187.2 139.0,1187.9 139.5,1188.4 140.0,1188.0 140.5,1187.6 141.0,1188.2 141.5,1188.5 142.0,1187.9 142.5,1187.5 143.0,1187.7 143.5,1187.6 144.0,1187.7 144.5,1187.6 145.0,1187.6 145.5,1187.5 146.0,1187.2 146.5,1187.2 147.0,1187.5 147.5,1187.7 148.0,1187.7 148.5,1187.6 149.0,1187.9 149.5,1187.4 150.0,1186.9 150.5,1187.3 151.0,1187.4 151.5,1186.9 152.0,1187.2 152.5,1187.5 153.0,1186.9 153.5,1187.5 154.0,1187.4 154.5,1186.8 155.0,1187.0 155.5,1187.1 156.0,1187.4 156.5,1187.2 157.0,1187.0 157.5,1187.2 158.0,1186.9 158.5,1187.3 159.0,1187.6 159.5,1187.2 160.0,1186.9 160.5,1186.9 161.0,1187.2 161.5,1187.1 162.0,1187.5 162.5,1186.8 163.0,1185.8 163.5,1186.5 164.0,1186.6 164.5,1186.7 165.0,1187.0 165.5,1187.2 166.0,1187.5 166.5,1187.7 167.0,1187.9 167.5,1187.9 168.0,1187.8 168.5,1187.7 169.0,1187.7 169.5,1187.2 170.0,1186.7 170.5,1186.5 171.0,1187.0 171.5,1186.7 172.0,1186.6 172.5,1187.1 173.0,1187.2 173.5,1187.5 174.0,1187.1 174.5,1187.0 175.0,1186.5 175.5,1186.6 176.0,1187.4 176.5,1186.8 177.0,1186.9 177.5,1187.4 178.0,1187.2 178.5,1186.9 179.0,1187.0 179.5,1187.6 180.0,1187.4 180.5,1186.9 181.0,1187.2 181.5,1187.8 182.0,1187.7 182.5,1187.7 183.0,1187.4 183.5,1187.1 184.0,1187.4 184.5,1187.4 185.0,1188.1 185.5,1188.2 186.0,1187.2 186.5,1187.3 187.0,1187.2 187.5,1187.0 188.0,1187.6 188.5,1187.3 189.0,1187.0 189.5,1186.9 190.0,1187.0 190.5,1187.1 191.0,1187.5 191.5,1187.4 192.0,1185.6 192.5,1182.5 193.0,1180.4 193.5,1180.1 194.0,1182.1 194.5,1187.3 195.0,1193.4 195.5,1197.3 196.0,1197.9 196.5,1194.9 197.0,1190.3 197.5,1187.8 198.0,1186.6 198.5,1186.7 199.0,1187.7 199.5,1188.0 200.0,1188.4 200.5,1187.7 201.0,1187.2 201.5,1187.7 202.0,1187.8 202.5,1187.3 203.0,1187.3 203.5,1187.7 204.0,1187.8 204.5,1187.7 205.0,1187.2 205.5,1187.0 206.0,1187.0 206.5,1186.9 207.0,1186.9 207.5,1187.3 208.0,1187.5 208.5,1187.8 209.0,1188.0 209.5,1187.8 210.0,1187.1 210.5,1187.1 211.0,1187.8 211.5,1187.2 212.0,1186.5 212.5,1186.6 213.0,1186.6 213.5,1186.8 214.0,1186.9 214.5,1187.1 215.0,1187.0 215.5,1186.8 216.0,1187.0 216.5,1186.4 217.0,1185.8 217.5,1184.1 218.0,1181.6 218.5,1180.5 219.0,1182.1 219.5,1186.0 220.0,1189.5 220.5,1191.1 221.0,1191.6 221.5,1190.9 222.0,1189.0 222.5,1187.9 223.0,1187.5 223.5,1187.3 224.0,1187.0 224.5,1186.8 225.0,1186.9 225.5,1185.9 226.0,1184.2 226.5,1183.8 227.0,1184.3 227.5,1185.3 228.0,1187.5 228.5,1189.1 229.0,1189.9 229.5,1190.1 230.0,1189.5 230.5,1187.8 231.0,1186.7 231.5,1187.7 232.0,1188.0 232.5,1187.6 233.0,1187.7 233.5,1187.6 234.0,1187.1 234.5,1187.4 235.0,1187.7 235.5,1187.2 236.0,1187.2 236.5,1186.5 237.0,1184.4 237.5,1183.0 238.0,1179.6 238.5,1177.4 239.0,1179.1 239.5,1183.0 240.0,1187.0 240.5,1189.2 241.0,1190.0 241.5,1189.8 242.0,1188.8 242.5,1187.7 243.0,1186.1 243.5,1185.0 244.0,1185.0 244.5,1185.7 245.0,1187.1 245.5,1188.5 246.0,1190.2 246.5,1190.3 247.0,1188.3 247.5,1185.5 248.0,1183.1 248.5,1182.6 249.0,1184.1 249.5,1186.6 250.0,1189.5 250.5,1191.8 251.0,1191.7 251.5,1190.4 252.0,1189.0 252.5,1187.7 253.0,1186.6 253.5,1186.0 254.0,1186.4 254.5,1186.7 255.0,1186.7 255.5,1187.0 256.0,1187.3 256.5,1186.9 257.0,1185.5 257.5,1184.5 258.0,1183.4 258.5,1182.4 259.0,1183.5 259.5,1186.0 260.0,1189.2 260.5,1191.1 261.0,1191.3 261.5,1190.0 262.0,1189.0 262.5,1187.6 263.0,1186.6 263.5,1187.3 264.0,1187.4 264.5,1186.9 265.0,1186.1 265.5,1185.8 266.0,1184.4 266.5,1183.1 267.0,1183.8 267.5,1185.5 268.0,1188.4 268.5,1190.2 269.0,1190.6 269.5,1190.2 270.0,1188.6 270.5,1187.8 271.0,1187.6 271.5,1187.2 272.0,1186.9 272.5,1186.9 273.0,1187.0 273.5,1187.0 274.0,1186.8 274.5,1186.9 275.0,1186.2 275.5,1182.8 276.0,1178.9 276.5,1175.3 277.0,1173.9 277.5,1178.9 278.0,1186.5 278.5,1192.0 279.0,1194.4 279.5,1192.7 280.0,1188.7 280.5,1186.9 281.0,1188.5 281.5,1190.7 282.0,1192.5 282.5,1193.0 283.0,1191.1 283.5,1188.8 284.0,1187.9 284.5,1187.7 285.0,1186.7 285.5,1186.0 286.0,1185.4 286.5,1184.5 287.0,1184.0 287.5,1185.2 288.0,1186.9 288.5,1188.1 289.0,1189.6 289.5,1189.3 290.0,1188.1 290.5,1188.0 291.0,1187.3 291.5,1186.6 292.0,1187.3 292.5,1187.6 293.0,1187.3 293.5,1187.3 294.0,1187.0 294.5,1187.1 295.0,1187.2 295.5,1187.9 296.0,1188.1 296.5,1187.2 297.0,1187.1 297.5,1187.2 298.0,1186.8 298.5,1186.5 299.0,1187.4 299.5,1187.1 300.0,1186.1 300.5,1185.8 301.0,1184.5 301.5,1182.0 302.0,1181.5 302.5,1183.4 303.0,1186.3 303.5,1189.2 304.0,1190.0 304.5,1190.0 305.0,1189.3 305.5,1187.9 306.0,1187.8 306.5,1187.8 307.0,1187.4 307.5,1187.4 308.0,1186.5 308.5,1186.3 309.0,1186.8 309.5,1187.4 310.0,1187.9 310.5,1187.7 311.0,1187.1 311.5,1186.5 312.0,1186.0 312.5,1185.3 313.0,1183.3 313.5,1183.0 314.0,1184.8 314.5,1187.0 315.0,1188.2 315.5,1188.6 316.0,1189.0 316.5,1188.1 317.0,1187.2 317.5,1186.8 318.0,1187.1 318.5,1187.5 319.0,1187.7 319.5,1187.5 320.0,1186.6 320.5,1186.9 321.0,1187.4 321.5,1187.5 322.0,1187.8 322.5,1187.4 323.0,1187.3 323.5,1187.1 324.0,1186.9 324.5,1187.4 325.0,1187.4 325.5,1187.2 326.0,1186.8 326.5,1186.6 327.0,1187.0 327.5,1186.9 328.0,1186.6 328.5,1187.7 329.0,1188.0 329.5,1187.0 330.0,1186.6 330.5,1187.3 331.0,1186.8 331.5,1186.2 332.0,1187.2 332.5,1187.1 333.0,1187.0 333.5,1186.6 334.0,1185.8 334.5,1185.5 335.0,1185.2 335.5,1185.8 336.0,1186.9 336.5,1188.5 337.0,1189.2 337.5,1188.7 338.0,1188.1 338.5,1187.6 339.0,1186.8 339.5,1186.1 340.0,1186.2 340.5,1186.8 341.0,1187.0 341.5,1186.8 342.0,1187.9 342.5,1188.3 343.0,1187.4 343.5,1186.9 344.0,1187.3 344.5,1187.3 345.0,1187.3 345.5,1187.7 346.0,1187.7 346.5,1187.3 347.0,1187.2 347.5,1186.8 348.0,1186.5 348.5,1187.4 349.0,1187.7 349.5,1186.8 350.0,1186.8 350.5,1187.5 351.0,1187.2 351.5,1186.9 352.0,1186.8 352.5,1186.9 353.0,1187.2 353.5,1187.5 354.0,1187.6 354.5,1187.6 355.0,1186.9 355.5,1186.8 356.0,1187.8 356.5,1187.4 357.0,1186.9 357.5,1187.0 358.0,1186.6 358.5,1186.9 359.0,1187.5 359.5,1187.6 360.0,1187.5 360.5,1187.5 361.0,1186.9 361.5,1186.9 362.0,1187.5 362.5,1187.2 363.0,1187.1 363.5,1186.9 364.0,1187.2 364.5,1187.2 365.0,1186.4 365.5,1186.7 366.0,1186.9 366.5,1186.9 367.0,1187.5 367.5,1187.5 368.0,1187.1 368.5,1187.8 369.0,1187.4 369.5,1186.8 370.0,1187.6 370.5,1187.9 371.0,1188.2 371.5,1187.6 372.0,1187.1 372.5,1187.3 373.0,1187.0 373.5,1186.8 374.0,1186.5 374.5,1186.8 375.0,1187.4 375.5,1187.0 376.0,1187.0 376.5,1187.2 377.0,1186.6 377.5,1186.0 378.0,1186.7 378.5,1187.7 379.0,1187.2 379.5,1186.9 380.0,1186.6 380.5,1186.9 381.0,1187.3 381.5,1187.3 382.0,1187.3 382.5,1186.8 383.0,1186.2 383.5,1186.8 384.0,1186.7 384.5,1186.7 385.0,1187.5 385.5,1187.0 386.0,1186.9 386.5,1186.9 387.0,1185.6 387.5,1182.8 388.0,1179.2 388.5,1177.5 389.0,1179.5 389.5,1184.1 390.0,1188.8 390.5,1191.7 391.0,1192.5 391.5,1191.3 392.0,1189.1 392.5,1188.0 393.0,1187.7 393.5,1187.7 394.0,1187.4 394.5,1187.2 395.0,1187.6 395.5,1187.3 396.0,1186.9 396.5,1187.6 397.0,1187.5 397.5,1187.4 398.0,1187.7 398.5,1188.0 399.0,1188.1 399.5,1187.0 400.0,1186.7 400.5,1187.3 401.0,1187.5 401.5,1187.5 402.0,1187.9 402.5,1188.1 403.0,1187.1 403.5,1186.6 404.0,1186.3 404.5,1187.1 405.0,1187.6 405.5,1187.1 406.0,1186.6 406.5,1186.5 407.0,1187.1 407.5,1187.1 408.0,1186.9 408.5,1186.8 409.0,1187.5 409.5,1187.6 410.0,1186.5 410.5,1186.5 411.0,1186.8 411.5,1187.0 412.0,1187.0 412.5,1186.7 413.0,1186.7 413.5,1187.1 414.0,1186.8 414.5,1187.3 415.0,1188.2 415.5,1187.1 416.0,1186.4 416.5,1187.3 417.0,1187.8 417.5,1188.0 418.0,1187.1 418.5,1186.2 419.0,1186.6 419.5,1187.1 420.0,1186.9 420.5,1186.9 421.0,1187.4 421.5,1187.4 422.0,1186.9 422.5,1186.8 423.0,1187.2 423.5,1187.0 424.0,1187.4 424.5,1187.4 425.0,1187.5 425.5,1187.4 426.0,1187.4 426.5,1188.1 427.0,1187.4 427.5,1187.0 428.0,1187.3 428.5,1186.9 429.0,1187.1 429.5,1187.5 430.0,1187.0 430.5,1186.9 431.0,1187.4 431.5,1187.4 432.0,1186.9 432.5,1187.4 433.0,1187.3 433.5,1186.9 434.0,1187.6 434.5,1187.7 435.0,1186.8 435.5,1186.5 436.0,1187.0 436.5,1187.1 437.0,1187.3 437.5,1187.5 438.0,1187.4 438.5,1187.3 439.0,1187.6 439.5,1187.9 440.0,1187.0 440.5,1187.3 441.0,1187.7 441.5,1187.2 442.0,1186.9 442.5,1186.5 443.0,1186.6 443.5,1187.1 444.0,1187.8 444.5,1187.5 445.0,1187.1 445.5,1187.3 446.0,1187.0 446.5,1186.7 447.0,1186.8 447.5,1187.2 448.0,1187.4 448.5,1186.8 449.0,1186.9 449.5,1187.5 450.0,1187.8 450.5,1187.4 451.0,1187.1 451.5,1187.9 452.0,1187.7 452.5,1187.0 453.0,1187.2 453.5,1187.2 454.0,1187.0 454.5,1187.0 455.0,1186.8 455.5,1187.2 456.0,1187.3 456.5,1186.8 457.0,1186.8 457.5,1187.1 458.0,1187.2 458.5,1187.6 459.0,1188.0 459.5,1187.4 460.0,1186.7 460.5,1186.6 461.0,1186.7 461.5,1187.4 462.0,1187.1 462.5,1186.7 463.0,1186.6 463.5,1186.4 464.0,1186.9 464.5,1187.9 465.0,1187.4 465.5,1187.3 466.0,1187.6 466.5,1186.7 467.0,1186.9 467.5,1187.6 468.0,1187.5 468.5,1187.2 469.0,1187.6 469.5,1187.6 470.0,1187.3 470.5,1187.5 471.0,1187.1 471.5,1186.3 472.0,1186.1 472.5,1186.5 473.0,1187.1 473.5,1186.7 474.0,1186.4 474.5,1187.4 475.0,1187.1 475.5,1186.7 476.0,1187.4 476.5,1187.5 477.0,1186.9 477.5,1186.8 478.0,1186.8 478.5,1187.1 479.0,1187.3 479.5,1187.0 480.0,1187.0 480.5,1186.9 481.0,1186.7 481.5,1186.8 482.0,1187.4 482.5,1187.3 483.0,1187.6 483.5,1187.7 484.0,1187.5 484.5,1187.5 485.0,1187.9 485.5,1187.5 486.0,1186.9 486.5,1187.0 487.0,1187.3 487.5,1187.4 488.0,1187.5 488.5,1187.5 489.0,1187.1 489.5,1187.0 490.0,1187.3 490.5,1186.6 491.0,1186.9 491.5,1187.4 492.0,1186.9 492.5,1187.1 493.0,1187.2 493.5,1186.6 494.0,1186.6 494.5,1187.5 495.0,1187.9 495.5,1187.9 496.0,1187.4 496.5,1186.9 497.0,1187.4 497.5,1187.9 498.0,1187.6 498.5,1186.9 499.0,1186.3 499.5,1187.0 500.0,1187.1 500.5,1186.8 501.0,1187.6 501.5,1188.5 502.0,1188.2 502.5,1187.2 503.0,1187.3 503.5,1187.5 504.0,1187.8 504.5,1187.8 505.0,1187.2 505.5,1186.3 506.0,1186.6 506.5,1187.1 507.0,1187.4 507.5,1187.2 508.0,1186.9 508.5,1187.0 509.0,1186.7 509.5,1187.4 510.0,1187.8 510.5,1187.2 511.0,1187.4 511.5,1187.2 512.0,1186.8 512.5,1186.9 513.0,1187.6 513.5,1187.9 514.0,1187.5 514.5,1187.7 515.0,1187.5 515.5,1187.1 516.0,1186.6 516.5,1186.8 517.0,1187.4 517.5,1187.2 518.0,1187.4 518.5,1187.0 519.0,1186.8 519.5,1186.9 520.0,1186.4 520.5,1186.8 521.0,1187.5 521.5,1187.2 522.0,1186.5 522.5,1186.5 523.0,1187.4 523.5,1188.0 524.0,1187.5 524.5,1188.0 525.0,1187.9 525.5,1186.6 526.0,1186.4 526.5,1186.7 527.0,1187.5 527.5,1187.4 528.0,1186.9 528.5,1187.1 529.0,1186.9 529.5,1187.1 530.0,1187.2 530.5,1186.9 531.0,1186.6 531.5,1186.6 532.0,1186.7 532.5,1186.6 533.0,1186.9 533.5,1187.2 534.0,1187.3 534.5,1187.3 535.0,1187.7 535.5,1187.6 536.0,1186.7 536.5,1187.2 537.0,1187.3 537.5,1187.0 538.0,1187.5 538.5,1187.5 539.0,1187.1 539.5,1187.4 540.0,1187.6 540.5,1187.1 541.0,1186.7 541.5,1186.7 542.0,1186.6 542.5,1186.4 543.0,1186.6 543.5,1186.9 544.0,1187.5 544.5,1187.2 545.0,1186.8 545.5,1186.7 546.0,1186.4 546.5,1186.6 547.0,1187.2 547.5,1187.5 548.0,1187.5 548.5,1187.3 549.0,1186.3 549.5,1186.6 550.0,1187.9 550.5,1187.9 551.0,1187.8 551.5,1187.8 552.0,1188.4 552.5,1188.1 553.0,1187.8 553.5,1187.9 554.0,1187.7 554.5,1187.4 555.0,1187.0 555.5,1186.7 556.0,1187.0 556.5,1187.3 557.0,1186.7 557.5,1186.6 558.0,1186.6 558.5,1187.3 559.0,1187.6 559.5,1187.2 560.0,1186.9 560.5,1186.5 561.0,1187.2 561.5,1187.5 562.0,1187.2 562.5,1187.8 563.0,1188.4 563.5,1188.1 564.0,1187.6 564.5,1187.4 565.0,1187.2 565.5,1187.7 566.0,1187.5 566.5,1186.8 567.0,1186.6 567.5,1186.2 568.0,1186.9 568.5,1187.5 569.0,1187.4 569.5,1187.2 570.0,1186.9 570.5,1186.8 571.0,1186.9 571.5,1187.4 572.0,1188.0 572.5,1187.8 573.0,1187.2 573.5,1186.7 574.0,1187.0 574.5,1187.2 575.0,1186.6 575.5,1187.1 576.0,1187.6 576.5,1187.1 577.0,1186.8 577.5,1186.7 578.0,1187.2 578.5,1187.2 579.0,1186.9 579.5,1187.4 580.0,1188.0 580.5,1188.0 581.0,1187.4 581.5,1187.1 582.0,1187.3 582.5,1187.8 583.0,1187.4 583.5,1187.3 584.0,1187.3 584.5,1186.7 585.0,1186.4 585.5,1187.1 586.0,1187.9 586.5,1187.9 587.0,1187.3 587.5,1186.9 588.0,1187.1 588.5,1187.5 589.0,1186.8 589.5,1186.9 590.0,1187.2 590.5,1187.2 591.0,1187.6 591.5,1187.6 592.0,1187.8 592.5,1187.8 593.0,1187.1 593.5,1186.6 594.0,1187.2 594.5,1187.7 595.0,1186.9 595.5,1186.1 596.0,1186.9 596.5,1188.2 597.0,1188.2 597.5,1187.4 598.0,1187.2 598.5,1186.4 599.0,1186.0 599.5,1187.2 600.0,1187.8 600.5,1186.8 601.0,1186.9 601.5,1187.7 602.0,1187.7 602.5,1187.4 603.0,1187.1 603.5,1186.9 604.0,1187.0 604.5,1187.6 605.0,1187.2 605.5,1187.0 606.0,1187.2 606.5,1187.4 607.0,1187.8 607.5,1186.8 608.0,1186.6 608.5,1187.7 609.0,1187.3 609.5,1187.0 610.0,1187.1 610.5,1186.8 611.0,1186.8 611.5,1187.7 612.0,1187.8 612.5,1187.8 613.0,1188.0 613.5,1187.9 614.0,1187.6 614.5,1187.5 615.0,1188.1 615.5,1188.3 616.0,1187.8 616.5,1187.1 617.0,1186.7 617.5,1187.0 618.0,1187.4 618.5,1186.8 619.0,1186.7 619.5,1187.4 620.0,1187.4 620.5,1187.1 621.0,1187.7 621.5,1188.2 622.0,1187.0 622.5,1186.6 623.0,1187.2 623.5,1187.6 624.0,1187.4 624.5,1187.2 625.0,1187.1 625.5,1187.0 626.0,1186.7 626.5,1187.1 627.0,1186.5 627.5,1186.1 628.0,1187.3 628.5,1187.3 629.0,1186.6 629.5,1187.4 630.0,1188.1 630.5,1187.5 631.0,1187.0 631.5,1186.9 632.0,1187.0 632.5,1187.0 633.0,1186.9 633.5,1187.1 634.0,1187.2 634.5,1186.4 635.0,1186.2 635.5,1186.8 636.0,1186.9 636.5,1186.1 637.0,1186.9 637.5,1187.8 638.0,1187.2 638.5,1186.9 639.0,1187.2 639.5,1187.7 640.0,1187.4 640.5,1187.1 641.0,1187.1 641.5,1187.1 642.0,1186.9 642.5,1186.2 643.0,1186.6 643.5,1187.2 644.0,1187.4 644.5,1187.2 645.0,1187.4 645.5,1187.6 646.0,1187.7 646.5,1187.5 647.0,1187.5 647.5,1187.6 648.0,1187.2 648.5,1187.5 649.0,1186.9 649.5,1186.3 650.0,1187.4 650.5,1187.3 651.0,1186.5 651.5,1187.2 652.0,1187.8 652.5,1187.5 653.0,1187.0 653.5,1186.8 654.0,1186.7 654.5,1187.4 655.0,1187.6 655.5,1187.3 656.0,1187.3 656.5,1187.3 657.0,1187.3 657.5,1187.1 658.0,1186.7 658.5,1187.1 659.0,1187.0 659.5,1187.1 660.0,1188.1 660.5,1188.3 661.0,1188.4 661.5,1187.6 662.0,1186.9 662.5,1187.0 663.0,1186.7 663.5,1186.4 664.0,1186.3 664.5,1187.1 665.0,1187.7 665.5,1187.8 666.0,1187.9 666.5,1187.8 667.0,1187.2 667.5,1186.9 668.0,1187.4 668.5,1187.8 669.0,1187.5 669.5,1186.9 670.0,1186.9 670.5,1187.5 671.0,1187.9 671.5,1187.3 672.0,1186.9 672.5,1187.1 673.0,1186.8 673.5,1186.6 674.0,1186.9 674.5,1186.8 675.0,1187.1 675.5,1187.4 676.0,1188.3 676.5,1188.2 677.0,1187.4 677.5,1187.2 678.0,1186.4 678.5,1187.0 679.0,1188.2 679.5,1187.5 680.0,1186.9 680.5,1187.5 681.0,1187.6 681.5,1186.5 682.0,1186.8 682.5,1187.5 683.0,1187.4 683.5,1187.1 684.0,1187.2 684.5,1187.8 685.0,1187.3 685.5,1187.1 686.0,1187.2 686.5,1186.9 687.0,1186.8 687.5,1186.8 688.0,1186.9 688.5,1187.4 689.0,1187.5 689.5,1186.8 690.0,1187.3 690.5,1187.8 691.0,1187.7 691.5,1187.5 692.0,1187.4 692.5,1187.4 693.0,1186.9 693.5,1187.0 694.0,1187.3 694.5,1187.3 695.0,1187.5 695.5,1186.9 696.0,1186.8 696.5,1187.1 697.0,1186.9 697.5,1187.3 698.0,1187.4 698.5,1187.0 699.0,1187.2 699.5,1187.4 700.0,1187.5 700.5,1187.9 701.0,1187.5 701.5,1186.8 702.0,1186.9 702.5,1187.5 703.0,1187.6 703.5,1187.0 704.0,1186.4 704.5,1186.4 705.0,1186.7 705.5,1187.1 706.0,1187.4 706.5,1187.5 707.0,1187.5 707.5,1187.7 708.0,1187.8 708.5,1187.4 709.0,1187.3 709.5,1187.2 710.0,1187.7 710.5,1187.8 711.0,1187.9 711.5,1187.4 712.0,1187.2 712.5,1187.9 713.0,1187.8 713.5,1187.3 714.0,1187.1 714.5,1187.0 715.0,1187.1 715.5,1187.7 716.0,1187.8 716.5,1187.4 717.0,1187.0 717.5,1186.7 718.0,1187.6 718.5,1187.8 719.0,1187.1 719.5,1187.1 720.0,1187.1 720.5,1187.2 721.0,1187.1 721.5,1187.7 722.0,1187.5 722.5,1187.2 723.0,1187.4 723.5,1187.4 724.0,1187.2 724.5,1187.1 725.0,1187.1 725.5,1186.4 726.0,1186.3 726.5,1186.5 727.0,1186.6 727.5,1186.8 728.0,1187.5 728.5,1187.2 729.0,1187.0 729.5,1187.4 730.0,1187.0 730.5,1186.7 731.0,1187.1 731.5,1187.5 732.0,1187.2 732.5,1187.1 733.0,1187.2 733.5,1186.8 734.0,1186.8 734.5,1187.3 735.0,1187.8 735.5,1187.3 736.0,1186.6 736.5,1187.0 737.0,1187.0 737.5,1186.9 738.0,1187.1 738.5,1187.1 739.0,1187.1 739.5,1187.3 740.0,1186.8 740.5,1186.9 741.0,1186.7 741.5,1187.0 742.0,1188.0 742.5,1187.3 743.0,1187.3 743.5,1187.5 744.0,1187.3 744.5,1187.6 745.0,1187.5 745.5,1187.3 746.0,1187.4 746.5,1187.3 747.0,1187.0 747.5,1186.8 748.0,1186.4 748.5,1187.1 749.0,1187.9 749.5,1187.0 750.0,1186.9 750.5,1187.4 751.0,1186.6 751.5,1186.3 752.0,1186.9 752.5,1187.7 753.0,1188.1 753.5,1187.9 754.0,1187.7 754.5,1187.6 755.0,1187.2 755.5,1187.0 756.0,1187.6 756.5,1187.1 757.0,1186.9 757.5,1187.7 758.0,1188.3 758.5,1188.2 759.0,1187.4 759.5,1187.0 760.0,1187.0 760.5,1187.4 761.0,1187.3 761.5,1186.7 762.0,1186.4 762.5,1186.8 763.0,1187.4 763.5,1187.2 764.0,1186.8 764.5,1186.9 765.0,1187.6 765.5,1187.2 766.0,1186.8 766.5,1187.3 767.0,1187.4 767.5,1187.7 768.0,1187.9 768.5,1187.6 769.0,1187.8 769.5,1188.0 770.0,1187.7 770.5,1187.4 771.0,1186.9 771.5,1186.9 772.0,1187.0 772.5,1186.7 773.0,1186.8 773.5,1186.6 774.0,1186.4 774.5,1186.8 775.0,1187.2 775.5,1187.2 776.0,1187.2 776.5,1187.8 777.0,1187.9 777.5,1187.1 778.0,1186.3 778.5,1186.4 779.0,1186.7 779.5,1186.3 780.0,1186.1 780.5,1186.2 781.0,1186.5 781.5,1187.4 782.0,1188.1 782.5,1187.4 783.0,1186.7 783.5,1186.6 784.0,1186.3 784.5,1186.7 785.0,1187.2 785.5,1187.0 786.0,1187.2 786.5,1187.2 787.0,1187.4 787.5,1187.3 788.0,1187.3 788.5,1187.3 789.0,1187.1 789.5,1187.4 790.0,1186.9 790.5,1186.5 791.0,1186.9 791.5,1187.0 792.0,1187.1 792.5,1187.0 793.0,1186.5 793.5,1186.7 794.0,1187.2 794.5,1187.0 795.0,1187.3 795.5,1187.7 796.0,1187.6 796.5,1187.6 797.0,1187.1 797.5,1187.5 798.0,1187.6 798.5,1187.1 799.0,1187.5 799.5,1187.5 800.0,1187.3 800.5,1187.0 801.0,1186.8 801.5,1187.1 802.0,1187.6 802.5,1187.4 803.0,1187.2 803.5,1187.5 804.0,1187.4 804.5,1187.1 805.0,1187.0 805.5,1186.7 806.0,1186.7 806.5,1187.4 807.0,1187.2 807.5,1187.2 808.0,1187.5 808.5,1187.1 809.0,1187.3 809.5,1187.3 810.0,1187.8 810.5,1187.7 811.0,1186.7 811.5,1186.8 812.0,1187.1 812.5,1187.7 813.0,1187.6 813.5,1187.2 814.0,1187.7 814.5,1188.1 815.0,1187.5 815.5,1187.1 816.0,1186.8 816.5,1186.8 817.0,1187.8 817.5,1187.4 818.0,1186.5 818.5,1186.9 819.0,1186.6 819.5,1186.9 820.0,1187.2 820.5,1186.6 821.0,1187.0 821.5,1187.5 822.0,1187.7 822.5,1186.8 823.0,1186.1 823.5,1186.8 824.0,1186.6 824.5,1186.5 825.0,1186.9 825.5,1187.2 826.0,1187.8 826.5,1186.8 827.0,1186.6 827.5,1187.5 828.0,1187.2 828.5,1186.8 829.0,1186.7 829.5,1186.7 830.0,1187.2 830.5,1187.7 831.0,1188.0 831.5,1187.5 832.0,1186.8 832.5,1187.2 833.0,1186.7 833.5,1185.9 834.0,1187.0 834.5,1188.0 835.0,1187.6 835.5,1187.0 836.0,1186.9 836.5,1186.8 837.0,1187.1 837.5,1186.9 838.0,1187.1 838.5,1187.2 839.0,1187.3 839.5,1187.3 840.0,1186.8 840.5,1186.9 841.0,1187.5 841.5,1187.2 842.0,1187.4 842.5,1187.7 843.0,1187.2 843.5,1187.1 844.0,1187.1 844.5,1186.8 845.0,1187.2 845.5,1187.7 846.0,1187.3 846.5,1187.0 847.0,1187.1 847.5,1187.3 848.0,1187.8 848.5,1187.4 849.0,1187.1 849.5,1187.3 850.0,1187.4 850.5,1187.8 851.0,1187.4 851.5,1186.3 852.0,1186.5 852.5,1186.7 853.0,1187.2 853.5,1187.5 854.0,1186.9 854.5,1187.2 855.0,1187.3 855.5,1187.1 856.0,1187.1 856.5,1187.5 857.0,1187.4 857.5,1187.7 858.0,1187.9 858.5,1186.6 859.0,1186.8 859.5,1187.0 860.0,1186.8 860.5,1188.0 861.0,1188.2 861.5,1187.2 862.0,1186.6 862.5,1187.0 863.0,1187.7 863.5,1187.4 864.0,1187.3 864.5,1187.6 865.0,1187.3 865.5,1187.1 866.0,1187.7 866.5,1187.3 867.0,1186.4 867.5,1187.1 868.0,1187.8 868.5,1187.1 869.0,1186.5 869.5,1186.6 870.0,1187.0 870.5,1187.2 871.0,1187.4 871.5,1187.9 872.0,1187.5 872.5,1187.4 873.0,1187.4 873.5,1187.6 874.0,1187.5 874.5,1187.3 875.0,1187.5 875.5,1187.4 876.0,1187.5 876.5,1187.5 877.0,1186.9 877.5,1187.0 878.0,1187.8 878.5,1188.2 879.0,1187.2 879.5,1186.8 880.0,1187.2 880.5,1187.0 881.0,1187.0 881.5,1187.0 882.0,1187.0 882.5,1187.0 883.0,1187.2 883.5,1186.9 884.0,1186.5 884.5,1186.5 885.0,1186.5 885.5,1187.0 886.0,1187.0 886.5,1186.8 887.0,1187.2 887.5,1187.4 888.0,1187.4 888.5,1187.5 889.0,1187.5 889.5,1187.3 890.0,1187.5 890.5,1187.0 891.0,1186.9 891.5,1187.8 892.0,1187.7 892.5,1187.2 893.0,1187.7 893.5,1187.8 894.0,1187.6 894.5,1186.9 895.0,1186.5 895.5,1187.1 896.0,1187.2 896.5,1187.7 897.0,1187.5 897.5,1187.1 898.0,1186.3 898.5,1186.6 899.0,1187.8 899.5,1187.6 900.0,1187.1 900.5,1187.2 901.0,1187.6 901.5,1187.7 902.0,1188.0 902.5,1187.7 903.0,1186.6 903.5,1186.9 904.0,1187.7 904.5,1187.4 905.0,1187.1 905.5,1187.0 906.0,1186.6 906.5,1186.6 907.0,1186.4 907.5,1186.7 908.0,1187.4 908.5,1187.6 909.0,1187.2 909.5,1186.8 910.0,1186.5 910.5,1186.3 911.0,1187.0 911.5,1188.3 912.0,1187.7 912.5,1186.8 913.0,1187.4 913.5,1187.3 914.0,1187.2 914.5,1187.3 915.0,1187.0 915.5,1187.4 916.0,1187.4 916.5,1186.7 917.0,1187.1 917.5,1187.5 918.0,1187.0 918.5,1186.8 919.0,1187.1 919.5,1187.2 920.0,1187.0 920.5,1187.5 921.0,1187.5 921.5,1187.5 922.0,1187.1 922.5,1187.0 923.0,1187.5 923.5,1187.9 924.0,1187.8 924.5,1187.5 925.0,1187.4 925.5,1186.8 926.0,1186.6 926.5,1186.7" fill="none" stroke="#808080" stroke-width="2.3" stroke-linejoin="round"/>
<line x1="23.5" y1="1215.2" x2="927.4" y2="1215.2" stroke="#000" stroke-width="2"/><line x1="926.4" y1="752.5" x2="926.4" y2="1225.6" stroke="#000" stroke-width="2"/><line x1="24.5" y1="1215" x2="24.5" y2="1225.6" stroke="#000" stroke-width="2"/><text x="24.5" y="1257.8" text-anchor="middle" class="s" font-size="31.5">5</text><line x1="106.5" y1="1215" x2="106.5" y2="1225.6" stroke="#000" stroke-width="2"/><text x="106.5" y="1257.8" text-anchor="middle" class="s" font-size="31.5">10</text><line x1="188.5" y1="1215" x2="188.5" y2="1225.6" stroke="#000" stroke-width="2"/><text x="188.5" y="1257.8" text-anchor="middle" class="s" font-size="31.5">15</text><line x1="270.5" y1="1215" x2="270.5" y2="1225.6" stroke="#000" stroke-width="2"/><text x="270.5" y="1257.8" text-anchor="middle" class="s" font-size="31.5">20</text><line x1="352.5" y1="1215" x2="352.5" y2="1225.6" stroke="#000" stroke-width="2"/><text x="352.5" y="1257.8" text-anchor="middle" class="s" font-size="31.5">25</text><line x1="434.5" y1="1215" x2="434.5" y2="1225.6" stroke="#000" stroke-width="2"/><text x="434.5" y="1257.8" text-anchor="middle" class="s" font-size="31.5">30</text><line x1="516.5" y1="1215" x2="516.5" y2="1225.6" stroke="#000" stroke-width="2"/><text x="516.5" y="1257.8" text-anchor="middle" class="s" font-size="31.5">35</text><line x1="598.5" y1="1215" x2="598.5" y2="1225.6" stroke="#000" stroke-width="2"/><text x="598.5" y="1257.8" text-anchor="middle" class="s" font-size="31.5">40</text><line x1="680.5" y1="1215" x2="680.5" y2="1225.6" stroke="#000" stroke-width="2"/><text x="680.5" y="1257.8" text-anchor="middle" class="s" font-size="31.5">45</text><line x1="762.5" y1="1215" x2="762.5" y2="1225.6" stroke="#000" stroke-width="2"/><text x="762.5" y="1257.8" text-anchor="middle" class="s" font-size="31.5">50</text><line x1="844.5" y1="1215" x2="844.5" y2="1225.6" stroke="#000" stroke-width="2"/><text x="844.5" y="1257.8" text-anchor="middle" class="s" font-size="31.5">55</text><line x1="926.5" y1="1215" x2="926.5" y2="1225.6" stroke="#000" stroke-width="2"/><text x="926.5" y="1257.8" text-anchor="middle" class="s" font-size="31.5">60</text><line x1="65.5" y1="1215" x2="65.5" y2="1220.6" stroke="#000" stroke-width="2"/><line x1="147.5" y1="1215" x2="147.5" y2="1220.6" stroke="#000" stroke-width="2"/><line x1="229.5" y1="1215" x2="229.5" y2="1220.6" stroke="#000" stroke-width="2"/><line x1="311.5" y1="1215" x2="311.5" y2="1220.6" stroke="#000" stroke-width="2"/><line x1="393.5" y1="1215" x2="393.5" y2="1220.6" stroke="#000" stroke-width="2"/><line x1="475.5" y1="1215" x2="475.5" y2="1220.6" stroke="#000" stroke-width="2"/><line x1="557.5" y1="1215" x2="557.5" y2="1220.6" stroke="#000" stroke-width="2"/><line x1="639.5" y1="1215" x2="639.5" y2="1220.6" stroke="#000" stroke-width="2"/><line x1="721.5" y1="1215" x2="721.5" y2="1220.6" stroke="#000" stroke-width="2"/><line x1="803.5" y1="1215" x2="803.5" y2="1220.6" stroke="#000" stroke-width="2"/><line x1="885.5" y1="1215" x2="885.5" y2="1220.6" stroke="#000" stroke-width="2"/><text x="436" y="1308.4" class="s" font-size="31.5">2θ (°)</text><text transform="translate(973,1114) rotate(-90)" x="0" y="0" class="s" font-size="31.5">Intensity (arb. unit)</text>
<circle cx="798.8" cy="1011.8" r="6.5" fill="#BEBEBE"/><text x="842" y="1023.2" class="s" font-size="31.5">Sim.</text><line x1="781.2" y1="1050.4" x2="816.8" y2="1050.4" stroke="#2473BA" stroke-width="2.8"/><text x="842" y="1061" class="s" font-size="31.5">Exp.</text><line x1="781.2" y1="1089" x2="816.8" y2="1089" stroke="#808080" stroke-width="2.2"/><text x="842" y="1100" class="s" font-size="31.5">Diff.</text>
<line x1="672.6" y1="1029" x2="670.7" y2="1074" stroke="#000" stroke-width="3.4"/><circle cx="670.2" cy="1073.6" r="9.1" fill="none" stroke="#000" stroke-width="3.4"/><line x1="670.5" y1="1074.9" x2="716" y2="1074.9" stroke="#000" stroke-width="3.5"/><text x="686.3" y="1029.3" class="s" font-size="30.5">c</text><text x="723.2" y="1094.7" class="s" font-size="30">b</text>
<text x="967.3" y="765.8" class="sb" font-size="39">d</text>
<defs>
<linearGradient id="fr" gradientUnits="userSpaceOnUse" x1="1200" y1="900" x2="1228.66" y2="895.57" spreadMethod="repeat">
<stop offset="0" stop-color="#545454"/><stop offset="0.25" stop-color="#6A6A6A"/><stop offset="0.5" stop-color="#959595"/><stop offset="0.75" stop-color="#6A6A6A"/><stop offset="1" stop-color="#545454"/></linearGradient>
<filter id="nz" x="0" y="0" width="100%" height="100%" color-interpolation-filters="sRGB">
<feTurbulence type="fractalNoise" baseFrequency="0.7" numOctaves="2" seed="4" result="t"/>
<feColorMatrix type="matrix" values="0 0 0 0 0  0 0 0 0 0  0 0 0 0 0  5 0 0 0 -2.75" result="a"/>
<feFlood flood-color="#ffffff"/><feComposite in2="a" operator="in"/></filter>
<filter id="nz2" x="0" y="0" width="100%" height="100%" color-interpolation-filters="sRGB">
<feTurbulence type="fractalNoise" baseFrequency="0.7" numOctaves="2" seed="9" result="t"/>
<feColorMatrix type="matrix" values="0 0 0 0 0  0 0 0 0 0  0 0 0 0 0  4 0 0 0 -2.0" result="a"/>
<feFlood flood-color="#000000"/><feComposite in2="a" operator="in"/></filter>
<filter id="blob" x="0" y="0" width="100%" height="100%" color-interpolation-filters="sRGB">
<feTurbulence type="fractalNoise" baseFrequency="0.045 0.02" numOctaves="2" seed="2" result="t"/>
<feColorMatrix type="matrix" values="0 0 0 0 0  0 0 0 0 0  0 0 0 0 0  -1.6 0 0 0 0.95"/></filter>
<filter id="blob2" x="0" y="0" width="100%" height="100%" color-interpolation-filters="sRGB">
<feTurbulence type="fractalNoise" baseFrequency="0.05 0.025" numOctaves="2" seed="11" result="t"/>
<feColorMatrix type="matrix" values="0 0 0 0 1  0 0 0 0 1  0 0 0 0 1  -1.6 0 0 0 0.95"/></filter>
<clipPath id="temclip"><rect x="1005" y="724" width="494" height="532.5"/></clipPath>
</defs>
<defs><filter id="sb" x="-5%" y="-5%" width="110%" height="110%"><feGaussianBlur stdDeviation="4.2"/></filter><filter id="sb2" x="-5%" y="-5%" width="110%" height="110%"><feTurbulence type="fractalNoise" baseFrequency="0.08" numOctaves="1" seed="3" result="t"/><feDisplacementMap in="SourceGraphic" in2="t" scale="14" xChannelSelector="R" yChannelSelector="G"/><feGaussianBlur stdDeviation="3.2"/></filter></defs>
<g clip-path="url(#temclip)">
<rect x="1005" y="724" width="494" height="532.5" fill="#7E7E7E"/>
<defs><radialGradient id="smg" gradientUnits="userSpaceOnUse" cx="1250" cy="930" r="300" fx="1250" fy="930" gradientTransform="translate(1250 930) scale(1 1.1) translate(-1250 -930)"><stop offset="0" stop-color="#fff"/><stop offset="0.45" stop-color="#f4f4f4"/><stop offset="0.8" stop-color="#a0a0a0"/><stop offset="1" stop-color="#808080"/></radialGradient><mask id="smask" maskUnits="userSpaceOnUse" x="1005" y="724" width="494" height="532.5"><rect x="1005" y="724" width="494" height="532.5" fill="url(#smg)"/></mask></defs>
<g mask="url(#smask)"><g stroke="#161616" fill="none" stroke-linecap="round" filter="url(#sb2)"><path d="M577.3,708.0 L580.2,714.0 L583.1,720.0 L586.1,726.0 L589.0,732.0 L592.0,738.0 L595.0,744.0 L598.1,750.0 L601.2,756.0 L604.3,762.0 L607.4,768.0 L610.6,774.0 L613.9,780.0 L617.2,786.0 L620.6,792.0 L624.0,798.0 L627.5,804.0 L631.1,810.0 L634.7,816.0 L638.3,822.0 L642.1,828.0 L645.9,834.0 L649.7,840.0 L653.6,846.0 L657.5,852.0 L661.4,858.0 L665.4,864.0 L669.5,870.0 L673.5,876.0 L677.5,882.0 L681.6,888.0 L685.6,894.0 L689.7,900.0 L693.7,906.0 L697.6,912.0 L701.6,918.0 L705.5,924.0 L709.4,930.0 L713.2,936.0 L717.0,942.0 L720.7,948.0 L724.3,954.0 L727.9,960.0 L731.5,966.0 L734.9,972.0 L738.3,978.0 L741.7,984.0 L745.0,990.0 L748.3,996.0 L751.6,1002.0 L754.7,1008.0 L757.9,1014.0 L761.0,1020.0 L764.1,1026.0 L767.1,1032.0 L770.1,1038.0 L773.1,1044.0 L776.0,1050.0 L779.0,1056.0 L781.9,1062.0 L784.8,1068.0 L787.8,1074.0 L790.7,1080.0 L793.6,1086.0 L796.6,1092.0 L799.6,1098.0 L802.6,1104.0 L805.6,1110.0 L808.7,1116.0 L811.8,1122.0 L815.0,1128.0 L818.2,1134.0 L821.5,1140.0 L824.8,1146.0 L828.2,1152.0 L831.6,1158.0 L835.1,1164.0 L838.6,1170.0 L842.2,1176.0 L845.9,1182.0 L849.6,1188.0 L853.4,1194.0 L857.2,1200.0 L861.1,1206.0 L865.0,1212.0 L869.0,1218.0 L873.0,1224.0 L877.0,1230.0 L881.0,1236.0 L885.1,1242.0 L889.1,1248.0 L893.2,1254.0 L897.2,1260.0 L901.2,1266.0 L905.2,1272.0 L909.1,1278.0" stroke-width="11.6" stroke-dasharray="33 7 39 7 38 3 26 8 31 8 17 5 20 6 29 3 20 4 38 7 18 7 18 6" stroke-dashoffset="4"/><path d="M601.4,708.0 L604.4,714.0 L607.3,720.0 L610.3,726.0 L613.3,732.0 L616.4,738.0 L619.5,744.0 L622.6,750.0 L625.7,756.0 L629.0,762.0 L632.2,768.0 L635.6,774.0 L638.9,780.0 L642.4,786.0 L645.9,792.0 L649.4,798.0 L653.1,804.0 L656.7,810.0 L660.5,816.0 L664.3,822.0 L668.1,828.0 L672.0,834.0 L675.9,840.0 L679.9,846.0 L683.9,852.0 L687.9,858.0 L691.9,864.0 L696.0,870.0 L700.0,876.0 L704.1,882.0 L708.1,888.0 L712.1,894.0 L716.1,900.0 L720.0,906.0 L723.9,912.0 L727.8,918.0 L731.6,924.0 L735.4,930.0 L739.1,936.0 L742.7,942.0 L746.3,948.0 L749.8,954.0 L753.3,960.0 L756.7,966.0 L760.0,972.0 L763.3,978.0 L766.6,984.0 L769.8,990.0 L773.0,996.0 L776.1,1002.0 L779.2,1008.0 L782.3,1014.0 L785.3,1020.0 L788.3,1026.0 L791.3,1032.0 L794.2,1038.0 L797.1,1044.0 L800.1,1050.0 L803.0,1056.0 L805.9,1062.0 L808.9,1068.0 L811.8,1074.0 L814.8,1080.0 L817.8,1086.0 L820.8,1092.0 L823.8,1098.0 L826.9,1104.0 L830.0,1110.0 L833.2,1116.0 L836.4,1122.0 L839.7,1128.0 L843.0,1134.0 L846.4,1140.0 L849.8,1146.0 L853.3,1152.0 L856.9,1158.0 L860.5,1164.0 L864.2,1170.0 L867.9,1176.0 L871.7,1182.0 L875.5,1188.0 L879.4,1194.0 L883.3,1200.0 L887.3,1206.0 L891.3,1212.0 L895.3,1218.0 L899.4,1224.0 L903.4,1230.0 L907.4,1236.0 L911.5,1242.0 L915.5,1248.0 L919.5,1254.0 L923.5,1260.0 L927.5,1266.0 L931.4,1272.0 L935.2,1278.0" stroke-width="12.4" stroke-dasharray="19 4 40 7 22 8 28 6 19 8 32 8 37 4 23 4 18 3 22 6 14 6 23 5" stroke-dashoffset="25"/><path d="M628.4,708.0 L631.4,714.0 L634.5,720.0 L637.5,726.0 L640.6,732.0 L643.8,738.0 L647.0,744.0 L650.2,750.0 L653.5,756.0 L656.8,762.0 L660.2,768.0 L663.7,774.0 L667.2,780.0 L670.8,786.0 L674.5,792.0 L678.2,798.0 L681.9,804.0 L685.7,810.0 L689.6,816.0 L693.5,822.0 L697.4,828.0 L701.4,834.0 L705.4,840.0 L709.5,846.0 L713.5,852.0 L717.5,858.0 L721.6,864.0 L725.6,870.0 L729.6,876.0 L733.6,882.0 L737.6,888.0 L741.5,894.0 L745.4,900.0 L749.3,906.0 L753.0,912.0 L756.8,918.0 L760.5,924.0 L764.1,930.0 L767.6,936.0 L771.1,942.0 L774.6,948.0 L778.0,954.0 L781.3,960.0 L784.6,966.0 L787.8,972.0 L790.9,978.0 L794.1,984.0 L797.2,990.0 L800.2,996.0 L803.3,1002.0 L806.3,1008.0 L809.3,1014.0 L812.3,1020.0 L815.2,1026.0 L818.1,1032.0 L821.1,1038.0 L824.0,1044.0 L826.9,1050.0 L829.9,1056.0 L832.8,1062.0 L835.8,1068.0 L838.8,1074.0 L841.8,1080.0 L844.9,1086.0 L848.0,1092.0 L851.1,1098.0 L854.3,1104.0 L857.5,1110.0 L860.8,1116.0 L864.2,1122.0 L867.6,1128.0 L871.0,1134.0 L874.6,1140.0 L878.1,1146.0 L881.8,1152.0 L885.5,1158.0 L889.2,1164.0 L893.0,1170.0 L896.9,1176.0 L900.8,1182.0 L904.7,1188.0 L908.7,1194.0 L912.7,1200.0 L916.8,1206.0 L920.8,1212.0 L924.8,1218.0 L928.9,1224.0 L932.9,1230.0 L936.9,1236.0 L940.9,1242.0 L944.9,1248.0 L948.8,1254.0 L952.7,1260.0 L956.6,1266.0 L960.4,1272.0 L964.1,1278.0" stroke-width="10.6" stroke-dasharray="27 7 15 8 15 7 36 3 34 5 29 3 15 4 39 4 34 8 38 5 23 6 34 4" stroke-dashoffset="22"/><path d="M657.6,708.0 L660.7,714.0 L663.8,720.0 L666.9,726.0 L670.2,732.0 L673.4,738.0 L676.8,744.0 L680.1,750.0 L683.6,756.0 L687.1,762.0 L690.6,768.0 L694.3,774.0 L697.9,780.0 L701.7,786.0 L705.5,792.0 L709.3,798.0 L713.2,804.0 L717.1,810.0 L721.1,816.0 L725.1,822.0 L729.1,828.0 L733.1,834.0 L737.2,840.0 L741.2,846.0 L745.3,852.0 L749.3,858.0 L753.3,864.0 L757.3,870.0 L761.2,876.0 L765.1,882.0 L769.0,888.0 L772.8,894.0 L776.6,900.0 L780.3,906.0 L783.9,912.0 L787.5,918.0 L791.0,924.0 L794.5,930.0 L797.9,936.0 L801.2,942.0 L804.5,948.0 L807.8,954.0 L811.0,960.0 L814.1,966.0 L817.2,972.0 L820.3,978.0 L823.3,984.0 L826.3,990.0 L829.3,996.0 L832.3,1002.0 L835.2,1008.0 L838.2,1014.0 L841.1,1020.0 L844.0,1026.0 L846.9,1032.0 L849.9,1038.0 L852.8,1044.0 L855.8,1050.0 L858.8,1056.0 L861.8,1062.0 L864.8,1068.0 L867.9,1074.0 L871.0,1080.0 L874.2,1086.0 L877.4,1092.0 L880.7,1098.0 L884.0,1104.0 L887.4,1110.0 L890.8,1116.0 L894.3,1122.0 L897.9,1128.0 L901.5,1134.0 L905.2,1140.0 L908.9,1146.0 L912.7,1152.0 L916.5,1158.0 L920.4,1164.0 L924.3,1170.0 L928.3,1176.0 L932.3,1182.0 L936.3,1188.0 L940.3,1194.0 L944.4,1200.0 L948.4,1206.0 L952.5,1212.0 L956.5,1218.0 L960.5,1224.0 L964.5,1230.0 L968.4,1236.0 L972.3,1242.0 L976.2,1248.0 L980.0,1254.0 L983.8,1260.0 L987.5,1266.0 L991.1,1272.0 L994.7,1278.0" stroke-width="12.4" stroke-dasharray="15 8 16 5 30 8 23 8 28 5 22 4 16 4 32 8 18 3 40 6 25 4 29 7" stroke-dashoffset="14"/><path d="M685.0,708.0 L688.2,714.0 L691.4,720.0 L694.7,726.0 L698.1,732.0 L701.5,738.0 L704.9,744.0 L708.5,750.0 L712.0,756.0 L715.7,762.0 L719.4,768.0 L723.2,774.0 L727.0,780.0 L730.8,786.0 L734.7,792.0 L738.7,798.0 L742.7,804.0 L746.7,810.0 L750.7,816.0 L754.7,822.0 L758.8,828.0 L762.8,834.0 L766.9,840.0 L770.9,846.0 L774.9,852.0 L778.8,858.0 L782.8,864.0 L786.7,870.0 L790.5,876.0 L794.3,882.0 L798.0,888.0 L801.7,894.0 L805.3,900.0 L808.9,906.0 L812.4,912.0 L815.8,918.0 L819.2,924.0 L822.5,930.0 L825.8,936.0 L829.0,942.0 L832.2,948.0 L835.3,954.0 L838.4,960.0 L841.4,966.0 L844.5,972.0 L847.4,978.0 L850.4,984.0 L853.4,990.0 L856.3,996.0 L859.2,1002.0 L862.2,1008.0 L865.1,1014.0 L868.0,1020.0 L871.0,1026.0 L873.9,1032.0 L876.9,1038.0 L879.9,1044.0 L882.9,1050.0 L886.0,1056.0 L889.1,1062.0 L892.2,1068.0 L895.4,1074.0 L898.6,1080.0 L901.9,1086.0 L905.3,1092.0 L908.7,1098.0 L912.1,1104.0 L915.7,1110.0 L919.2,1116.0 L922.9,1122.0 L926.6,1128.0 L930.3,1134.0 L934.1,1140.0 L938.0,1146.0 L941.9,1152.0 L945.8,1158.0 L949.8,1164.0 L953.8,1170.0 L957.8,1176.0 L961.9,1182.0 L965.9,1188.0 L970.0,1194.0 L974.0,1200.0 L978.0,1206.0 L982.0,1212.0 L986.0,1218.0 L989.9,1224.0 L993.8,1230.0 L997.7,1236.0 L1001.5,1242.0 L1005.2,1248.0 L1008.9,1254.0 L1012.5,1260.0 L1016.1,1266.0 L1019.6,1272.0 L1023.0,1278.0" stroke-width="9.8" stroke-dasharray="38 3 27 7 17 7 39 6 34 4 25 4 36 4 26 8 36 8 26 5 33 5 22 5" stroke-dashoffset="4"/><path d="M712.5,708.0 L715.8,714.0 L719.2,720.0 L722.6,726.0 L726.1,732.0 L729.7,738.0 L733.3,744.0 L737.0,750.0 L740.7,756.0 L744.5,762.0 L748.3,768.0 L752.2,774.0 L756.1,780.0 L760.1,786.0 L764.0,792.0 L768.1,798.0 L772.1,804.0 L776.1,810.0 L780.2,816.0 L784.2,822.0 L788.3,828.0 L792.3,834.0 L796.3,840.0 L800.2,846.0 L804.1,852.0 L808.0,858.0 L811.8,864.0 L815.6,870.0 L819.3,876.0 L822.9,882.0 L826.5,888.0 L830.1,894.0 L833.5,900.0 L837.0,906.0 L840.3,912.0 L843.6,918.0 L846.9,924.0 L850.1,930.0 L853.2,936.0 L856.3,942.0 L859.4,948.0 L862.4,954.0 L865.4,960.0 L868.4,966.0 L871.4,972.0 L874.3,978.0 L877.3,984.0 L880.2,990.0 L883.1,996.0 L886.0,1002.0 L889.0,1008.0 L891.9,1014.0 L894.9,1020.0 L897.9,1026.0 L900.9,1032.0 L903.9,1038.0 L907.0,1044.0 L910.1,1050.0 L913.3,1056.0 L916.5,1062.0 L919.7,1068.0 L923.0,1074.0 L926.4,1080.0 L929.8,1086.0 L933.3,1092.0 L936.8,1098.0 L940.5,1104.0 L944.1,1110.0 L947.8,1116.0 L951.6,1122.0 L955.4,1128.0 L959.3,1134.0 L963.2,1140.0 L967.2,1146.0 L971.2,1152.0 L975.2,1158.0 L979.2,1164.0 L983.3,1170.0 L987.3,1176.0 L991.4,1182.0 L995.4,1188.0 L999.4,1194.0 L1003.4,1200.0 L1007.3,1206.0 L1011.3,1212.0 L1015.1,1218.0 L1019.0,1224.0 L1022.7,1230.0 L1026.4,1236.0 L1030.1,1242.0 L1033.7,1248.0 L1037.2,1254.0 L1040.7,1260.0 L1044.1,1266.0 L1047.5,1272.0 L1050.8,1278.0" stroke-width="12.8" stroke-dasharray="39 6 27 5 16 4 34 7 23 7 34 6 31 7 23 7 21 5 34 6 22 8 31 6" stroke-dashoffset="0"/><path d="M741.3,708.0 L744.8,714.0 L748.3,720.0 L751.9,726.0 L755.5,732.0 L759.2,738.0 L763.0,744.0 L766.8,750.0 L770.6,756.0 L774.5,762.0 L778.5,768.0 L782.5,774.0 L786.5,780.0 L790.5,786.0 L794.5,792.0 L798.6,798.0 L802.6,804.0 L806.7,810.0 L810.7,816.0 L814.7,822.0 L818.6,828.0 L822.6,834.0 L826.5,840.0 L830.3,846.0 L834.1,852.0 L837.8,858.0 L841.5,864.0 L845.2,870.0 L848.7,876.0 L852.2,882.0 L855.7,888.0 L859.1,894.0 L862.4,900.0 L865.7,906.0 L868.9,912.0 L872.1,918.0 L875.2,924.0 L878.3,930.0 L881.4,936.0 L884.4,942.0 L887.4,948.0 L890.3,954.0 L893.3,960.0 L896.2,966.0 L899.1,972.0 L902.1,978.0 L905.0,984.0 L907.9,990.0 L910.9,996.0 L913.8,1002.0 L916.8,1008.0 L919.8,1014.0 L922.8,1020.0 L925.9,1026.0 L929.0,1032.0 L932.1,1038.0 L935.3,1044.0 L938.5,1050.0 L941.8,1056.0 L945.1,1062.0 L948.5,1068.0 L952.0,1074.0 L955.5,1080.0 L959.1,1086.0 L962.7,1092.0 L966.4,1098.0 L970.1,1104.0 L973.9,1110.0 L977.8,1116.0 L981.7,1122.0 L985.6,1128.0 L989.6,1134.0 L993.6,1140.0 L997.6,1146.0 L1001.7,1152.0 L1005.7,1158.0 L1009.8,1164.0 L1013.8,1170.0 L1017.8,1176.0 L1021.8,1182.0 L1025.8,1188.0 L1029.7,1194.0 L1033.6,1200.0 L1037.5,1206.0 L1041.3,1212.0 L1045.0,1218.0 L1048.7,1224.0 L1052.3,1230.0 L1055.9,1236.0 L1059.4,1242.0 L1062.9,1248.0 L1066.3,1254.0 L1069.6,1260.0 L1072.8,1266.0 L1076.0,1272.0 L1079.1,1278.0" stroke-width="10.4" stroke-dasharray="31 5 35 6 35 5 31 7 36 5 36 7 32 8 39 6 28 4 36 8 26 6 33 7" stroke-dashoffset="5"/><path d="M771.8,708.0 L775.4,714.0 L779.1,720.0 L782.8,726.0 L786.6,732.0 L790.4,738.0 L794.3,744.0 L798.2,750.0 L802.2,756.0 L806.2,762.0 L810.2,768.0 L814.2,774.0 L818.3,780.0 L822.3,786.0 L826.4,792.0 L830.4,798.0 L834.4,804.0 L838.4,810.0 L842.3,816.0 L846.2,822.0 L850.1,828.0 L853.9,834.0 L857.7,840.0 L861.4,846.0 L865.0,852.0 L868.6,858.0 L872.2,864.0 L875.6,870.0 L879.0,876.0 L882.4,882.0 L885.7,888.0 L888.9,894.0 L892.1,900.0 L895.3,906.0 L898.4,912.0 L901.5,918.0 L904.5,924.0 L907.5,930.0 L910.5,936.0 L913.4,942.0 L916.4,948.0 L919.3,954.0 L922.2,960.0 L925.2,966.0 L928.1,972.0 L931.0,978.0 L934.0,984.0 L937.0,990.0 L940.0,996.0 L943.0,1002.0 L946.0,1008.0 L949.1,1014.0 L952.2,1020.0 L955.4,1026.0 L958.6,1032.0 L961.8,1038.0 L965.2,1044.0 L968.5,1050.0 L972.0,1056.0 L975.5,1062.0 L979.0,1068.0 L982.6,1074.0 L986.3,1080.0 L990.0,1086.0 L993.8,1092.0 L997.6,1098.0 L1001.5,1104.0 L1005.4,1110.0 L1009.4,1116.0 L1013.4,1122.0 L1017.4,1128.0 L1021.4,1134.0 L1025.5,1140.0 L1029.5,1146.0 L1033.5,1152.0 L1037.6,1158.0 L1041.6,1164.0 L1045.6,1170.0 L1049.5,1176.0 L1053.4,1182.0 L1057.3,1188.0 L1061.1,1194.0 L1064.9,1200.0 L1068.6,1206.0 L1072.2,1212.0 L1075.8,1218.0 L1079.2,1224.0 L1082.6,1230.0 L1085.9,1236.0 L1089.1,1242.0 L1092.2,1248.0 L1095.2,1254.0 L1098.0,1260.0 L1100.9,1266.0 L1103.6,1272.0 L1106.2,1278.0" stroke-width="11.5" stroke-dasharray="31 5 30 7 31 7 15 4 25 6 20 6 30 3 26 4 15 4 22 4 19 3 26 5" stroke-dashoffset="18"/><path d="M801.3,708.0 L805.1,714.0 L808.9,720.0 L812.7,726.0 L816.6,732.0 L820.6,738.0 L824.6,744.0 L828.6,750.0 L832.6,756.0 L836.6,762.0 L840.7,768.0 L844.7,774.0 L848.8,780.0 L852.8,786.0 L856.8,792.0 L860.7,798.0 L864.7,804.0 L868.6,810.0 L872.4,816.0 L876.2,822.0 L879.9,828.0 L883.6,834.0 L887.2,840.0 L890.8,846.0 L894.3,852.0 L897.7,858.0 L901.1,864.0 L904.5,870.0 L907.7,876.0 L911.0,882.0 L914.1,888.0 L917.3,894.0 L920.3,900.0 L923.4,906.0 L926.4,912.0 L929.4,918.0 L932.4,924.0 L935.3,930.0 L938.3,936.0 L941.2,942.0 L944.1,948.0 L947.0,954.0 L950.0,960.0 L952.9,966.0 L955.9,972.0 L958.9,978.0 L961.9,984.0 L965.0,990.0 L968.0,996.0 L971.1,1002.0 L974.3,1008.0 L977.5,1014.0 L980.7,1020.0 L984.0,1026.0 L987.3,1032.0 L990.7,1038.0 L994.2,1044.0 L997.7,1050.0 L1001.3,1056.0 L1004.9,1062.0 L1008.6,1068.0 L1012.4,1074.0 L1016.2,1080.0 L1020.0,1086.0 L1023.9,1092.0 L1027.9,1098.0 L1031.8,1104.0 L1035.8,1110.0 L1039.9,1116.0 L1043.9,1122.0 L1048.0,1128.0 L1052.0,1134.0 L1056.0,1140.0 L1060.1,1146.0 L1064.1,1152.0 L1068.0,1158.0 L1071.9,1164.0 L1075.8,1170.0 L1079.6,1176.0 L1083.2,1182.0 L1086.8,1188.0 L1090.3,1194.0 L1093.7,1200.0 L1097.0,1206.0 L1100.1,1212.0 L1103.2,1218.0 L1106.1,1224.0 L1109.0,1230.0 L1111.7,1236.0 L1114.3,1242.0 L1116.9,1248.0 L1119.3,1254.0 L1121.7,1260.0 L1124.0,1266.0 L1126.2,1272.0 L1128.3,1278.0" stroke-width="10.4" stroke-dasharray="37 3 25 4 25 4 36 5 15 6 16 6 23 6 39 7 25 7 31 5 18 6 29 8" stroke-dashoffset="29"/><path d="M831.1,708.0 L834.9,714.0 L838.9,720.0 L842.8,726.0 L846.8,732.0 L850.8,738.0 L854.9,744.0 L858.9,750.0 L863.0,756.0 L867.0,762.0 L871.0,768.0 L875.0,774.0 L879.0,780.0 L883.0,786.0 L886.9,792.0 L890.7,798.0 L894.6,804.0 L898.3,810.0 L902.0,816.0 L905.7,822.0 L909.3,828.0 L912.8,834.0 L916.3,840.0 L919.7,846.0 L923.1,852.0 L926.4,858.0 L929.6,864.0 L932.8,870.0 L936.0,876.0 L939.1,882.0 L942.2,888.0 L945.2,894.0 L948.2,900.0 L951.2,906.0 L954.1,912.0 L957.1,918.0 L960.0,924.0 L962.9,930.0 L965.9,936.0 L968.8,942.0 L971.7,948.0 L974.7,954.0 L977.7,960.0 L980.7,966.0 L983.7,972.0 L986.8,978.0 L989.9,984.0 L993.1,990.0 L996.2,996.0 L999.4,1002.0 L1002.7,1008.0 L1006.0,1014.0 L1009.4,1020.0 L1012.8,1026.0 L1016.3,1032.0 L1019.9,1038.0 L1023.5,1044.0 L1027.1,1050.0 L1030.8,1056.0 L1034.6,1062.0 L1038.5,1068.0 L1042.3,1074.0 L1046.2,1080.0 L1050.2,1086.0 L1054.2,1092.0 L1058.2,1098.0 L1062.2,1104.0 L1066.3,1110.0 L1070.3,1116.0 L1074.3,1122.0 L1078.3,1128.0 L1082.2,1134.0 L1086.0,1140.0 L1089.8,1146.0 L1093.5,1152.0 L1097.0,1158.0 L1100.5,1164.0 L1103.8,1170.0 L1107.1,1176.0 L1110.2,1182.0 L1113.2,1188.0 L1116.1,1194.0 L1118.9,1200.0 L1121.6,1206.0 L1124.1,1212.0 L1126.6,1218.0 L1129.0,1224.0 L1131.3,1230.0 L1133.4,1236.0 L1135.5,1242.0 L1137.6,1248.0 L1139.5,1254.0 L1141.4,1260.0 L1143.2,1266.0 L1145.0,1272.0 L1146.7,1278.0" stroke-width="10.7" stroke-dasharray="37 3 17 6 30 4 30 7 24 5 20 4 39 5 39 8 29 4 40 5 25 5 40 5" stroke-dashoffset="9"/><path d="M860.0,708.0 L864.0,714.0 L868.0,720.0 L872.0,726.0 L876.0,732.0 L880.1,738.0 L884.1,744.0 L888.2,750.0 L892.2,756.0 L896.2,762.0 L900.2,768.0 L904.1,774.0 L908.0,780.0 L911.9,786.0 L915.7,792.0 L919.4,798.0 L923.1,804.0 L926.7,810.0 L930.3,816.0 L933.8,822.0 L937.3,828.0 L940.6,834.0 L944.0,840.0 L947.3,846.0 L950.5,852.0 L953.7,858.0 L956.8,864.0 L959.9,870.0 L963.0,876.0 L966.0,882.0 L969.0,888.0 L971.9,894.0 L974.9,900.0 L977.8,906.0 L980.8,912.0 L983.7,918.0 L986.6,924.0 L989.6,930.0 L992.5,936.0 L995.5,942.0 L998.5,948.0 L1001.5,954.0 L1004.5,960.0 L1007.6,966.0 L1010.8,972.0 L1013.9,978.0 L1017.2,984.0 L1020.4,990.0 L1023.7,996.0 L1027.1,1002.0 L1030.5,1008.0 L1033.9,1014.0 L1037.4,1020.0 L1041.0,1026.0 L1044.6,1032.0 L1048.3,1038.0 L1052.1,1044.0 L1055.8,1050.0 L1059.7,1056.0 L1063.6,1062.0 L1067.5,1068.0 L1071.5,1074.0 L1075.4,1080.0 L1079.4,1086.0 L1083.3,1092.0 L1087.2,1098.0 L1091.0,1104.0 L1094.8,1110.0 L1098.5,1116.0 L1102.1,1122.0 L1105.6,1128.0 L1109.0,1134.0 L1112.3,1140.0 L1115.5,1146.0 L1118.6,1152.0 L1121.6,1158.0 L1124.4,1164.0 L1127.2,1170.0 L1129.8,1176.0 L1132.4,1182.0 L1134.8,1188.0 L1137.1,1194.0 L1139.4,1200.0 L1141.5,1206.0 L1143.6,1212.0 L1145.5,1218.0 L1147.4,1224.0 L1149.2,1230.0 L1151.0,1236.0 L1152.6,1242.0 L1154.2,1248.0 L1155.8,1254.0 L1157.3,1260.0 L1158.8,1266.0 L1160.2,1272.0 L1161.5,1278.0" stroke-width="10.0" stroke-dasharray="30 5 22 7 35 3 28 4 38 7 20 4 18 8 22 6 26 6 30 7 17 7 22 6" stroke-dashoffset="10"/><path d="M887.8,708.0 L891.8,714.0 L895.9,720.0 L899.9,726.0 L904.0,732.0 L908.0,738.0 L912.0,744.0 L916.0,750.0 L920.0,756.0 L923.9,762.0 L927.8,768.0 L931.6,774.0 L935.4,780.0 L939.1,786.0 L942.8,792.0 L946.4,798.0 L950.0,804.0 L953.5,810.0 L956.9,816.0 L960.3,822.0 L963.6,828.0 L966.9,834.0 L970.1,840.0 L973.3,846.0 L976.4,852.0 L979.5,858.0 L982.5,864.0 L985.5,870.0 L988.5,876.0 L991.5,882.0 L994.4,888.0 L997.4,894.0 L1000.3,900.0 L1003.2,906.0 L1006.1,912.0 L1009.1,918.0 L1012.0,924.0 L1015.0,930.0 L1018.0,936.0 L1021.0,942.0 L1024.1,948.0 L1027.2,954.0 L1030.3,960.0 L1033.5,966.0 L1036.8,972.0 L1040.1,978.0 L1043.4,984.0 L1046.8,990.0 L1050.2,996.0 L1053.7,1002.0 L1057.2,1008.0 L1060.8,1014.0 L1064.5,1020.0 L1068.2,1026.0 L1071.9,1032.0 L1075.7,1038.0 L1079.5,1044.0 L1083.3,1050.0 L1087.0,1056.0 L1090.8,1062.0 L1094.5,1068.0 L1098.2,1074.0 L1101.9,1080.0 L1105.5,1086.0 L1109.0,1092.0 L1112.4,1098.0 L1115.7,1104.0 L1119.0,1110.0 L1122.1,1116.0 L1125.2,1122.0 L1128.1,1128.0 L1131.0,1134.0 L1133.7,1140.0 L1136.4,1146.0 L1138.9,1152.0 L1141.3,1158.0 L1143.7,1164.0 L1145.9,1170.0 L1148.1,1176.0 L1150.1,1182.0 L1152.1,1188.0 L1154.0,1194.0 L1155.8,1200.0 L1157.5,1206.0 L1159.2,1212.0 L1160.7,1218.0 L1162.3,1224.0 L1163.7,1230.0 L1165.1,1236.0 L1166.5,1242.0 L1167.8,1248.0 L1169.0,1254.0 L1170.3,1260.0 L1171.4,1266.0 L1172.6,1272.0 L1173.7,1278.0" stroke-width="11.3" stroke-dasharray="26 5 33 6 15 4 26 8 37 6 14 7 25 6 32 6 27 8 24 5 36 4 22 7" stroke-dashoffset="2"/><path d="M918.6,708.0 L922.7,714.0 L926.7,720.0 L930.7,726.0 L934.7,732.0 L938.7,738.0 L942.7,744.0 L946.6,750.0 L950.4,756.0 L954.2,762.0 L958.0,768.0 L961.7,774.0 L965.3,780.0 L968.9,786.0 L972.5,792.0 L975.9,798.0 L979.3,804.0 L982.7,810.0 L986.0,816.0 L989.2,822.0 L992.4,828.0 L995.5,834.0 L998.6,840.0 L1001.7,846.0 L1004.7,852.0 L1007.7,858.0 L1010.7,864.0 L1013.7,870.0 L1016.6,876.0 L1019.5,882.0 L1022.5,888.0 L1025.4,894.0 L1028.3,900.0 L1031.3,906.0 L1034.2,912.0 L1037.2,918.0 L1040.2,924.0 L1043.3,930.0 L1046.4,936.0 L1049.5,942.0 L1052.7,948.0 L1055.9,954.0 L1059.1,960.0 L1062.5,966.0 L1065.8,972.0 L1069.2,978.0 L1072.7,984.0 L1076.2,990.0 L1079.7,996.0 L1083.2,1002.0 L1086.7,1008.0 L1090.2,1014.0 L1093.8,1020.0 L1097.3,1026.0 L1100.8,1032.0 L1104.3,1038.0 L1107.7,1044.0 L1111.1,1050.0 L1114.5,1056.0 L1117.8,1062.0 L1121.0,1068.0 L1124.2,1074.0 L1127.3,1080.0 L1130.3,1086.0 L1133.2,1092.0 L1136.1,1098.0 L1138.8,1104.0 L1141.5,1110.0 L1144.1,1116.0 L1146.5,1122.0 L1148.9,1128.0 L1151.2,1134.0 L1153.5,1140.0 L1155.6,1146.0 L1157.6,1152.0 L1159.6,1158.0 L1161.4,1164.0 L1163.2,1170.0 L1164.9,1176.0 L1166.6,1182.0 L1168.1,1188.0 L1169.6,1194.0 L1171.1,1200.0 L1172.4,1206.0 L1173.7,1212.0 L1175.0,1218.0 L1176.2,1224.0 L1177.4,1230.0 L1178.5,1236.0 L1179.6,1242.0 L1180.6,1248.0 L1181.6,1254.0 L1182.6,1260.0 L1183.6,1266.0 L1184.5,1272.0 L1185.4,1278.0" stroke-width="11.8" stroke-dasharray="25 4 34 8 18 5 28 5 23 4 29 7 16 4 35 7 31 3 33 8 40 7 15 7" stroke-dashoffset="7"/><path d="M950.4,708.0 L954.4,714.0 L958.4,720.0 L962.4,726.0 L966.3,732.0 L970.2,738.0 L974.0,744.0 L977.8,750.0 L981.5,756.0 L985.2,762.0 L988.8,768.0 L992.4,774.0 L995.9,780.0 L999.3,786.0 L1002.7,792.0 L1006.0,798.0 L1009.2,804.0 L1012.4,810.0 L1015.6,816.0 L1018.7,822.0 L1021.8,828.0 L1024.8,834.0 L1027.9,840.0 L1030.8,846.0 L1033.8,852.0 L1036.7,858.0 L1039.7,864.0 L1042.6,870.0 L1045.5,876.0 L1048.5,882.0 L1051.4,888.0 L1054.4,894.0 L1057.3,900.0 L1060.3,906.0 L1063.4,912.0 L1066.4,918.0 L1069.5,924.0 L1072.6,930.0 L1075.7,936.0 L1078.9,942.0 L1082.1,948.0 L1085.2,954.0 L1088.4,960.0 L1091.6,966.0 L1094.9,972.0 L1098.1,978.0 L1101.3,984.0 L1104.5,990.0 L1107.7,996.0 L1110.9,1002.0 L1114.0,1008.0 L1117.2,1014.0 L1120.3,1020.0 L1123.4,1026.0 L1126.4,1032.0 L1129.4,1038.0 L1132.4,1044.0 L1135.3,1050.0 L1138.1,1056.0 L1140.9,1062.0 L1143.6,1068.0 L1146.2,1074.0 L1148.8,1080.0 L1151.2,1086.0 L1153.7,1092.0 L1156.0,1098.0 L1158.2,1104.0 L1160.4,1110.0 L1162.5,1116.0 L1164.5,1122.0 L1166.5,1128.0 L1168.4,1134.0 L1170.1,1140.0 L1171.9,1146.0 L1173.5,1152.0 L1175.1,1158.0 L1176.6,1164.0 L1178.0,1170.0 L1179.4,1176.0 L1180.7,1182.0 L1181.9,1188.0 L1183.1,1194.0 L1184.3,1200.0 L1185.4,1206.0 L1186.4,1212.0 L1187.5,1218.0 L1188.4,1224.0 L1189.4,1230.0 L1190.3,1236.0 L1191.1,1242.0 L1192.0,1248.0 L1192.8,1254.0 L1193.6,1260.0 L1194.4,1266.0 L1195.2,1272.0 L1195.9,1278.0" stroke-width="12.6" stroke-dasharray="33 4 22 8 18 6 25 4 30 3 17 5 16 3 29 7 37 4 25 5 30 5 38 5" stroke-dashoffset="2"/><path d="M988.5,708.0 L992.4,714.0 L996.3,720.0 L1000.1,726.0 L1003.9,732.0 L1007.6,738.0 L1011.3,744.0 L1014.9,750.0 L1018.4,756.0 L1021.9,762.0 L1025.3,768.0 L1028.7,774.0 L1032.0,780.0 L1035.2,786.0 L1038.5,792.0 L1041.6,798.0 L1044.7,804.0 L1047.8,810.0 L1050.8,816.0 L1053.8,822.0 L1056.8,828.0 L1059.8,834.0 L1062.7,840.0 L1065.7,846.0 L1068.6,852.0 L1071.5,858.0 L1074.3,864.0 L1077.2,870.0 L1080.0,876.0 L1082.9,882.0 L1085.7,888.0 L1088.6,894.0 L1091.4,900.0 L1094.2,906.0 L1097.0,912.0 L1099.8,918.0 L1102.6,924.0 L1105.4,930.0 L1108.2,936.0 L1111.0,942.0 L1113.8,948.0 L1116.6,954.0 L1119.4,960.0 L1122.2,966.0 L1124.9,972.0 L1127.6,978.0 L1130.4,984.0 L1133.1,990.0 L1135.8,996.0 L1138.4,1002.0 L1141.1,1008.0 L1143.7,1014.0 L1146.3,1020.0 L1148.8,1026.0 L1151.3,1032.0 L1153.8,1038.0 L1156.2,1044.0 L1158.5,1050.0 L1160.8,1056.0 L1163.1,1062.0 L1165.3,1068.0 L1167.4,1074.0 L1169.5,1080.0 L1171.5,1086.0 L1173.4,1092.0 L1175.3,1098.0 L1177.1,1104.0 L1178.8,1110.0 L1180.5,1116.0 L1182.1,1122.0 L1183.7,1128.0 L1185.2,1134.0 L1186.6,1140.0 L1188.0,1146.0 L1189.3,1152.0 L1190.5,1158.0 L1191.7,1164.0 L1192.8,1170.0 L1193.9,1176.0 L1194.9,1182.0 L1195.9,1188.0 L1196.9,1194.0 L1197.8,1200.0 L1198.7,1206.0 L1199.5,1212.0 L1200.3,1218.0 L1201.1,1224.0 L1201.8,1230.0 L1202.5,1236.0 L1203.2,1242.0 L1203.9,1248.0 L1204.6,1254.0 L1205.2,1260.0 L1205.9,1266.0 L1206.5,1272.0 L1207.2,1278.0" stroke-width="10.1" stroke-dasharray="30 6 38 6 30 4 28 4 34 6 17 4 24 7 19 7 31 3 31 3 17 6 20 7" stroke-dashoffset="14"/><path d="M1033.5,708.0 L1037.2,714.0 L1040.9,720.0 L1044.5,726.0 L1048.1,732.0 L1051.6,738.0 L1055.0,744.0 L1058.4,750.0 L1061.7,756.0 L1065.0,762.0 L1068.2,768.0 L1071.3,774.0 L1074.4,780.0 L1077.4,786.0 L1080.4,792.0 L1083.2,798.0 L1086.1,804.0 L1088.8,810.0 L1091.5,816.0 L1094.2,822.0 L1096.8,828.0 L1099.4,834.0 L1101.9,840.0 L1104.4,846.0 L1106.8,852.0 L1109.3,858.0 L1111.7,864.0 L1114.0,870.0 L1116.4,876.0 L1118.7,882.0 L1121.1,888.0 L1123.4,894.0 L1125.7,900.0 L1128.0,906.0 L1130.3,912.0 L1132.6,918.0 L1134.9,924.0 L1137.2,930.0 L1139.4,936.0 L1141.7,942.0 L1144.0,948.0 L1146.3,954.0 L1148.5,960.0 L1150.8,966.0 L1153.0,972.0 L1155.2,978.0 L1157.4,984.0 L1159.6,990.0 L1161.8,996.0 L1163.9,1002.0 L1166.1,1008.0 L1168.2,1014.0 L1170.3,1020.0 L1172.3,1026.0 L1174.4,1032.0 L1176.3,1038.0 L1178.3,1044.0 L1180.2,1050.0 L1182.0,1056.0 L1183.8,1062.0 L1185.6,1068.0 L1187.3,1074.0 L1189.0,1080.0 L1190.6,1086.0 L1192.1,1092.0 L1193.7,1098.0 L1195.1,1104.0 L1196.5,1110.0 L1197.8,1116.0 L1199.1,1122.0 L1200.4,1128.0 L1201.5,1134.0 L1202.7,1140.0 L1203.8,1146.0 L1204.8,1152.0 L1205.8,1158.0 L1206.7,1164.0 L1207.6,1170.0 L1208.5,1176.0 L1209.3,1182.0 L1210.1,1188.0 L1210.9,1194.0 L1211.6,1200.0 L1212.3,1206.0 L1213.0,1212.0 L1213.6,1218.0 L1214.2,1224.0 L1214.8,1230.0 L1215.4,1236.0 L1216.0,1242.0 L1216.6,1248.0 L1217.1,1254.0 L1217.7,1260.0 L1218.3,1266.0 L1218.8,1272.0 L1219.4,1278.0" stroke-width="12.1" stroke-dasharray="15 7 15 4 39 6 20 4 39 6 35 4 30 5 20 5 30 5 24 4 36 6 35 5" stroke-dashoffset="26"/><path d="M1094.9,708.0 L1098.0,714.0 L1101.0,720.0 L1103.8,726.0 L1106.6,732.0 L1109.3,738.0 L1111.8,744.0 L1114.3,750.0 L1116.7,756.0 L1119.0,762.0 L1121.3,768.0 L1123.5,774.0 L1125.6,780.0 L1127.6,786.0 L1129.6,792.0 L1131.6,798.0 L1133.5,804.0 L1135.4,810.0 L1137.2,816.0 L1139.0,822.0 L1140.8,828.0 L1142.5,834.0 L1144.2,840.0 L1146.0,846.0 L1147.7,852.0 L1149.4,858.0 L1151.1,864.0 L1152.7,870.0 L1154.4,876.0 L1156.1,882.0 L1157.8,888.0 L1159.5,894.0 L1161.2,900.0 L1162.9,906.0 L1164.6,912.0 L1166.3,918.0 L1168.0,924.0 L1169.8,930.0 L1171.5,936.0 L1173.3,942.0 L1175.0,948.0 L1176.8,954.0 L1178.5,960.0 L1180.3,966.0 L1182.0,972.0 L1183.7,978.0 L1185.5,984.0 L1187.2,990.0 L1188.9,996.0 L1190.6,1002.0 L1192.3,1008.0 L1194.0,1014.0 L1195.6,1020.0 L1197.3,1026.0 L1198.9,1032.0 L1200.5,1038.0 L1202.0,1044.0 L1203.5,1050.0 L1205.0,1056.0 L1206.5,1062.0 L1207.9,1068.0 L1209.2,1074.0 L1210.6,1080.0 L1211.9,1086.0 L1213.1,1092.0 L1214.3,1098.0 L1215.5,1104.0 L1216.6,1110.0 L1217.7,1116.0 L1218.7,1122.0 L1219.7,1128.0 L1220.6,1134.0 L1221.5,1140.0 L1222.4,1146.0 L1223.2,1152.0 L1224.0,1158.0 L1224.8,1164.0 L1225.5,1170.0 L1226.2,1176.0 L1226.9,1182.0 L1227.6,1188.0 L1228.2,1194.0 L1228.8,1200.0 L1229.4,1206.0 L1229.9,1212.0 L1230.5,1218.0 L1231.0,1224.0 L1231.6,1230.0 L1232.1,1236.0 L1232.6,1242.0 L1233.1,1248.0 L1233.7,1254.0 L1234.2,1260.0 L1234.7,1266.0 L1235.3,1272.0 L1235.8,1278.0" stroke-width="11.5" stroke-dasharray="29 7 24 3 15 4 15 7 27 7 14 5 37 6 25 5 17 4 18 5 24 7 18 4" stroke-dashoffset="8"/><path d="M1151.5,708.0 L1153.2,714.0 L1154.9,720.0 L1156.4,726.0 L1157.9,732.0 L1159.4,738.0 L1160.8,744.0 L1162.2,750.0 L1163.5,756.0 L1164.8,762.0 L1166.0,768.0 L1167.3,774.0 L1168.5,780.0 L1169.6,786.0 L1170.8,792.0 L1171.9,798.0 L1173.1,804.0 L1174.2,810.0 L1175.3,816.0 L1176.4,822.0 L1177.5,828.0 L1178.6,834.0 L1179.8,840.0 L1180.9,846.0 L1182.1,852.0 L1183.2,858.0 L1184.4,864.0 L1185.6,870.0 L1186.8,876.0 L1188.0,882.0 L1189.3,888.0 L1190.5,894.0 L1191.8,900.0 L1193.1,906.0 L1194.4,912.0 L1195.8,918.0 L1197.1,924.0 L1198.5,930.0 L1199.9,936.0 L1201.3,942.0 L1202.7,948.0 L1204.2,954.0 L1205.6,960.0 L1207.0,966.0 L1208.5,972.0 L1209.9,978.0 L1211.4,984.0 L1212.8,990.0 L1214.3,996.0 L1215.7,1002.0 L1217.1,1008.0 L1218.6,1014.0 L1220.0,1020.0 L1221.4,1026.0 L1222.7,1032.0 L1224.1,1038.0 L1225.4,1044.0 L1226.7,1050.0 L1228.0,1056.0 L1229.3,1062.0 L1230.5,1068.0 L1231.7,1074.0 L1232.8,1080.0 L1234.0,1086.0 L1235.1,1092.0 L1236.1,1098.0 L1237.1,1104.0 L1238.1,1110.0 L1239.0,1116.0 L1239.9,1122.0 L1240.8,1128.0 L1241.6,1134.0 L1242.4,1140.0 L1243.2,1146.0 L1243.9,1152.0 L1244.6,1158.0 L1245.3,1164.0 L1246.0,1170.0 L1246.6,1176.0 L1247.2,1182.0 L1247.7,1188.0 L1248.3,1194.0 L1248.8,1200.0 L1249.4,1206.0 L1249.9,1212.0 L1250.4,1218.0 L1250.9,1224.0 L1251.4,1230.0 L1251.9,1236.0 L1252.4,1242.0 L1252.9,1248.0 L1253.4,1254.0 L1253.9,1260.0 L1254.5,1266.0 L1255.0,1272.0 L1255.6,1278.0" stroke-width="10.5" stroke-dasharray="20 5 15 8 24 8 32 6 26 8 17 6 22 6 33 4 19 3 20 3 24 8 23 5" stroke-dashoffset="14"/><path d="M1193.2,708.0 L1194.0,714.0 L1194.9,720.0 L1195.7,726.0 L1196.5,732.0 L1197.2,738.0 L1198.0,744.0 L1198.7,750.0 L1199.4,756.0 L1200.1,762.0 L1200.8,768.0 L1201.5,774.0 L1202.2,780.0 L1202.9,786.0 L1203.6,792.0 L1204.3,798.0 L1205.1,804.0 L1205.8,810.0 L1206.6,816.0 L1207.3,822.0 L1208.1,828.0 L1208.9,834.0 L1209.8,840.0 L1210.6,846.0 L1211.5,852.0 L1212.4,858.0 L1213.4,864.0 L1214.3,870.0 L1215.3,876.0 L1216.4,882.0 L1217.4,888.0 L1218.5,894.0 L1219.6,900.0 L1220.8,906.0 L1222.0,912.0 L1223.2,918.0 L1224.4,924.0 L1225.7,930.0 L1227.0,936.0 L1228.3,942.0 L1229.6,948.0 L1230.9,954.0 L1232.3,960.0 L1233.6,966.0 L1235.0,972.0 L1236.4,978.0 L1237.8,984.0 L1239.1,990.0 L1240.5,996.0 L1241.9,1002.0 L1243.2,1008.0 L1244.6,1014.0 L1245.9,1020.0 L1247.2,1026.0 L1248.5,1032.0 L1249.8,1038.0 L1251.0,1044.0 L1252.2,1050.0 L1253.4,1056.0 L1254.5,1062.0 L1255.6,1068.0 L1256.7,1074.0 L1257.7,1080.0 L1258.7,1086.0 L1259.7,1092.0 L1260.6,1098.0 L1261.5,1104.0 L1262.4,1110.0 L1263.2,1116.0 L1264.0,1122.0 L1264.7,1128.0 L1265.4,1134.0 L1266.1,1140.0 L1266.8,1146.0 L1267.4,1152.0 L1268.0,1158.0 L1268.6,1164.0 L1269.1,1170.0 L1269.7,1176.0 L1270.2,1182.0 L1270.7,1188.0 L1271.2,1194.0 L1271.7,1200.0 L1272.2,1206.0 L1272.6,1212.0 L1273.1,1218.0 L1273.6,1224.0 L1274.1,1230.0 L1274.5,1236.0 L1275.0,1242.0 L1275.5,1248.0 L1276.1,1254.0 L1276.6,1260.0 L1277.2,1266.0 L1277.7,1272.0 L1278.3,1278.0" stroke-width="11.9" stroke-dasharray="33 4 20 6 38 6 25 8 14 3 34 5 15 6 40 6 23 3 16 7 27 8 15 4" stroke-dashoffset="2"/><path d="M1222.7,708.0 L1223.2,714.0 L1223.8,720.0 L1224.3,726.0 L1224.9,732.0 L1225.4,738.0 L1225.9,744.0 L1226.5,750.0 L1227.0,756.0 L1227.5,762.0 L1228.1,768.0 L1228.7,774.0 L1229.2,780.0 L1229.8,786.0 L1230.4,792.0 L1231.1,798.0 L1231.7,804.0 L1232.4,810.0 L1233.1,816.0 L1233.9,822.0 L1234.6,828.0 L1235.4,834.0 L1236.3,840.0 L1237.2,846.0 L1238.1,852.0 L1239.0,858.0 L1240.0,864.0 L1241.0,870.0 L1242.0,876.0 L1243.1,882.0 L1244.2,888.0 L1245.3,894.0 L1246.5,900.0 L1247.7,906.0 L1248.9,912.0 L1250.2,918.0 L1251.5,924.0 L1252.7,930.0 L1254.1,936.0 L1255.4,942.0 L1256.7,948.0 L1258.1,954.0 L1259.4,960.0 L1260.7,966.0 L1262.1,972.0 L1263.4,978.0 L1264.8,984.0 L1266.1,990.0 L1267.4,996.0 L1268.7,1002.0 L1270.0,1008.0 L1271.2,1014.0 L1272.5,1020.0 L1273.7,1026.0 L1274.9,1032.0 L1276.0,1038.0 L1277.1,1044.0 L1278.2,1050.0 L1279.3,1056.0 L1280.3,1062.0 L1281.3,1068.0 L1282.2,1074.0 L1283.1,1080.0 L1284.0,1086.0 L1284.8,1092.0 L1285.6,1098.0 L1286.4,1104.0 L1287.1,1110.0 L1287.8,1116.0 L1288.5,1122.0 L1289.1,1128.0 L1289.7,1134.0 L1290.3,1140.0 L1290.9,1146.0 L1291.4,1152.0 L1291.9,1158.0 L1292.4,1164.0 L1292.9,1170.0 L1293.4,1176.0 L1293.8,1182.0 L1294.3,1188.0 L1294.7,1194.0 L1295.2,1200.0 L1295.6,1206.0 L1296.1,1212.0 L1296.5,1218.0 L1297.0,1224.0 L1297.5,1230.0 L1298.0,1236.0 L1298.5,1242.0 L1299.0,1248.0 L1299.5,1254.0 L1300.1,1260.0 L1300.7,1266.0 L1301.3,1272.0 L1301.9,1278.0" stroke-width="9.8" stroke-dasharray="21 5 22 3 15 8 19 6 24 6 16 5 17 6 38 6 36 4 14 6 27 6 24 6" stroke-dashoffset="22"/><path d="M1251.6,708.0 L1252.1,714.0 L1252.6,720.0 L1253.1,726.0 L1253.6,732.0 L1254.1,738.0 L1254.6,744.0 L1255.2,750.0 L1255.7,756.0 L1256.3,762.0 L1256.8,768.0 L1257.4,774.0 L1258.0,780.0 L1258.7,786.0 L1259.3,792.0 L1260.0,798.0 L1260.7,804.0 L1261.5,810.0 L1262.2,816.0 L1263.0,822.0 L1263.9,828.0 L1264.8,834.0 L1265.7,840.0 L1266.6,846.0 L1267.6,852.0 L1268.6,858.0 L1269.7,864.0 L1270.8,870.0 L1271.9,876.0 L1273.0,882.0 L1274.2,888.0 L1275.4,894.0 L1276.6,900.0 L1277.8,906.0 L1279.1,912.0 L1280.4,918.0 L1281.7,924.0 L1283.0,930.0 L1284.3,936.0 L1285.6,942.0 L1286.9,948.0 L1288.2,954.0 L1289.5,960.0 L1290.8,966.0 L1292.1,972.0 L1293.4,978.0 L1294.6,984.0 L1295.8,990.0 L1297.1,996.0 L1298.3,1002.0 L1299.5,1008.0 L1300.6,1014.0 L1301.7,1020.0 L1302.8,1026.0 L1303.9,1032.0 L1304.9,1038.0 L1305.9,1044.0 L1306.8,1050.0 L1307.7,1056.0 L1308.6,1062.0 L1309.4,1068.0 L1310.2,1074.0 L1311.0,1080.0 L1311.7,1086.0 L1312.4,1092.0 L1313.1,1098.0 L1313.7,1104.0 L1314.3,1110.0 L1314.9,1116.0 L1315.4,1122.0 L1316.0,1128.0 L1316.5,1134.0 L1317.0,1140.0 L1317.4,1146.0 L1317.9,1152.0 L1318.3,1158.0 L1318.7,1164.0 L1319.2,1170.0 L1319.6,1176.0 L1320.0,1182.0 L1320.4,1188.0 L1320.8,1194.0 L1321.3,1200.0 L1321.7,1206.0 L1322.1,1212.0 L1322.6,1218.0 L1323.1,1224.0 L1323.6,1230.0 L1324.1,1236.0 L1324.6,1242.0 L1325.2,1248.0 L1325.7,1254.0 L1326.4,1260.0 L1327.0,1266.0 L1327.7,1272.0 L1328.4,1278.0" stroke-width="10.6" stroke-dasharray="26 7 20 4 22 3 34 7 22 4 16 4 16 5 29 4 16 7 15 4 21 5 17 5" stroke-dashoffset="9"/><path d="M1279.9,708.0 L1280.4,714.0 L1280.8,720.0 L1281.3,726.0 L1281.8,732.0 L1282.3,738.0 L1282.8,744.0 L1283.4,750.0 L1283.9,756.0 L1284.5,762.0 L1285.1,768.0 L1285.7,774.0 L1286.4,780.0 L1287.1,786.0 L1287.8,792.0 L1288.6,798.0 L1289.3,804.0 L1290.2,810.0 L1291.0,816.0 L1291.9,822.0 L1292.8,828.0 L1293.8,834.0 L1294.8,840.0 L1295.8,846.0 L1296.8,852.0 L1297.9,858.0 L1299.0,864.0 L1300.2,870.0 L1301.4,876.0 L1302.5,882.0 L1303.8,888.0 L1305.0,894.0 L1306.2,900.0 L1307.5,906.0 L1308.8,912.0 L1310.0,918.0 L1311.3,924.0 L1312.6,930.0 L1313.9,936.0 L1315.2,942.0 L1316.4,948.0 L1317.7,954.0 L1318.9,960.0 L1320.1,966.0 L1321.3,972.0 L1322.5,978.0 L1323.6,984.0 L1324.7,990.0 L1325.8,996.0 L1326.9,1002.0 L1328.0,1008.0 L1329.0,1014.0 L1330.0,1020.0 L1330.9,1026.0 L1331.9,1032.0 L1332.7,1038.0 L1333.6,1044.0 L1334.4,1050.0 L1335.1,1056.0 L1335.9,1062.0 L1336.6,1068.0 L1337.2,1074.0 L1337.9,1080.0 L1338.5,1086.0 L1339.1,1092.0 L1339.6,1098.0 L1340.1,1104.0 L1340.6,1110.0 L1341.1,1116.0 L1341.5,1122.0 L1342.0,1128.0 L1342.4,1134.0 L1342.8,1140.0 L1343.2,1146.0 L1343.6,1152.0 L1344.0,1158.0 L1344.4,1164.0 L1344.8,1170.0 L1345.2,1176.0 L1345.6,1182.0 L1346.0,1188.0 L1346.4,1194.0 L1346.8,1200.0 L1347.2,1206.0 L1347.7,1212.0 L1348.2,1218.0 L1348.7,1224.0 L1349.2,1230.0 L1349.8,1236.0 L1350.3,1242.0 L1351.0,1248.0 L1351.6,1254.0 L1352.3,1260.0 L1353.0,1266.0 L1353.7,1272.0 L1354.5,1278.0" stroke-width="11.4" stroke-dasharray="37 6 34 6 25 7 31 8 33 7 21 7 24 4 16 4 21 6 21 3 34 6 15 3" stroke-dashoffset="4"/><path d="M1306.3,708.0 L1306.7,714.0 L1307.2,720.0 L1307.7,726.0 L1308.2,732.0 L1308.7,738.0 L1309.3,744.0 L1309.9,750.0 L1310.5,756.0 L1311.1,762.0 L1311.8,768.0 L1312.4,774.0 L1313.2,780.0 L1313.9,786.0 L1314.7,792.0 L1315.5,798.0 L1316.4,804.0 L1317.3,810.0 L1318.2,816.0 L1319.2,822.0 L1320.1,828.0 L1321.2,834.0 L1322.2,840.0 L1323.3,846.0 L1324.4,852.0 L1325.5,858.0 L1326.7,864.0 L1327.9,870.0 L1329.1,876.0 L1330.3,882.0 L1331.5,888.0 L1332.8,894.0 L1334.0,900.0 L1335.3,906.0 L1336.5,912.0 L1337.8,918.0 L1339.0,924.0 L1340.2,930.0 L1341.5,936.0 L1342.7,942.0 L1343.9,948.0 L1345.0,954.0 L1346.2,960.0 L1347.3,966.0 L1348.4,972.0 L1349.4,978.0 L1350.5,984.0 L1351.4,990.0 L1352.4,996.0 L1353.4,1002.0 L1354.3,1008.0 L1355.2,1014.0 L1356.1,1020.0 L1356.9,1026.0 L1357.7,1032.0 L1358.4,1038.0 L1359.1,1044.0 L1359.8,1050.0 L1360.4,1056.0 L1361.1,1062.0 L1361.6,1068.0 L1362.2,1074.0 L1362.7,1080.0 L1363.2,1086.0 L1363.7,1092.0 L1364.1,1098.0 L1364.6,1104.0 L1365.0,1110.0 L1365.4,1116.0 L1365.8,1122.0 L1366.1,1128.0 L1366.5,1134.0 L1366.9,1140.0 L1367.2,1146.0 L1367.6,1152.0 L1367.9,1158.0 L1368.3,1164.0 L1368.7,1170.0 L1369.1,1176.0 L1369.5,1182.0 L1369.9,1188.0 L1370.3,1194.0 L1370.7,1200.0 L1371.2,1206.0 L1371.7,1212.0 L1372.2,1218.0 L1372.8,1224.0 L1373.3,1230.0 L1373.9,1236.0 L1374.6,1242.0 L1375.2,1248.0 L1375.9,1254.0 L1376.7,1260.0 L1377.4,1266.0 L1378.2,1272.0 L1379.1,1278.0" stroke-width="12.4" stroke-dasharray="39 6 20 5 23 5 14 6 35 7 16 6 18 7 26 8 35 4 22 8 26 5 25 7" stroke-dashoffset="28"/><path d="M1334.0,708.0 L1334.5,714.0 L1335.0,720.0 L1335.5,726.0 L1336.1,732.0 L1336.6,738.0 L1337.2,744.0 L1337.9,750.0 L1338.5,756.0 L1339.2,762.0 L1340.0,768.0 L1340.7,774.0 L1341.5,780.0 L1342.3,786.0 L1343.2,792.0 L1344.1,798.0 L1345.0,804.0 L1346.0,810.0 L1347.0,816.0 L1348.0,822.0 L1349.1,828.0 L1350.1,834.0 L1351.2,840.0 L1352.4,846.0 L1353.5,852.0 L1354.7,858.0 L1355.9,864.0 L1357.1,870.0 L1358.3,876.0 L1359.5,882.0 L1360.7,888.0 L1361.9,894.0 L1363.1,900.0 L1364.4,906.0 L1365.6,912.0 L1366.7,918.0 L1367.9,924.0 L1369.1,930.0 L1370.2,936.0 L1371.3,942.0 L1372.4,948.0 L1373.5,954.0 L1374.5,960.0 L1375.5,966.0 L1376.4,972.0 L1377.4,978.0 L1378.3,984.0 L1379.1,990.0 L1380.0,996.0 L1380.8,1002.0 L1381.6,1008.0 L1382.3,1014.0 L1383.1,1020.0 L1383.7,1026.0 L1384.4,1032.0 L1385.0,1038.0 L1385.6,1044.0 L1386.1,1050.0 L1386.7,1056.0 L1387.2,1062.0 L1387.6,1068.0 L1388.1,1074.0 L1388.5,1080.0 L1388.9,1086.0 L1389.3,1092.0 L1389.6,1098.0 L1390.0,1104.0 L1390.3,1110.0 L1390.7,1116.0 L1391.0,1122.0 L1391.3,1128.0 L1391.7,1134.0 L1392.0,1140.0 L1392.3,1146.0 L1392.7,1152.0 L1393.0,1158.0 L1393.4,1164.0 L1393.8,1170.0 L1394.2,1176.0 L1394.6,1182.0 L1395.0,1188.0 L1395.5,1194.0 L1396.0,1200.0 L1396.5,1206.0 L1397.0,1212.0 L1397.6,1218.0 L1398.2,1224.0 L1398.8,1230.0 L1399.5,1236.0 L1400.2,1242.0 L1400.9,1248.0 L1401.7,1254.0 L1402.5,1260.0 L1403.3,1266.0 L1404.2,1272.0 L1405.1,1278.0" stroke-width="12.7" stroke-dasharray="29 4 35 5 15 8 15 6 27 7 24 4 21 4 29 5 34 4 23 4 40 7 36 6" stroke-dashoffset="12"/><path d="M1360.1,708.0 L1360.6,714.0 L1361.1,720.0 L1361.7,726.0 L1362.3,732.0 L1362.9,738.0 L1363.6,744.0 L1364.3,750.0 L1365.0,756.0 L1365.8,762.0 L1366.6,768.0 L1367.4,774.0 L1368.2,780.0 L1369.1,786.0 L1370.1,792.0 L1371.0,798.0 L1372.0,804.0 L1373.1,810.0 L1374.1,816.0 L1375.2,822.0 L1376.3,828.0 L1377.4,834.0 L1378.5,840.0 L1379.7,846.0 L1380.9,852.0 L1382.0,858.0 L1383.2,864.0 L1384.4,870.0 L1385.6,876.0 L1386.8,882.0 L1388.0,888.0 L1389.1,894.0 L1390.3,900.0 L1391.4,906.0 L1392.6,912.0 L1393.7,918.0 L1394.7,924.0 L1395.8,930.0 L1396.8,936.0 L1397.8,942.0 L1398.8,948.0 L1399.8,954.0 L1400.7,960.0 L1401.5,966.0 L1402.4,972.0 L1403.2,978.0 L1403.9,984.0 L1404.7,990.0 L1405.4,996.0 L1406.1,1002.0 L1406.7,1008.0 L1407.4,1014.0 L1408.0,1020.0 L1408.5,1026.0 L1409.1,1032.0 L1409.5,1038.0 L1410.0,1044.0 L1410.5,1050.0 L1410.9,1056.0 L1411.3,1062.0 L1411.7,1068.0 L1412.0,1074.0 L1412.4,1080.0 L1412.7,1086.0 L1413.0,1092.0 L1413.3,1098.0 L1413.6,1104.0 L1413.9,1110.0 L1414.2,1116.0 L1414.5,1122.0 L1414.9,1128.0 L1415.2,1134.0 L1415.5,1140.0 L1415.8,1146.0 L1416.2,1152.0 L1416.5,1158.0 L1416.9,1164.0 L1417.3,1170.0 L1417.8,1176.0 L1418.2,1182.0 L1418.7,1188.0 L1419.2,1194.0 L1419.7,1200.0 L1420.3,1206.0 L1420.9,1212.0 L1421.5,1218.0 L1422.2,1224.0 L1422.9,1230.0 L1423.6,1236.0 L1424.4,1242.0 L1425.1,1248.0 L1426.0,1254.0 L1426.8,1260.0 L1427.7,1266.0 L1428.7,1272.0 L1429.6,1278.0" stroke-width="12.3" stroke-dasharray="27 3 18 3 33 8 19 7 22 6 36 6 35 5 14 6 29 4 24 5 15 5 24 5" stroke-dashoffset="21"/><path d="M1388.1,708.0 L1388.7,714.0 L1389.3,720.0 L1389.9,726.0 L1390.6,732.0 L1391.3,738.0 L1392.0,744.0 L1392.8,750.0 L1393.6,756.0 L1394.4,762.0 L1395.3,768.0 L1396.2,774.0 L1397.1,780.0 L1398.1,786.0 L1399.1,792.0 L1400.1,798.0 L1401.1,804.0 L1402.2,810.0 L1403.3,816.0 L1404.4,822.0 L1405.5,828.0 L1406.7,834.0 L1407.8,840.0 L1409.0,846.0 L1410.1,852.0 L1411.3,858.0 L1412.4,864.0 L1413.6,870.0 L1414.7,876.0 L1415.8,882.0 L1416.9,888.0 L1418.0,894.0 L1419.1,900.0 L1420.2,906.0 L1421.2,912.0 L1422.2,918.0 L1423.2,924.0 L1424.1,930.0 L1425.0,936.0 L1425.9,942.0 L1426.7,948.0 L1427.5,954.0 L1428.3,960.0 L1429.0,966.0 L1429.7,972.0 L1430.4,978.0 L1431.0,984.0 L1431.6,990.0 L1432.2,996.0 L1432.8,1002.0 L1433.3,1008.0 L1433.8,1014.0 L1434.3,1020.0 L1434.7,1026.0 L1435.1,1032.0 L1435.5,1038.0 L1435.9,1044.0 L1436.2,1050.0 L1436.6,1056.0 L1436.9,1062.0 L1437.2,1068.0 L1437.5,1074.0 L1437.7,1080.0 L1438.0,1086.0 L1438.3,1092.0 L1438.6,1098.0 L1438.8,1104.0 L1439.1,1110.0 L1439.4,1116.0 L1439.7,1122.0 L1440.0,1128.0 L1440.3,1134.0 L1440.7,1140.0 L1441.0,1146.0 L1441.4,1152.0 L1441.8,1158.0 L1442.2,1164.0 L1442.6,1170.0 L1443.1,1176.0 L1443.6,1182.0 L1444.1,1188.0 L1444.7,1194.0 L1445.3,1200.0 L1445.9,1206.0 L1446.6,1212.0 L1447.3,1218.0 L1448.0,1224.0 L1448.8,1230.0 L1449.6,1236.0 L1450.4,1242.0 L1451.3,1248.0 L1452.2,1254.0 L1453.1,1260.0 L1454.0,1266.0 L1455.0,1272.0 L1456.0,1278.0" stroke-width="12.7" stroke-dasharray="35 8 32 6 28 7 23 6 32 6 21 3 16 5 29 7 33 5 38 4 33 3 34 6" stroke-dashoffset="29"/><path d="M1419.7,708.0 L1420.3,714.0 L1421.0,720.0 L1421.7,726.0 L1422.5,732.0 L1423.3,738.0 L1424.1,744.0 L1424.9,750.0 L1425.8,756.0 L1426.7,762.0 L1427.7,768.0 L1428.6,774.0 L1429.6,780.0 L1430.7,786.0 L1431.7,792.0 L1432.8,798.0 L1433.9,804.0 L1434.9,810.0 L1436.1,816.0 L1437.2,822.0 L1438.3,828.0 L1439.4,834.0 L1440.5,840.0 L1441.6,846.0 L1442.7,852.0 L1443.8,858.0 L1444.9,864.0 L1446.0,870.0 L1447.0,876.0 L1448.1,882.0 L1449.1,888.0 L1450.1,894.0 L1451.0,900.0 L1451.9,906.0 L1452.8,912.0 L1453.7,918.0 L1454.5,924.0 L1455.3,930.0 L1456.0,936.0 L1456.8,942.0 L1457.4,948.0 L1458.1,954.0 L1458.7,960.0 L1459.3,966.0 L1459.8,972.0 L1460.4,978.0 L1460.8,984.0 L1461.3,990.0 L1461.7,996.0 L1462.2,1002.0 L1462.6,1008.0 L1462.9,1014.0 L1463.3,1020.0 L1463.6,1026.0 L1463.9,1032.0 L1464.2,1038.0 L1464.5,1044.0 L1464.8,1050.0 L1465.0,1056.0 L1465.3,1062.0 L1465.5,1068.0 L1465.7,1074.0 L1466.0,1080.0 L1466.2,1086.0 L1466.5,1092.0 L1466.7,1098.0 L1467.0,1104.0 L1467.3,1110.0 L1467.6,1116.0 L1467.9,1122.0 L1468.2,1128.0 L1468.5,1134.0 L1468.9,1140.0 L1469.3,1146.0 L1469.7,1152.0 L1470.2,1158.0 L1470.6,1164.0 L1471.1,1170.0 L1471.7,1176.0 L1472.3,1182.0 L1472.9,1188.0 L1473.5,1194.0 L1474.2,1200.0 L1474.9,1206.0 L1475.6,1212.0 L1476.4,1218.0 L1477.2,1224.0 L1478.0,1230.0 L1478.9,1236.0 L1479.8,1242.0 L1480.7,1248.0 L1481.6,1254.0 L1482.6,1260.0 L1483.6,1266.0 L1484.6,1272.0 L1485.6,1278.0" stroke-width="11.8" stroke-dasharray="36 7 30 4 27 7 20 8 28 5 14 5 19 6 37 8 30 5 17 6 28 7 24 7" stroke-dashoffset="6"/><path d="M1448.5,708.0 L1449.2,714.0 L1450.0,720.0 L1450.7,726.0 L1451.6,732.0 L1452.4,738.0 L1453.3,744.0 L1454.2,750.0 L1455.2,756.0 L1456.1,762.0 L1457.1,768.0 L1458.2,774.0 L1459.2,780.0 L1460.2,786.0 L1461.3,792.0 L1462.4,798.0 L1463.5,804.0 L1464.5,810.0 L1465.6,816.0 L1466.7,822.0 L1467.8,828.0 L1468.9,834.0 L1469.9,840.0 L1471.0,846.0 L1472.0,852.0 L1473.0,858.0 L1474.0,864.0 L1475.0,870.0 L1475.9,876.0 L1476.9,882.0 L1477.7,888.0 L1478.6,894.0 L1479.4,900.0 L1480.2,906.0 L1481.0,912.0 L1481.7,918.0 L1482.4,924.0 L1483.0,930.0 L1483.6,936.0 L1484.2,942.0 L1484.8,948.0 L1485.3,954.0 L1485.8,960.0 L1486.2,966.0 L1486.6,972.0 L1487.0,978.0 L1487.4,984.0 L1487.7,990.0 L1488.1,996.0 L1488.4,1002.0 L1488.7,1008.0 L1489.0,1014.0 L1489.2,1020.0 L1489.5,1026.0 L1489.7,1032.0 L1489.9,1038.0 L1490.1,1044.0 L1490.3,1050.0 L1490.6,1056.0 L1490.8,1062.0 L1491.0,1068.0 L1491.2,1074.0 L1491.4,1080.0 L1491.7,1086.0 L1491.9,1092.0 L1492.2,1098.0 L1492.5,1104.0 L1492.7,1110.0 L1493.1,1116.0 L1493.4,1122.0 L1493.8,1128.0 L1494.2,1134.0 L1494.6,1140.0 L1495.0,1146.0 L1495.5,1152.0 L1496.0,1158.0 L1496.6,1164.0 L1497.2,1170.0 L1497.8,1176.0 L1498.4,1182.0 L1499.1,1188.0 L1499.8,1194.0 L1500.6,1200.0 L1501.4,1206.0 L1502.2,1212.0 L1503.0,1218.0 L1503.9,1224.0 L1504.8,1230.0 L1505.7,1236.0 L1506.7,1242.0 L1507.7,1248.0 L1508.7,1254.0 L1509.7,1260.0 L1510.7,1266.0 L1511.8,1272.0 L1512.8,1278.0" stroke-width="10.5" stroke-dasharray="30 7 18 6 34 4 16 6 36 7 33 5 25 6 38 5 21 6 39 4 15 4 29 6" stroke-dashoffset="6"/><path d="M1476.5,708.0 L1477.3,714.0 L1478.1,720.0 L1479.0,726.0 L1479.9,732.0 L1480.8,738.0 L1481.7,744.0 L1482.7,750.0 L1483.7,756.0 L1484.7,762.0 L1485.7,768.0 L1486.7,774.0 L1487.8,780.0 L1488.8,786.0 L1489.9,792.0 L1491.0,798.0 L1492.0,804.0 L1493.1,810.0 L1494.1,816.0 L1495.2,822.0 L1496.2,828.0 L1497.2,834.0 L1498.2,840.0 L1499.2,846.0 L1500.1,852.0 L1501.0,858.0 L1501.9,864.0 L1502.8,870.0 L1503.6,876.0 L1504.4,882.0 L1505.2,888.0 L1506.0,894.0 L1506.7,900.0 L1507.3,906.0 L1508.0,912.0 L1508.6,918.0 L1509.2,924.0 L1509.7,930.0 L1510.2,936.0 L1510.7,942.0 L1511.1,948.0 L1511.5,954.0 L1511.9,960.0 L1512.3,966.0 L1512.6,972.0 L1512.9,978.0 L1513.2,984.0 L1513.5,990.0 L1513.8,996.0 L1514.1,1002.0 L1514.3,1008.0 L1514.5,1014.0 L1514.8,1020.0 L1515.0,1026.0 L1515.2,1032.0 L1515.4,1038.0 L1515.6,1044.0 L1515.8,1050.0 L1516.0,1056.0 L1516.3,1062.0 L1516.5,1068.0 L1516.7,1074.0 L1517.0,1080.0 L1517.3,1086.0 L1517.6,1092.0 L1517.9,1098.0 L1518.2,1104.0 L1518.6,1110.0 L1519.0,1116.0 L1519.4,1122.0 L1519.9,1128.0 L1520.4,1134.0 L1520.9,1140.0 L1521.4,1146.0 L1522.0,1152.0 L1522.6,1158.0 L1523.3,1164.0 L1524.0,1170.0 L1524.7,1176.0 L1525.4,1182.0 L1526.2,1188.0 L1527.0,1194.0 L1527.9,1200.0 L1528.7,1206.0 L1529.7,1212.0 L1530.6,1218.0 L1531.5,1224.0 L1532.5,1230.0 L1533.5,1236.0 L1534.5,1242.0 L1535.6,1248.0 L1536.6,1254.0 L1537.6,1260.0 L1538.7,1266.0 L1539.8,1272.0 L1540.8,1278.0" stroke-width="11.5" stroke-dasharray="31 6 33 3 27 7 39 5 36 6 38 4 32 7 26 4 19 4 16 4 30 4 34 7" stroke-dashoffset="24"/><path d="M1507.8,708.0 L1508.7,714.0 L1509.6,720.0 L1510.5,726.0 L1511.5,732.0 L1512.5,738.0 L1513.5,744.0 L1514.5,750.0 L1515.5,756.0 L1516.6,762.0 L1517.6,768.0 L1518.7,774.0 L1519.7,780.0 L1520.8,786.0 L1521.9,792.0 L1522.9,798.0 L1523.9,804.0 L1525.0,810.0 L1526.0,816.0 L1526.9,822.0 L1527.9,828.0 L1528.8,834.0 L1529.8,840.0 L1530.6,846.0 L1531.5,852.0 L1532.3,858.0 L1533.1,864.0 L1533.9,870.0 L1534.6,876.0 L1535.3,882.0 L1536.0,888.0 L1536.6,894.0 L1537.2,900.0 L1537.7,906.0 L1538.3,912.0 L1538.8,918.0 L1539.2,924.0 L1539.6,930.0 L1540.1,936.0 L1540.4,942.0 L1540.8,948.0 L1541.1,954.0 L1541.4,960.0 L1541.7,966.0 L1542.0,972.0 L1542.2,978.0 L1542.5,984.0 L1542.7,990.0 L1542.9,996.0 L1543.1,1002.0 L1543.4,1008.0 L1543.6,1014.0 L1543.8,1020.0 L1544.0,1026.0 L1544.2,1032.0 L1544.4,1038.0 L1544.6,1044.0 L1544.9,1050.0 L1545.1,1056.0 L1545.4,1062.0 L1545.7,1068.0 L1546.0,1074.0 L1546.3,1080.0 L1546.7,1086.0 L1547.1,1092.0 L1547.5,1098.0 L1547.9,1104.0 L1548.4,1110.0 L1548.9,1116.0 L1549.4,1122.0 L1550.0,1128.0 L1550.6,1134.0 L1551.2,1140.0 L1551.9,1146.0 L1552.6,1152.0 L1553.3,1158.0 L1554.0,1164.0 L1554.8,1170.0 L1555.7,1176.0 L1556.5,1182.0 L1557.4,1188.0 L1558.3,1194.0 L1559.3,1200.0 L1560.2,1206.0 L1561.2,1212.0 L1562.2,1218.0 L1563.3,1224.0 L1564.3,1230.0 L1565.3,1236.0 L1566.4,1242.0 L1567.4,1248.0 L1568.5,1254.0 L1569.6,1260.0 L1570.6,1266.0 L1571.7,1272.0 L1572.7,1278.0" stroke-width="11.9" stroke-dasharray="38 8 30 8 17 4 16 4 24 5 32 7 16 5 28 5 17 6 24 6 27 8 39 3" stroke-dashoffset="23"/></g></g>
<g fill="#1A1A1A" filter="url(#sb)"><circle cx="1151" cy="786" r="5.9" opacity="0.29"/><circle cx="1369" cy="1213" r="5.5" opacity="0.14"/><circle cx="1251" cy="1095" r="7.2" opacity="0.17"/><circle cx="1151" cy="903" r="7.4" opacity="0.33"/><circle cx="1030" cy="948" r="5.0" opacity="0.37"/><circle cx="1041" cy="868" r="4.4" opacity="0.32"/><circle cx="1491" cy="1012" r="5.5" opacity="0.22"/><circle cx="1050" cy="913" r="7.2" opacity="0.20"/><circle cx="1383" cy="916" r="4.1" opacity="0.13"/><circle cx="1231" cy="928" r="6.1" opacity="0.11"/><circle cx="1113" cy="1243" r="5.8" opacity="0.32"/><circle cx="1047" cy="873" r="7.8" opacity="0.37"/><circle cx="1256" cy="752" r="5.6" opacity="0.20"/><circle cx="1220" cy="1040" r="7.6" opacity="0.18"/><circle cx="1319" cy="743" r="4.1" opacity="0.20"/><circle cx="1209" cy="1190" r="7.3" opacity="0.21"/><circle cx="1192" cy="1256" r="7.0" opacity="0.21"/><circle cx="1078" cy="1140" r="5.7" opacity="0.44"/><circle cx="1496" cy="839" r="5.7" opacity="0.13"/><circle cx="1237" cy="877" r="6.7" opacity="0.12"/><circle cx="1089" cy="968" r="4.3" opacity="0.30"/><circle cx="1448" cy="1195" r="4.8" opacity="0.10"/><circle cx="1414" cy="1236" r="6.4" opacity="0.12"/><circle cx="1122" cy="1214" r="7.8" opacity="0.21"/><circle cx="1096" cy="952" r="5.1" opacity="0.39"/><circle cx="1189" cy="1137" r="4.6" opacity="0.16"/><circle cx="1487" cy="1098" r="4.4" opacity="0.11"/><circle cx="1323" cy="924" r="5.5" opacity="0.16"/><circle cx="1292" cy="1238" r="5.0" opacity="0.17"/><circle cx="1135" cy="1014" r="6.9" opacity="0.23"/><circle cx="1243" cy="1100" r="4.0" opacity="0.20"/><circle cx="1212" cy="992" r="6.4" opacity="0.20"/><circle cx="1033" cy="991" r="4.2" opacity="0.30"/><circle cx="1176" cy="735" r="5.2" opacity="0.16"/><circle cx="1329" cy="1216" r="5.5" opacity="0.17"/><circle cx="1357" cy="1223" r="7.8" opacity="0.22"/><circle cx="1154" cy="813" r="7.7" opacity="0.22"/><circle cx="1227" cy="1116" r="6.1" opacity="0.15"/><circle cx="1462" cy="883" r="6.2" opacity="0.20"/><circle cx="1073" cy="911" r="6.0" opacity="0.34"/><circle cx="1107" cy="966" r="4.2" opacity="0.22"/><circle cx="1174" cy="801" r="7.9" opacity="0.13"/><circle cx="1141" cy="1141" r="7.0" opacity="0.27"/><circle cx="1415" cy="1057" r="5.6" opacity="0.18"/><circle cx="1126" cy="864" r="7.5" opacity="0.31"/><circle cx="1448" cy="818" r="4.5" opacity="0.11"/><circle cx="1370" cy="1023" r="4.0" opacity="0.11"/><circle cx="1412" cy="987" r="7.5" opacity="0.10"/><circle cx="1296" cy="787" r="6.9" opacity="0.18"/><circle cx="1307" cy="842" r="7.8" opacity="0.11"/><circle cx="1037" cy="1088" r="4.4" opacity="0.22"/><circle cx="1232" cy="1070" r="7.6" opacity="0.19"/><circle cx="1039" cy="1066" r="7.4" opacity="0.23"/><circle cx="1378" cy="862" r="5.2" opacity="0.10"/><circle cx="1380" cy="999" r="7.6" opacity="0.16"/><circle cx="1082" cy="839" r="5.1" opacity="0.44"/><circle cx="1106" cy="771" r="5.4" opacity="0.22"/><circle cx="1215" cy="1055" r="6.6" opacity="0.12"/><circle cx="1074" cy="986" r="6.7" opacity="0.31"/><circle cx="1288" cy="1210" r="4.6" opacity="0.13"/><circle cx="1249" cy="1009" r="7.6" opacity="0.17"/><circle cx="1332" cy="947" r="7.1" opacity="0.20"/><circle cx="1150" cy="781" r="5.0" opacity="0.29"/><circle cx="1445" cy="865" r="6.5" opacity="0.18"/><circle cx="1477" cy="786" r="7.1" opacity="0.14"/><circle cx="1056" cy="1061" r="7.4" opacity="0.35"/><circle cx="1030" cy="1242" r="5.5" opacity="0.36"/><circle cx="1363" cy="863" r="5.6" opacity="0.14"/><circle cx="1052" cy="758" r="6.9" opacity="0.30"/><circle cx="1435" cy="757" r="5.2" opacity="0.12"/><circle cx="1471" cy="1145" r="7.6" opacity="0.16"/><circle cx="1056" cy="946" r="4.9" opacity="0.21"/><circle cx="1284" cy="878" r="4.4" opacity="0.16"/><circle cx="1466" cy="1228" r="5.9" opacity="0.11"/><circle cx="1385" cy="785" r="6.1" opacity="0.11"/><circle cx="1493" cy="1013" r="5.7" opacity="0.13"/><circle cx="1277" cy="1242" r="5.7" opacity="0.13"/><circle cx="1259" cy="1213" r="5.5" opacity="0.18"/><circle cx="1459" cy="897" r="7.2" opacity="0.17"/><circle cx="1074" cy="753" r="7.8" opacity="0.32"/><circle cx="1224" cy="1213" r="6.3" opacity="0.16"/><circle cx="1145" cy="1120" r="5.0" opacity="0.32"/><circle cx="1380" cy="1046" r="4.5" opacity="0.13"/><circle cx="1348" cy="1112" r="4.4" opacity="0.22"/><circle cx="1071" cy="813" r="4.4" opacity="0.31"/><circle cx="1311" cy="1181" r="4.7" opacity="0.19"/><circle cx="1057" cy="1033" r="5.0" opacity="0.29"/><circle cx="1031" cy="1108" r="4.5" opacity="0.39"/><circle cx="1171" cy="1039" r="6.6" opacity="0.16"/><circle cx="1437" cy="1214" r="5.1" opacity="0.14"/><circle cx="1438" cy="795" r="5.7" opacity="0.15"/><circle cx="1487" cy="792" r="6.6" opacity="0.19"/><circle cx="1365" cy="725" r="7.8" opacity="0.14"/><circle cx="1426" cy="1076" r="5.7" opacity="0.20"/><circle cx="1339" cy="905" r="6.9" opacity="0.16"/><circle cx="1357" cy="1051" r="7.2" opacity="0.12"/><circle cx="1249" cy="725" r="7.2" opacity="0.20"/><circle cx="1419" cy="747" r="6.1" opacity="0.16"/><circle cx="1064" cy="832" r="7.9" opacity="0.41"/><circle cx="1123" cy="1166" r="6.6" opacity="0.30"/><circle cx="1323" cy="846" r="5.1" opacity="0.10"/><circle cx="1329" cy="1034" r="7.0" opacity="0.16"/><circle cx="1220" cy="887" r="6.9" opacity="0.15"/><circle cx="1300" cy="1127" r="5.8" opacity="0.19"/><circle cx="1035" cy="863" r="7.4" opacity="0.24"/><circle cx="1033" cy="732" r="7.1" opacity="0.23"/><circle cx="1231" cy="957" r="7.2" opacity="0.16"/><circle cx="1263" cy="737" r="7.2" opacity="0.20"/><circle cx="1313" cy="1169" r="6.5" opacity="0.19"/><circle cx="1425" cy="1053" r="4.1" opacity="0.21"/><circle cx="1494" cy="831" r="4.3" opacity="0.14"/><circle cx="1054" cy="921" r="4.4" opacity="0.26"/><circle cx="1007" cy="952" r="5.2" opacity="0.38"/><circle cx="1197" cy="812" r="7.8" opacity="0.21"/><circle cx="1345" cy="840" r="5.6" opacity="0.16"/><circle cx="1207" cy="738" r="5.8" opacity="0.20"/><circle cx="1348" cy="1182" r="6.7" opacity="0.20"/><circle cx="1435" cy="1212" r="7.2" opacity="0.15"/><circle cx="1331" cy="1075" r="7.5" opacity="0.19"/><circle cx="1224" cy="826" r="5.3" opacity="0.13"/><circle cx="1342" cy="1134" r="4.8" opacity="0.17"/><circle cx="1420" cy="919" r="4.4" opacity="0.18"/><circle cx="1184" cy="801" r="5.2" opacity="0.10"/><circle cx="1079" cy="950" r="4.4" opacity="0.20"/><circle cx="1277" cy="1234" r="7.3" opacity="0.14"/><circle cx="1462" cy="767" r="4.6" opacity="0.10"/><circle cx="1034" cy="1044" r="7.0" opacity="0.32"/><circle cx="1402" cy="964" r="7.7" opacity="0.18"/><circle cx="1270" cy="815" r="5.7" opacity="0.16"/><circle cx="1411" cy="846" r="5.2" opacity="0.20"/><circle cx="1040" cy="1010" r="4.9" opacity="0.37"/><circle cx="1299" cy="774" r="6.9" opacity="0.15"/><circle cx="1163" cy="1180" r="7.1" opacity="0.14"/><circle cx="1340" cy="790" r="6.1" opacity="0.11"/><circle cx="1322" cy="1212" r="6.5" opacity="0.11"/><circle cx="1258" cy="974" r="5.8" opacity="0.12"/><circle cx="1142" cy="963" r="4.3" opacity="0.37"/><circle cx="1125" cy="879" r="4.4" opacity="0.28"/><circle cx="1465" cy="879" r="4.4" opacity="0.14"/><circle cx="1472" cy="771" r="5.4" opacity="0.13"/><circle cx="1342" cy="970" r="4.4" opacity="0.21"/><circle cx="1167" cy="1089" r="5.8" opacity="0.21"/><circle cx="1034" cy="845" r="5.1" opacity="0.27"/><circle cx="1411" cy="992" r="5.4" opacity="0.16"/><circle cx="1423" cy="1027" r="5.8" opacity="0.18"/><circle cx="1309" cy="940" r="5.7" opacity="0.12"/><circle cx="1222" cy="1192" r="5.2" opacity="0.15"/><circle cx="1303" cy="1038" r="4.7" opacity="0.16"/><circle cx="1368" cy="746" r="4.4" opacity="0.19"/><circle cx="1452" cy="760" r="4.3" opacity="0.18"/><circle cx="1146" cy="1074" r="4.1" opacity="0.31"/><circle cx="1085" cy="901" r="6.8" opacity="0.33"/><circle cx="1427" cy="1172" r="6.5" opacity="0.21"/><circle cx="1093" cy="977" r="5.3" opacity="0.36"/><circle cx="1060" cy="1195" r="5.5" opacity="0.40"/><circle cx="1471" cy="1225" r="5.6" opacity="0.21"/><circle cx="1498" cy="793" r="7.0" opacity="0.19"/><circle cx="1231" cy="872" r="4.7" opacity="0.15"/><circle cx="1465" cy="938" r="5.0" opacity="0.18"/><circle cx="1221" cy="1051" r="5.8" opacity="0.14"/><circle cx="1023" cy="1160" r="6.6" opacity="0.26"/><circle cx="1252" cy="1033" r="6.0" opacity="0.21"/><circle cx="1390" cy="887" r="5.4" opacity="0.18"/><circle cx="1085" cy="1221" r="4.2" opacity="0.32"/><circle cx="1140" cy="1004" r="4.2" opacity="0.26"/><circle cx="1494" cy="1144" r="4.9" opacity="0.16"/><circle cx="1021" cy="789" r="4.8" opacity="0.45"/><circle cx="1159" cy="856" r="4.3" opacity="0.23"/><circle cx="1497" cy="1118" r="7.7" opacity="0.20"/><circle cx="1392" cy="860" r="4.7" opacity="0.13"/><circle cx="1037" cy="817" r="6.9" opacity="0.32"/><circle cx="1010" cy="886" r="7.4" opacity="0.41"/><circle cx="1365" cy="1113" r="7.6" opacity="0.17"/><circle cx="1194" cy="1029" r="5.1" opacity="0.10"/><circle cx="1133" cy="968" r="4.5" opacity="0.22"/><circle cx="1127" cy="920" r="7.8" opacity="0.32"/><circle cx="1418" cy="1120" r="6.4" opacity="0.14"/><circle cx="1199" cy="893" r="6.5" opacity="0.21"/><circle cx="1396" cy="881" r="4.6" opacity="0.10"/><circle cx="1294" cy="845" r="4.0" opacity="0.14"/><circle cx="1118" cy="833" r="6.7" opacity="0.35"/><circle cx="1144" cy="1113" r="4.8" opacity="0.43"/><circle cx="1064" cy="1039" r="6.8" opacity="0.38"/><circle cx="1246" cy="1188" r="6.5" opacity="0.19"/><circle cx="1044" cy="823" r="5.9" opacity="0.34"/><circle cx="1052" cy="1119" r="5.4" opacity="0.32"/><circle cx="1263" cy="1171" r="5.2" opacity="0.17"/><circle cx="1304" cy="1073" r="5.2" opacity="0.13"/><circle cx="1237" cy="1044" r="6.6" opacity="0.12"/><circle cx="1225" cy="1022" r="4.8" opacity="0.11"/><circle cx="1464" cy="735" r="6.0" opacity="0.14"/><circle cx="1020" cy="868" r="4.6" opacity="0.30"/><circle cx="1454" cy="766" r="5.4" opacity="0.19"/><circle cx="1314" cy="735" r="4.9" opacity="0.14"/><circle cx="1447" cy="959" r="5.0" opacity="0.16"/><circle cx="1245" cy="804" r="6.7" opacity="0.19"/><circle cx="1241" cy="1010" r="7.1" opacity="0.22"/><circle cx="1308" cy="748" r="6.0" opacity="0.18"/><circle cx="1168" cy="1088" r="5.5" opacity="0.18"/><circle cx="1308" cy="1081" r="7.7" opacity="0.19"/><circle cx="1355" cy="1099" r="4.9" opacity="0.18"/><circle cx="1311" cy="756" r="7.0" opacity="0.13"/><circle cx="1248" cy="1003" r="6.9" opacity="0.20"/><circle cx="1236" cy="1224" r="5.8" opacity="0.17"/><circle cx="1495" cy="896" r="6.9" opacity="0.22"/><circle cx="1047" cy="1138" r="6.6" opacity="0.33"/><circle cx="1395" cy="1182" r="4.6" opacity="0.16"/><circle cx="1309" cy="1096" r="7.8" opacity="0.20"/><circle cx="1414" cy="758" r="5.7" opacity="0.21"/><circle cx="1472" cy="1127" r="5.3" opacity="0.20"/><circle cx="1268" cy="1079" r="6.5" opacity="0.21"/><circle cx="1358" cy="1241" r="6.0" opacity="0.16"/><circle cx="1330" cy="1023" r="4.2" opacity="0.22"/><circle cx="1162" cy="990" r="4.2" opacity="0.12"/><circle cx="1464" cy="872" r="5.2" opacity="0.20"/><circle cx="1124" cy="1079" r="6.3" opacity="0.42"/><circle cx="1241" cy="899" r="5.0" opacity="0.15"/><circle cx="1005" cy="788" r="4.6" opacity="0.28"/><circle cx="1385" cy="1226" r="5.4" opacity="0.13"/><circle cx="1150" cy="1059" r="5.9" opacity="0.23"/><circle cx="1264" cy="867" r="4.6" opacity="0.20"/><circle cx="1057" cy="958" r="7.1" opacity="0.34"/><circle cx="1437" cy="893" r="7.8" opacity="0.11"/><circle cx="1447" cy="950" r="4.0" opacity="0.13"/><circle cx="1493" cy="1105" r="6.9" opacity="0.20"/><circle cx="1008" cy="887" r="5.9" opacity="0.43"/><circle cx="1454" cy="804" r="7.9" opacity="0.17"/><circle cx="1156" cy="768" r="5.7" opacity="0.33"/><circle cx="1229" cy="889" r="7.8" opacity="0.16"/><circle cx="1157" cy="1138" r="5.0" opacity="0.31"/><circle cx="1056" cy="851" r="8.0" opacity="0.36"/><circle cx="1264" cy="1083" r="6.7" opacity="0.17"/><circle cx="1186" cy="802" r="4.1" opacity="0.12"/><circle cx="1205" cy="729" r="6.7" opacity="0.14"/><circle cx="1120" cy="891" r="6.0" opacity="0.25"/><circle cx="1426" cy="981" r="4.3" opacity="0.11"/><circle cx="1445" cy="1032" r="5.2" opacity="0.19"/><circle cx="1028" cy="1197" r="7.7" opacity="0.37"/><circle cx="1030" cy="951" r="7.3" opacity="0.35"/><circle cx="1108" cy="849" r="4.3" opacity="0.33"/><circle cx="1095" cy="961" r="7.6" opacity="0.43"/><circle cx="1248" cy="1141" r="4.5" opacity="0.22"/><circle cx="1433" cy="981" r="7.5" opacity="0.14"/><circle cx="1489" cy="896" r="7.7" opacity="0.20"/><circle cx="1467" cy="1111" r="4.3" opacity="0.13"/><circle cx="1329" cy="1208" r="6.7" opacity="0.10"/><circle cx="1177" cy="908" r="4.7" opacity="0.13"/><circle cx="1260" cy="923" r="5.1" opacity="0.15"/><circle cx="1473" cy="1042" r="7.0" opacity="0.22"/><circle cx="1020" cy="1193" r="4.4" opacity="0.25"/><circle cx="1370" cy="1125" r="6.5" opacity="0.16"/><circle cx="1362" cy="952" r="4.8" opacity="0.13"/><circle cx="1061" cy="744" r="7.8" opacity="0.44"/><circle cx="1177" cy="944" r="5.1" opacity="0.20"/><circle cx="1248" cy="815" r="7.5" opacity="0.22"/><circle cx="1028" cy="968" r="4.9" opacity="0.36"/><circle cx="1182" cy="883" r="5.2" opacity="0.18"/><circle cx="1254" cy="984" r="6.7" opacity="0.16"/><circle cx="1473" cy="958" r="7.2" opacity="0.22"/><circle cx="1312" cy="1038" r="7.2" opacity="0.19"/></g>
<g fill="#D8D8D8" filter="url(#sb)"><circle cx="1101" cy="946" r="3.5" opacity="0.31"/><circle cx="1345" cy="899" r="3.9" opacity="0.31"/><circle cx="1016" cy="1082" r="4.3" opacity="0.47"/><circle cx="1339" cy="1207" r="5.5" opacity="0.39"/><circle cx="1494" cy="822" r="5.0" opacity="0.56"/><circle cx="1147" cy="1197" r="5.1" opacity="0.58"/><circle cx="1073" cy="1167" r="4.0" opacity="0.55"/><circle cx="1369" cy="896" r="3.9" opacity="0.43"/><circle cx="1488" cy="1074" r="4.6" opacity="0.52"/><circle cx="1329" cy="864" r="3.3" opacity="0.34"/><circle cx="1293" cy="1043" r="6.4" opacity="0.55"/><circle cx="1426" cy="1249" r="4.7" opacity="0.47"/><circle cx="1238" cy="922" r="5.7" opacity="0.53"/><circle cx="1066" cy="1233" r="4.8" opacity="0.60"/><circle cx="1275" cy="1037" r="5.0" opacity="0.35"/><circle cx="1070" cy="1113" r="4.2" opacity="0.35"/><circle cx="1408" cy="1122" r="5.7" opacity="0.45"/><circle cx="1070" cy="1128" r="3.8" opacity="0.57"/><circle cx="1349" cy="870" r="3.0" opacity="0.54"/><circle cx="1395" cy="1037" r="6.4" opacity="0.39"/><circle cx="1366" cy="956" r="5.0" opacity="0.42"/><circle cx="1119" cy="1016" r="5.1" opacity="0.66"/><circle cx="1303" cy="990" r="5.3" opacity="0.55"/><circle cx="1207" cy="866" r="5.4" opacity="0.45"/><circle cx="1023" cy="815" r="4.3" opacity="0.57"/><circle cx="1329" cy="985" r="5.9" opacity="0.43"/><circle cx="1178" cy="1124" r="5.4" opacity="0.47"/><circle cx="1444" cy="738" r="4.9" opacity="0.64"/><circle cx="1439" cy="827" r="5.8" opacity="0.51"/><circle cx="1467" cy="899" r="5.3" opacity="0.56"/><circle cx="1494" cy="905" r="4.4" opacity="0.35"/><circle cx="1343" cy="761" r="6.0" opacity="0.36"/><circle cx="1099" cy="1230" r="4.7" opacity="0.60"/><circle cx="1176" cy="853" r="4.3" opacity="0.69"/><circle cx="1100" cy="1206" r="6.1" opacity="0.57"/><circle cx="1136" cy="1113" r="6.2" opacity="0.54"/><circle cx="1114" cy="1049" r="6.3" opacity="0.54"/><circle cx="1079" cy="832" r="5.2" opacity="0.32"/><circle cx="1006" cy="923" r="3.9" opacity="0.50"/><circle cx="1041" cy="1022" r="5.4" opacity="0.43"/><circle cx="1292" cy="1005" r="5.8" opacity="0.53"/><circle cx="1320" cy="1024" r="5.9" opacity="0.34"/><circle cx="1061" cy="1185" r="5.9" opacity="0.30"/><circle cx="1447" cy="1048" r="6.0" opacity="0.58"/><circle cx="1191" cy="785" r="5.7" opacity="0.58"/><circle cx="1237" cy="868" r="4.3" opacity="0.67"/><circle cx="1234" cy="836" r="6.5" opacity="0.69"/><circle cx="1092" cy="829" r="5.6" opacity="0.45"/><circle cx="1239" cy="1088" r="4.0" opacity="0.54"/><circle cx="1106" cy="842" r="4.9" opacity="0.47"/><circle cx="1447" cy="800" r="6.2" opacity="0.40"/><circle cx="1174" cy="781" r="4.1" opacity="0.69"/><circle cx="1184" cy="1169" r="6.4" opacity="0.58"/><circle cx="1096" cy="954" r="3.6" opacity="0.40"/><circle cx="1170" cy="812" r="5.4" opacity="0.51"/><circle cx="1149" cy="860" r="3.5" opacity="0.35"/><circle cx="1222" cy="764" r="4.8" opacity="0.40"/><circle cx="1386" cy="866" r="6.0" opacity="0.68"/><circle cx="1464" cy="845" r="6.3" opacity="0.49"/><circle cx="1442" cy="971" r="4.9" opacity="0.40"/><circle cx="1379" cy="920" r="6.1" opacity="0.58"/><circle cx="1217" cy="741" r="3.9" opacity="0.47"/><circle cx="1188" cy="1034" r="3.0" opacity="0.49"/><circle cx="1446" cy="1232" r="5.4" opacity="0.57"/><circle cx="1303" cy="1256" r="5.8" opacity="0.48"/><circle cx="1250" cy="1224" r="4.9" opacity="0.54"/><circle cx="1157" cy="1078" r="4.7" opacity="0.68"/><circle cx="1499" cy="1254" r="6.3" opacity="0.32"/><circle cx="1041" cy="905" r="5.9" opacity="0.52"/><circle cx="1132" cy="778" r="3.9" opacity="0.35"/><circle cx="1076" cy="1121" r="3.7" opacity="0.37"/><circle cx="1311" cy="794" r="5.9" opacity="0.56"/><circle cx="1439" cy="1111" r="5.6" opacity="0.41"/><circle cx="1214" cy="926" r="4.4" opacity="0.66"/><circle cx="1220" cy="1150" r="5.2" opacity="0.33"/><circle cx="1109" cy="1032" r="5.8" opacity="0.39"/><circle cx="1128" cy="925" r="4.6" opacity="0.47"/><circle cx="1462" cy="1048" r="4.0" opacity="0.44"/><circle cx="1256" cy="810" r="4.4" opacity="0.33"/><circle cx="1329" cy="1186" r="6.1" opacity="0.54"/><circle cx="1195" cy="1022" r="4.9" opacity="0.37"/><circle cx="1272" cy="989" r="3.7" opacity="0.48"/><circle cx="1418" cy="1066" r="4.2" opacity="0.40"/><circle cx="1316" cy="1018" r="4.0" opacity="0.49"/><circle cx="1206" cy="1058" r="6.1" opacity="0.45"/><circle cx="1271" cy="1023" r="5.3" opacity="0.40"/><circle cx="1127" cy="1215" r="3.5" opacity="0.57"/><circle cx="1134" cy="986" r="4.6" opacity="0.40"/><circle cx="1092" cy="1234" r="3.1" opacity="0.36"/><circle cx="1370" cy="922" r="3.7" opacity="0.61"/><circle cx="1490" cy="835" r="5.5" opacity="0.46"/><circle cx="1498" cy="1042" r="6.1" opacity="0.57"/><circle cx="1070" cy="959" r="5.5" opacity="0.36"/><circle cx="1048" cy="1252" r="6.2" opacity="0.56"/><circle cx="1036" cy="1097" r="6.5" opacity="0.61"/><circle cx="1358" cy="958" r="5.2" opacity="0.67"/><circle cx="1252" cy="764" r="3.5" opacity="0.68"/><circle cx="1355" cy="1222" r="3.5" opacity="0.34"/><circle cx="1342" cy="952" r="4.6" opacity="0.39"/><circle cx="1382" cy="1140" r="5.5" opacity="0.47"/><circle cx="1247" cy="935" r="4.6" opacity="0.43"/><circle cx="1237" cy="1236" r="5.8" opacity="0.35"/><circle cx="1336" cy="1161" r="4.2" opacity="0.66"/><circle cx="1470" cy="762" r="5.2" opacity="0.45"/><circle cx="1235" cy="1016" r="6.0" opacity="0.55"/><circle cx="1444" cy="856" r="5.8" opacity="0.46"/><circle cx="1095" cy="1152" r="5.0" opacity="0.39"/><circle cx="1446" cy="986" r="5.4" opacity="0.69"/><circle cx="1166" cy="1014" r="4.9" opacity="0.41"/><circle cx="1269" cy="1238" r="5.4" opacity="0.41"/><circle cx="1343" cy="1052" r="4.3" opacity="0.57"/><circle cx="1191" cy="1140" r="4.4" opacity="0.63"/><circle cx="1152" cy="815" r="4.2" opacity="0.35"/><circle cx="1437" cy="1254" r="4.5" opacity="0.40"/><circle cx="1441" cy="1177" r="3.9" opacity="0.42"/><circle cx="1251" cy="794" r="3.7" opacity="0.46"/><circle cx="1064" cy="801" r="5.1" opacity="0.42"/><circle cx="1457" cy="1236" r="5.3" opacity="0.41"/><circle cx="1380" cy="904" r="6.0" opacity="0.47"/><circle cx="1347" cy="1124" r="5.5" opacity="0.60"/><circle cx="1174" cy="805" r="4.3" opacity="0.68"/><circle cx="1023" cy="874" r="4.1" opacity="0.48"/><circle cx="1435" cy="816" r="3.4" opacity="0.31"/><circle cx="1173" cy="1111" r="4.6" opacity="0.56"/><circle cx="1258" cy="916" r="4.4" opacity="0.32"/><circle cx="1475" cy="1114" r="3.3" opacity="0.38"/><circle cx="1392" cy="994" r="5.6" opacity="0.60"/><circle cx="1077" cy="1162" r="3.7" opacity="0.36"/><circle cx="1374" cy="1158" r="4.1" opacity="0.45"/><circle cx="1368" cy="881" r="4.6" opacity="0.70"/><circle cx="1069" cy="1226" r="6.1" opacity="0.70"/><circle cx="1126" cy="830" r="4.5" opacity="0.37"/><circle cx="1462" cy="1028" r="5.9" opacity="0.50"/><circle cx="1251" cy="1233" r="3.4" opacity="0.39"/><circle cx="1428" cy="1038" r="5.7" opacity="0.70"/><circle cx="1386" cy="1049" r="5.6" opacity="0.51"/><circle cx="1113" cy="897" r="6.2" opacity="0.51"/><circle cx="1021" cy="1066" r="6.5" opacity="0.55"/><circle cx="1248" cy="967" r="5.2" opacity="0.55"/><circle cx="1246" cy="1205" r="6.1" opacity="0.61"/><circle cx="1363" cy="1107" r="3.7" opacity="0.50"/><circle cx="1137" cy="833" r="6.3" opacity="0.39"/><circle cx="1408" cy="1168" r="4.4" opacity="0.31"/><circle cx="1093" cy="1068" r="5.5" opacity="0.44"/><circle cx="1301" cy="811" r="5.3" opacity="0.61"/><circle cx="1392" cy="1024" r="5.0" opacity="0.30"/><circle cx="1137" cy="940" r="3.3" opacity="0.33"/><circle cx="1478" cy="1088" r="5.0" opacity="0.58"/><circle cx="1434" cy="1062" r="4.5" opacity="0.46"/><circle cx="1484" cy="1232" r="3.5" opacity="0.63"/><circle cx="1322" cy="907" r="5.4" opacity="0.41"/><circle cx="1373" cy="1022" r="5.0" opacity="0.32"/><circle cx="1451" cy="1233" r="5.7" opacity="0.42"/><circle cx="1362" cy="786" r="4.9" opacity="0.44"/><circle cx="1238" cy="878" r="3.2" opacity="0.47"/><circle cx="1122" cy="817" r="4.2" opacity="0.35"/><circle cx="1016" cy="1243" r="3.2" opacity="0.66"/><circle cx="1212" cy="788" r="4.5" opacity="0.50"/><circle cx="1032" cy="1013" r="3.0" opacity="0.42"/><circle cx="1356" cy="1174" r="3.6" opacity="0.46"/><circle cx="1473" cy="892" r="3.4" opacity="0.40"/><circle cx="1433" cy="908" r="5.3" opacity="0.68"/><circle cx="1312" cy="829" r="4.7" opacity="0.43"/><circle cx="1242" cy="1052" r="6.4" opacity="0.58"/><circle cx="1256" cy="1156" r="4.8" opacity="0.38"/><circle cx="1336" cy="868" r="3.7" opacity="0.46"/><circle cx="1245" cy="741" r="4.3" opacity="0.68"/><circle cx="1257" cy="920" r="4.6" opacity="0.58"/><circle cx="1253" cy="940" r="5.0" opacity="0.41"/><circle cx="1342" cy="950" r="5.5" opacity="0.44"/><circle cx="1320" cy="828" r="4.7" opacity="0.50"/><circle cx="1013" cy="791" r="4.6" opacity="0.61"/><circle cx="1406" cy="1173" r="5.8" opacity="0.69"/><circle cx="1102" cy="804" r="3.5" opacity="0.62"/><circle cx="1099" cy="893" r="3.5" opacity="0.66"/><circle cx="1108" cy="849" r="5.1" opacity="0.58"/><circle cx="1024" cy="1033" r="4.9" opacity="0.52"/><circle cx="1260" cy="1149" r="5.9" opacity="0.64"/><circle cx="1168" cy="746" r="4.6" opacity="0.31"/><circle cx="1319" cy="980" r="5.6" opacity="0.63"/><circle cx="1367" cy="1093" r="4.2" opacity="0.59"/><circle cx="1321" cy="841" r="6.0" opacity="0.49"/><circle cx="1267" cy="829" r="5.9" opacity="0.49"/><circle cx="1372" cy="1172" r="4.8" opacity="0.53"/><circle cx="1234" cy="851" r="5.8" opacity="0.67"/><circle cx="1022" cy="742" r="4.6" opacity="0.33"/><circle cx="1222" cy="906" r="3.8" opacity="0.61"/><circle cx="1292" cy="1215" r="3.7" opacity="0.45"/><circle cx="1310" cy="1136" r="4.5" opacity="0.37"/><circle cx="1195" cy="1027" r="6.4" opacity="0.56"/><circle cx="1422" cy="1168" r="4.5" opacity="0.50"/><circle cx="1417" cy="1109" r="4.4" opacity="0.38"/><circle cx="1366" cy="880" r="3.9" opacity="0.40"/><circle cx="1344" cy="1068" r="6.3" opacity="0.54"/><circle cx="1244" cy="1195" r="3.5" opacity="0.54"/><circle cx="1493" cy="901" r="3.5" opacity="0.35"/><circle cx="1019" cy="1114" r="4.4" opacity="0.63"/><circle cx="1418" cy="738" r="4.1" opacity="0.41"/><circle cx="1135" cy="739" r="3.9" opacity="0.44"/><circle cx="1229" cy="1007" r="6.4" opacity="0.34"/><circle cx="1071" cy="1205" r="4.0" opacity="0.52"/><circle cx="1156" cy="1201" r="6.3" opacity="0.53"/><circle cx="1051" cy="922" r="5.5" opacity="0.53"/><circle cx="1143" cy="935" r="3.2" opacity="0.46"/><circle cx="1412" cy="930" r="4.6" opacity="0.37"/><circle cx="1357" cy="946" r="4.3" opacity="0.61"/><circle cx="1152" cy="765" r="5.2" opacity="0.60"/><circle cx="1031" cy="908" r="6.1" opacity="0.50"/><circle cx="1206" cy="793" r="4.0" opacity="0.53"/><circle cx="1457" cy="1077" r="6.4" opacity="0.46"/><circle cx="1039" cy="906" r="4.3" opacity="0.32"/><circle cx="1045" cy="1209" r="6.1" opacity="0.35"/><circle cx="1046" cy="1246" r="3.6" opacity="0.42"/><circle cx="1117" cy="835" r="3.1" opacity="0.48"/><circle cx="1388" cy="762" r="4.7" opacity="0.35"/><circle cx="1394" cy="1206" r="6.1" opacity="0.51"/><circle cx="1075" cy="1106" r="3.2" opacity="0.61"/><circle cx="1153" cy="1199" r="4.0" opacity="0.60"/><circle cx="1250" cy="851" r="4.7" opacity="0.47"/><circle cx="1082" cy="1015" r="4.9" opacity="0.58"/><circle cx="1173" cy="1051" r="3.7" opacity="0.51"/><circle cx="1123" cy="1142" r="3.7" opacity="0.42"/><circle cx="1039" cy="883" r="4.9" opacity="0.39"/><circle cx="1065" cy="1200" r="4.1" opacity="0.39"/><circle cx="1202" cy="1172" r="5.6" opacity="0.66"/><circle cx="1275" cy="902" r="4.8" opacity="0.32"/><circle cx="1342" cy="1171" r="6.2" opacity="0.63"/><circle cx="1325" cy="1152" r="4.0" opacity="0.52"/><circle cx="1086" cy="1223" r="4.8" opacity="0.37"/><circle cx="1491" cy="1054" r="3.7" opacity="0.64"/><circle cx="1314" cy="1055" r="6.1" opacity="0.43"/><circle cx="1142" cy="1028" r="3.7" opacity="0.58"/><circle cx="1241" cy="831" r="3.4" opacity="0.36"/><circle cx="1290" cy="1211" r="5.8" opacity="0.64"/><circle cx="1285" cy="1151" r="4.2" opacity="0.45"/><circle cx="1451" cy="862" r="5.2" opacity="0.53"/><circle cx="1031" cy="1026" r="5.8" opacity="0.66"/><circle cx="1212" cy="1203" r="3.1" opacity="0.66"/><circle cx="1341" cy="1156" r="4.6" opacity="0.53"/><circle cx="1413" cy="843" r="3.6" opacity="0.60"/><circle cx="1438" cy="845" r="4.9" opacity="0.50"/><circle cx="1159" cy="1173" r="4.0" opacity="0.61"/><circle cx="1209" cy="802" r="6.4" opacity="0.36"/><circle cx="1055" cy="740" r="4.2" opacity="0.31"/><circle cx="1082" cy="1225" r="3.9" opacity="0.59"/><circle cx="1110" cy="731" r="3.0" opacity="0.35"/><circle cx="1476" cy="967" r="3.9" opacity="0.32"/><circle cx="1322" cy="892" r="3.6" opacity="0.47"/><circle cx="1356" cy="906" r="5.0" opacity="0.38"/><circle cx="1281" cy="746" r="6.2" opacity="0.67"/><circle cx="1289" cy="976" r="4.4" opacity="0.60"/><circle cx="1291" cy="1102" r="4.6" opacity="0.46"/><circle cx="1362" cy="820" r="4.2" opacity="0.40"/><circle cx="1107" cy="1184" r="4.1" opacity="0.59"/><circle cx="1029" cy="1216" r="4.6" opacity="0.60"/><circle cx="1057" cy="1045" r="5.8" opacity="0.42"/><circle cx="1051" cy="928" r="5.7" opacity="0.60"/><circle cx="1037" cy="897" r="6.2" opacity="0.42"/><circle cx="1048" cy="1186" r="5.9" opacity="0.48"/><circle cx="1349" cy="1124" r="5.9" opacity="0.38"/><circle cx="1366" cy="1216" r="5.8" opacity="0.51"/><circle cx="1200" cy="1246" r="6.5" opacity="0.62"/><circle cx="1255" cy="1200" r="6.1" opacity="0.50"/><circle cx="1070" cy="1050" r="3.5" opacity="0.43"/><circle cx="1286" cy="991" r="5.3" opacity="0.63"/><circle cx="1474" cy="889" r="6.3" opacity="0.43"/><circle cx="1177" cy="1127" r="6.4" opacity="0.50"/><circle cx="1398" cy="1164" r="4.1" opacity="0.55"/><circle cx="1469" cy="735" r="3.4" opacity="0.65"/><circle cx="1285" cy="948" r="5.8" opacity="0.48"/><circle cx="1074" cy="910" r="5.7" opacity="0.56"/><circle cx="1250" cy="730" r="6.5" opacity="0.33"/><circle cx="1142" cy="1145" r="6.3" opacity="0.58"/><circle cx="1194" cy="1121" r="5.3" opacity="0.53"/><circle cx="1393" cy="1018" r="4.9" opacity="0.40"/><circle cx="1389" cy="781" r="3.3" opacity="0.55"/><circle cx="1028" cy="1190" r="3.7" opacity="0.49"/><circle cx="1133" cy="981" r="5.2" opacity="0.38"/><circle cx="1274" cy="1242" r="3.5" opacity="0.39"/><circle cx="1101" cy="781" r="3.0" opacity="0.68"/><circle cx="1481" cy="745" r="5.9" opacity="0.53"/><circle cx="1108" cy="1194" r="3.4" opacity="0.56"/><circle cx="1337" cy="1096" r="3.8" opacity="0.36"/><circle cx="1317" cy="880" r="5.1" opacity="0.60"/><circle cx="1021" cy="1110" r="6.4" opacity="0.46"/><circle cx="1289" cy="899" r="6.1" opacity="0.39"/><circle cx="1054" cy="992" r="4.6" opacity="0.53"/><circle cx="1106" cy="1218" r="4.9" opacity="0.46"/><circle cx="1374" cy="744" r="6.2" opacity="0.63"/><circle cx="1132" cy="965" r="3.1" opacity="0.62"/><circle cx="1486" cy="1042" r="6.4" opacity="0.49"/><circle cx="1434" cy="1173" r="6.2" opacity="0.48"/><circle cx="1256" cy="743" r="6.3" opacity="0.34"/><circle cx="1292" cy="1045" r="3.6" opacity="0.44"/><circle cx="1153" cy="729" r="4.4" opacity="0.45"/><circle cx="1360" cy="1097" r="6.3" opacity="0.65"/><circle cx="1132" cy="1049" r="5.4" opacity="0.62"/><circle cx="1074" cy="901" r="5.1" opacity="0.43"/><circle cx="1457" cy="945" r="5.5" opacity="0.33"/><circle cx="1449" cy="1242" r="6.4" opacity="0.44"/><circle cx="1417" cy="1248" r="3.4" opacity="0.33"/><circle cx="1333" cy="1250" r="3.1" opacity="0.64"/><circle cx="1331" cy="977" r="3.5" opacity="0.50"/><circle cx="1251" cy="831" r="6.2" opacity="0.60"/><circle cx="1087" cy="1055" r="5.1" opacity="0.68"/><circle cx="1490" cy="1198" r="3.2" opacity="0.47"/><circle cx="1081" cy="1124" r="3.3" opacity="0.63"/><circle cx="1309" cy="1066" r="6.3" opacity="0.65"/><circle cx="1367" cy="1058" r="4.9" opacity="0.51"/><circle cx="1019" cy="828" r="5.4" opacity="0.47"/><circle cx="1228" cy="1174" r="4.4" opacity="0.59"/><circle cx="1402" cy="1167" r="3.8" opacity="0.54"/><circle cx="1236" cy="1037" r="3.3" opacity="0.38"/><circle cx="1126" cy="1142" r="5.7" opacity="0.45"/><circle cx="1304" cy="959" r="4.9" opacity="0.41"/><circle cx="1175" cy="1234" r="6.1" opacity="0.35"/><circle cx="1064" cy="1185" r="4.6" opacity="0.56"/><circle cx="1303" cy="1046" r="6.2" opacity="0.36"/><circle cx="1430" cy="862" r="3.3" opacity="0.42"/><circle cx="1259" cy="1151" r="5.0" opacity="0.69"/><circle cx="1098" cy="926" r="5.0" opacity="0.54"/><circle cx="1349" cy="994" r="3.4" opacity="0.61"/><circle cx="1397" cy="762" r="5.8" opacity="0.30"/><circle cx="1343" cy="1055" r="4.0" opacity="0.34"/><circle cx="1132" cy="1057" r="4.9" opacity="0.63"/><circle cx="1090" cy="1054" r="4.1" opacity="0.32"/><circle cx="1097" cy="783" r="3.6" opacity="0.32"/><circle cx="1487" cy="916" r="5.7" opacity="0.47"/><circle cx="1257" cy="858" r="6.3" opacity="0.38"/><circle cx="1479" cy="1139" r="6.0" opacity="0.34"/><circle cx="1492" cy="1072" r="5.0" opacity="0.53"/><circle cx="1225" cy="1232" r="6.4" opacity="0.68"/><circle cx="1075" cy="1006" r="5.5" opacity="0.37"/><circle cx="1445" cy="1125" r="3.4" opacity="0.42"/><circle cx="1341" cy="1193" r="6.5" opacity="0.41"/><circle cx="1418" cy="1036" r="4.3" opacity="0.40"/><circle cx="1057" cy="742" r="4.5" opacity="0.35"/><circle cx="1106" cy="895" r="3.5" opacity="0.38"/><circle cx="1132" cy="1243" r="4.5" opacity="0.55"/><circle cx="1272" cy="1235" r="5.9" opacity="0.67"/><circle cx="1436" cy="1117" r="6.1" opacity="0.43"/><circle cx="1305" cy="900" r="6.2" opacity="0.41"/><circle cx="1499" cy="850" r="4.2" opacity="0.60"/><circle cx="1288" cy="838" r="3.4" opacity="0.65"/><circle cx="1107" cy="996" r="5.9" opacity="0.49"/><circle cx="1241" cy="811" r="6.3" opacity="0.54"/><circle cx="1335" cy="934" r="5.5" opacity="0.45"/><circle cx="1093" cy="914" r="5.7" opacity="0.65"/><circle cx="1259" cy="1075" r="6.3" opacity="0.56"/><circle cx="1487" cy="859" r="6.1" opacity="0.60"/><circle cx="1287" cy="1040" r="3.6" opacity="0.31"/><circle cx="1020" cy="1198" r="4.4" opacity="0.54"/><circle cx="1224" cy="1192" r="5.6" opacity="0.45"/><circle cx="1320" cy="838" r="6.3" opacity="0.36"/><circle cx="1455" cy="1009" r="3.5" opacity="0.69"/><circle cx="1103" cy="1085" r="3.9" opacity="0.35"/><circle cx="1396" cy="1198" r="6.1" opacity="0.57"/><circle cx="1322" cy="808" r="6.5" opacity="0.43"/><circle cx="1320" cy="738" r="4.1" opacity="0.51"/><circle cx="1239" cy="944" r="4.3" opacity="0.31"/><circle cx="1324" cy="913" r="3.4" opacity="0.45"/><circle cx="1336" cy="1120" r="4.5" opacity="0.35"/><circle cx="1314" cy="1043" r="4.7" opacity="0.69"/><circle cx="1186" cy="1002" r="3.1" opacity="0.35"/><circle cx="1101" cy="823" r="3.6" opacity="0.34"/><circle cx="1459" cy="1037" r="4.7" opacity="0.52"/><circle cx="1145" cy="1185" r="5.6" opacity="0.47"/><circle cx="1016" cy="724" r="3.1" opacity="0.59"/><circle cx="1020" cy="963" r="4.8" opacity="0.45"/><circle cx="1152" cy="1224" r="6.3" opacity="0.60"/><circle cx="1270" cy="1231" r="5.5" opacity="0.39"/><circle cx="1074" cy="802" r="3.4" opacity="0.46"/><circle cx="1305" cy="835" r="3.3" opacity="0.43"/><circle cx="1231" cy="1192" r="6.1" opacity="0.63"/><circle cx="1134" cy="1162" r="4.0" opacity="0.53"/><circle cx="1269" cy="848" r="4.9" opacity="0.41"/><circle cx="1399" cy="849" r="5.7" opacity="0.38"/><circle cx="1009" cy="958" r="6.1" opacity="0.55"/><circle cx="1130" cy="993" r="4.2" opacity="0.56"/><circle cx="1147" cy="813" r="6.5" opacity="0.32"/><circle cx="1072" cy="894" r="4.2" opacity="0.52"/><circle cx="1250" cy="807" r="5.9" opacity="0.58"/><circle cx="1095" cy="814" r="3.4" opacity="0.50"/><circle cx="1319" cy="1107" r="3.8" opacity="0.65"/><circle cx="1450" cy="976" r="3.4" opacity="0.37"/><circle cx="1360" cy="759" r="5.2" opacity="0.59"/><circle cx="1015" cy="802" r="3.8" opacity="0.48"/><circle cx="1425" cy="1149" r="4.4" opacity="0.30"/><circle cx="1272" cy="828" r="4.0" opacity="0.67"/><circle cx="1147" cy="934" r="5.4" opacity="0.67"/><circle cx="1035" cy="1038" r="5.3" opacity="0.35"/><circle cx="1055" cy="902" r="4.2" opacity="0.58"/><circle cx="1483" cy="1077" r="4.5" opacity="0.70"/><circle cx="1466" cy="958" r="4.6" opacity="0.51"/><circle cx="1057" cy="1067" r="5.5" opacity="0.49"/><circle cx="1294" cy="1208" r="5.2" opacity="0.58"/><circle cx="1441" cy="1115" r="4.6" opacity="0.68"/><circle cx="1472" cy="767" r="6.5" opacity="0.37"/><circle cx="1439" cy="1066" r="5.7" opacity="0.44"/><circle cx="1146" cy="818" r="3.4" opacity="0.35"/><circle cx="1089" cy="1161" r="4.9" opacity="0.64"/><circle cx="1492" cy="958" r="3.6" opacity="0.66"/><circle cx="1061" cy="998" r="6.0" opacity="0.35"/><circle cx="1137" cy="1071" r="3.3" opacity="0.65"/><circle cx="1374" cy="1019" r="5.7" opacity="0.36"/><circle cx="1423" cy="1011" r="4.3" opacity="0.63"/><circle cx="1231" cy="747" r="5.4" opacity="0.31"/><circle cx="1283" cy="840" r="4.4" opacity="0.47"/><circle cx="1350" cy="1064" r="4.2" opacity="0.39"/><circle cx="1389" cy="759" r="5.0" opacity="0.59"/><circle cx="1315" cy="738" r="3.3" opacity="0.56"/><circle cx="1394" cy="1061" r="6.4" opacity="0.58"/><circle cx="1215" cy="1234" r="3.8" opacity="0.34"/><circle cx="1198" cy="739" r="5.0" opacity="0.51"/><circle cx="1098" cy="1049" r="4.6" opacity="0.58"/><circle cx="1395" cy="1149" r="5.4" opacity="0.34"/><circle cx="1289" cy="1079" r="3.7" opacity="0.45"/><circle cx="1262" cy="869" r="3.3" opacity="0.41"/><circle cx="1209" cy="1136" r="6.5" opacity="0.64"/><circle cx="1446" cy="1248" r="4.8" opacity="0.55"/></g>
<rect x="1005" y="724" width="494" height="532.5" filter="url(#blob)" opacity="0.35"/>
<rect x="1005" y="724" width="494" height="532.5" filter="url(#blob2)" opacity="0.3"/>
<defs><filter id="mot" x="0" y="0" width="100%" height="100%" color-interpolation-filters="sRGB"><feTurbulence type="fractalNoise" baseFrequency="0.085" numOctaves="2" seed="21"/><feColorMatrix type="matrix" values="0 0 0 0 0  0 0 0 0 0  0 0 0 0 0  4 0 0 0 -1.9"/></filter><filter id="mot2" x="0" y="0" width="100%" height="100%" color-interpolation-filters="sRGB"><feTurbulence type="fractalNoise" baseFrequency="0.085" numOctaves="2" seed="33"/><feColorMatrix type="matrix" values="0 0 0 0 1  0 0 0 0 1  0 0 0 0 1  4 0 0 0 -2.1"/></filter></defs>
<rect x="1005" y="724" width="494" height="532.5" filter="url(#mot)" opacity="0.28"/>
<rect x="1005" y="724" width="494" height="532.5" filter="url(#mot2)" opacity="0.26"/>
<defs><pattern id="latt" patternUnits="userSpaceOnUse" width="4.6" height="4.6"><circle cx="2.3" cy="2.3" r="1.7" fill="none" stroke="#000" stroke-width="0.7"/></pattern></defs>
<rect x="1005" y="724" width="494" height="532.5" fill="url(#latt)" opacity="0.22"/>
<rect x="1005" y="724" width="494" height="532.5" filter="url(#nz)" opacity="0.5"/>
<rect x="1005" y="724" width="494" height="532.5" filter="url(#nz2)" opacity="0.45"/>
</g>
<g stroke="#FFFF00" stroke-width="8.3"><line x1="1192.9" y1="806" x2="1203.2" y2="870.1"/><line x1="1205.2" y1="886.4" x2="1215.9" y2="949"/><line x1="1220.9" y1="970.8" x2="1231.9" y2="1039.9"/><line x1="1230.9" y1="1055.8" x2="1238.4" y2="1111.9"/><line x1="1220.7" y1="799" x2="1230.4" y2="863"/><line x1="1233" y1="880.5" x2="1242" y2="940.6"/><line x1="1247.6" y1="963.3" x2="1256.9" y2="1031.2"/><line x1="1257.6" y1="1044" x2="1265.1" y2="1099.6"/></g>
<g stroke="#FFFF00" stroke-width="7.8" fill="none" stroke-linecap="round" stroke-linejoin="round"><path d="M1164.9,929.6 L1204.5,923.5 M1173.1,913.3 L1204.5,923.5 L1177.8,941.6"/><path d="M1288.4,908.3 L1245.5,915.6 M1273.5,895.7 L1245.5,915.6 L1276.8,925.8"/><path d="M1188.8,1098.2 L1228.0,1091.6 M1199.0,1082.8 L1228.0,1091.6 L1202.5,1111.4"/><path d="M1313.2,1077.5 L1271.0,1084.0 M1297.5,1064.8 L1271.0,1084.0 L1301.1,1094.2"/></g>
<g fill="#FFFF00" class="s" font-size="34.5"><text x="1248.5" y="797" class="s" letter-spacing="0.5">(0 0 2)</text><text x="1251" y="845" class="s">d=9.8 Å</text><text x="1223.5" y="1150.8" class="s">d=3.2 Å</text><text x="1191.5" y="1198.5" class="s">π-π stacking</text></g>
<text x="1047" y="1197.7" class="s" font-size="34" fill="#fff">1 nm</text>
<rect x="1026.3" y="1214.2" width="91.7" height="11.7" fill="#fff"/>
</svg>
</body></html>
